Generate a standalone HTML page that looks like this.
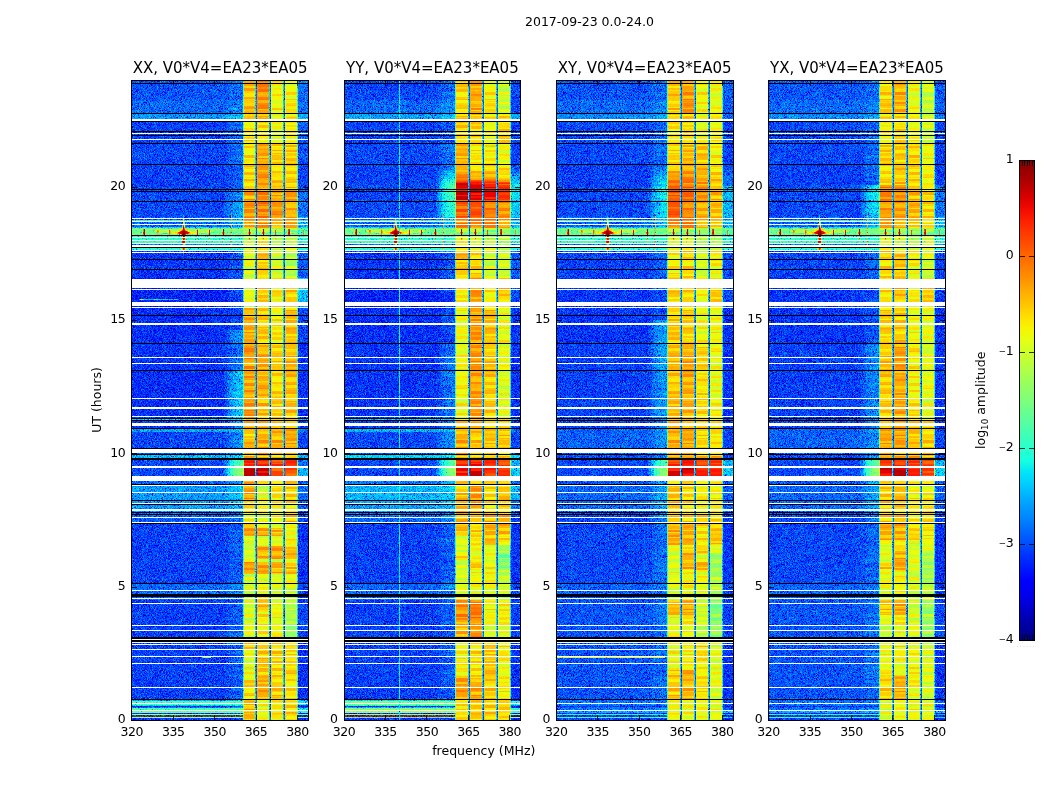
<!DOCTYPE html>
<html lang="en"><head><meta charset="utf-8"><title>2017-09-23 0.0-24.0</title>
<style>html,body{margin:0;padding:0;background:#fff}svg{display:block}text{font-family:'DejaVu Sans','Liberation Sans',sans-serif;fill:#000}</style></head><body>
<svg width="1050" height="800" viewBox="0 0 1050 800">
<rect width="1050" height="800" fill="#fff"/>
<defs>
<filter id="jet0" filterUnits="userSpaceOnUse" x="130" y="79" width="181" height="643" color-interpolation-filters="sRGB">
<feTurbulence type="fractalNoise" baseFrequency="1.37 1.53" numOctaves="2" seed="3" result="t"/>
<feColorMatrix in="t" type="matrix" values="1 0 0 0 0  1 0 0 0 0  1 0 0 0 0  0 0 0 0 1" result="n"/>
<feComponentTransfer in="n" result="n"><feFuncR type="table" tableValues="0 .05 .15 .33 .45 .5 .55 .6 .63 .65 .66"/><feFuncG type="table" tableValues="0 .05 .15 .33 .45 .5 .55 .6 .63 .65 .66"/><feFuncB type="table" tableValues="0 .05 .15 .33 .45 .5 .55 .6 .63 .65 .66"/></feComponentTransfer>
<feComposite in="SourceGraphic" in2="n" operator="arithmetic" k1="-.85" k2="1.417" k3=".85" k4="-.416" result="v"/>
<feComponentTransfer in="v" result="c"><feFuncR type="table" tableValues="0 0 0 0 0 0 0 0 0 0 0 0 0 0 0 0 0 0 0 0 0 0 0 .047 .098 .149 .199 .25 .3 .351 .402 .452 .515 .566 .617 .667 .718 .769 .819 .87 .92 .971 1 1 1 1 1 1 1 1 1 1 1 1 1 1 .999 .928 .857 .785 .714 .643 .571 .5"/><feFuncG type="table" tableValues="0 0 0 0 0 0 0 0 .002 .065 .127 .19 .253 .316 .378 .441 .52 .582 .645 .708 .771 .833 .896 .959 1 1 1 1 1 1 1 1 1 1 1 1 1 1 1 1 1 .959 .901 .843 .785 .727 .669 .611 .538 .48 .422 .364 .306 .248 .19 .131 .073 .015 0 0 0 0 0 0"/><feFuncB type="table" tableValues=".5 .571 .643 .714 .785 .857 .928 .999 1 1 1 1 1 1 1 1 1 1 1 1 1 1 .971 .92 .87 .819 .769 .718 .667 .617 .566 .515 .452 .402 .351 .3 .25 .199 .149 .098 .047 0 0 0 0 0 0 0 0 0 0 0 0 0 0 0 0 0 0 0 0 0 0 0"/><feFuncA type="linear" slope="0" intercept="1"/></feComponentTransfer>
<feComposite in="c" in2="SourceGraphic" operator="in"/>
</filter>
<filter id="jb0" filterUnits="userSpaceOnUse" x="130" y="79" width="181" height="643" color-interpolation-filters="sRGB">
<feTurbulence type="fractalNoise" baseFrequency="1.37 1.53" numOctaves="2" seed="5" result="t"/>
<feColorMatrix in="t" type="matrix" values="1 0 0 0 0  1 0 0 0 0  1 0 0 0 0  0 0 0 0 1" result="n"/>
<feComponentTransfer in="n" result="n"><feFuncR type="table" tableValues="0 .05 .15 .33 .45 .5 .55 .6 .63 .65 .66"/><feFuncG type="table" tableValues="0 .05 .15 .33 .45 .5 .55 .6 .63 .65 .66"/><feFuncB type="table" tableValues="0 .05 .15 .33 .45 .5 .55 .6 .63 .65 .66"/></feComponentTransfer>
<feComposite in="SourceGraphic" in2="n" operator="arithmetic" k1="-.3" k2="1.147" k3=".3" k4="-.147" result="v"/>
<feComponentTransfer in="v" result="c"><feFuncR type="table" tableValues="0 0 0 0 0 0 0 0 0 0 0 0 0 0 0 0 0 0 0 0 0 0 0 .047 .098 .149 .199 .25 .3 .351 .402 .452 .515 .566 .617 .667 .718 .769 .819 .87 .92 .971 1 1 1 1 1 1 1 1 1 1 1 1 1 1 .999 .928 .857 .785 .714 .643 .571 .5"/><feFuncG type="table" tableValues="0 0 0 0 0 0 0 0 .002 .065 .127 .19 .253 .316 .378 .441 .52 .582 .645 .708 .771 .833 .896 .959 1 1 1 1 1 1 1 1 1 1 1 1 1 1 1 1 1 .959 .901 .843 .785 .727 .669 .611 .538 .48 .422 .364 .306 .248 .19 .131 .073 .015 0 0 0 0 0 0"/><feFuncB type="table" tableValues=".5 .571 .643 .714 .785 .857 .928 .999 1 1 1 1 1 1 1 1 1 1 1 1 1 1 .971 .92 .87 .819 .769 .718 .667 .617 .566 .515 .452 .402 .351 .3 .25 .199 .149 .098 .047 0 0 0 0 0 0 0 0 0 0 0 0 0 0 0 0 0 0 0 0 0 0 0"/><feFuncA type="linear" slope="0" intercept="1"/></feComponentTransfer>
<feComposite in="c" in2="SourceGraphic" operator="in"/>
</filter>
<filter id="jet1" filterUnits="userSpaceOnUse" x="342" y="79" width="181" height="643" color-interpolation-filters="sRGB">
<feTurbulence type="fractalNoise" baseFrequency="1.37 1.53" numOctaves="2" seed="10" result="t"/>
<feColorMatrix in="t" type="matrix" values="1 0 0 0 0  1 0 0 0 0  1 0 0 0 0  0 0 0 0 1" result="n"/>
<feComponentTransfer in="n" result="n"><feFuncR type="table" tableValues="0 .05 .15 .33 .45 .5 .55 .6 .63 .65 .66"/><feFuncG type="table" tableValues="0 .05 .15 .33 .45 .5 .55 .6 .63 .65 .66"/><feFuncB type="table" tableValues="0 .05 .15 .33 .45 .5 .55 .6 .63 .65 .66"/></feComponentTransfer>
<feComposite in="SourceGraphic" in2="n" operator="arithmetic" k1="-.85" k2="1.417" k3=".85" k4="-.416" result="v"/>
<feComponentTransfer in="v" result="c"><feFuncR type="table" tableValues="0 0 0 0 0 0 0 0 0 0 0 0 0 0 0 0 0 0 0 0 0 0 0 .047 .098 .149 .199 .25 .3 .351 .402 .452 .515 .566 .617 .667 .718 .769 .819 .87 .92 .971 1 1 1 1 1 1 1 1 1 1 1 1 1 1 .999 .928 .857 .785 .714 .643 .571 .5"/><feFuncG type="table" tableValues="0 0 0 0 0 0 0 0 .002 .065 .127 .19 .253 .316 .378 .441 .52 .582 .645 .708 .771 .833 .896 .959 1 1 1 1 1 1 1 1 1 1 1 1 1 1 1 1 1 .959 .901 .843 .785 .727 .669 .611 .538 .48 .422 .364 .306 .248 .19 .131 .073 .015 0 0 0 0 0 0"/><feFuncB type="table" tableValues=".5 .571 .643 .714 .785 .857 .928 .999 1 1 1 1 1 1 1 1 1 1 1 1 1 1 .971 .92 .87 .819 .769 .718 .667 .617 .566 .515 .452 .402 .351 .3 .25 .199 .149 .098 .047 0 0 0 0 0 0 0 0 0 0 0 0 0 0 0 0 0 0 0 0 0 0 0"/><feFuncA type="linear" slope="0" intercept="1"/></feComponentTransfer>
<feComposite in="c" in2="SourceGraphic" operator="in"/>
</filter>
<filter id="jb1" filterUnits="userSpaceOnUse" x="342" y="79" width="181" height="643" color-interpolation-filters="sRGB">
<feTurbulence type="fractalNoise" baseFrequency="1.37 1.53" numOctaves="2" seed="12" result="t"/>
<feColorMatrix in="t" type="matrix" values="1 0 0 0 0  1 0 0 0 0  1 0 0 0 0  0 0 0 0 1" result="n"/>
<feComponentTransfer in="n" result="n"><feFuncR type="table" tableValues="0 .05 .15 .33 .45 .5 .55 .6 .63 .65 .66"/><feFuncG type="table" tableValues="0 .05 .15 .33 .45 .5 .55 .6 .63 .65 .66"/><feFuncB type="table" tableValues="0 .05 .15 .33 .45 .5 .55 .6 .63 .65 .66"/></feComponentTransfer>
<feComposite in="SourceGraphic" in2="n" operator="arithmetic" k1="-.3" k2="1.147" k3=".3" k4="-.147" result="v"/>
<feComponentTransfer in="v" result="c"><feFuncR type="table" tableValues="0 0 0 0 0 0 0 0 0 0 0 0 0 0 0 0 0 0 0 0 0 0 0 .047 .098 .149 .199 .25 .3 .351 .402 .452 .515 .566 .617 .667 .718 .769 .819 .87 .92 .971 1 1 1 1 1 1 1 1 1 1 1 1 1 1 .999 .928 .857 .785 .714 .643 .571 .5"/><feFuncG type="table" tableValues="0 0 0 0 0 0 0 0 .002 .065 .127 .19 .253 .316 .378 .441 .52 .582 .645 .708 .771 .833 .896 .959 1 1 1 1 1 1 1 1 1 1 1 1 1 1 1 1 1 .959 .901 .843 .785 .727 .669 .611 .538 .48 .422 .364 .306 .248 .19 .131 .073 .015 0 0 0 0 0 0"/><feFuncB type="table" tableValues=".5 .571 .643 .714 .785 .857 .928 .999 1 1 1 1 1 1 1 1 1 1 1 1 1 1 .971 .92 .87 .819 .769 .718 .667 .617 .566 .515 .452 .402 .351 .3 .25 .199 .149 .098 .047 0 0 0 0 0 0 0 0 0 0 0 0 0 0 0 0 0 0 0 0 0 0 0"/><feFuncA type="linear" slope="0" intercept="1"/></feComponentTransfer>
<feComposite in="c" in2="SourceGraphic" operator="in"/>
</filter>
<filter id="jet2" filterUnits="userSpaceOnUse" x="554" y="79" width="181" height="643" color-interpolation-filters="sRGB">
<feTurbulence type="fractalNoise" baseFrequency="1.37 1.53" numOctaves="2" seed="17" result="t"/>
<feColorMatrix in="t" type="matrix" values="1 0 0 0 0  1 0 0 0 0  1 0 0 0 0  0 0 0 0 1" result="n"/>
<feComponentTransfer in="n" result="n"><feFuncR type="table" tableValues="0 .05 .15 .33 .45 .5 .55 .6 .63 .65 .66"/><feFuncG type="table" tableValues="0 .05 .15 .33 .45 .5 .55 .6 .63 .65 .66"/><feFuncB type="table" tableValues="0 .05 .15 .33 .45 .5 .55 .6 .63 .65 .66"/></feComponentTransfer>
<feComposite in="SourceGraphic" in2="n" operator="arithmetic" k1="-.85" k2="1.417" k3=".85" k4="-.416" result="v"/>
<feComponentTransfer in="v" result="c"><feFuncR type="table" tableValues="0 0 0 0 0 0 0 0 0 0 0 0 0 0 0 0 0 0 0 0 0 0 0 .047 .098 .149 .199 .25 .3 .351 .402 .452 .515 .566 .617 .667 .718 .769 .819 .87 .92 .971 1 1 1 1 1 1 1 1 1 1 1 1 1 1 .999 .928 .857 .785 .714 .643 .571 .5"/><feFuncG type="table" tableValues="0 0 0 0 0 0 0 0 .002 .065 .127 .19 .253 .316 .378 .441 .52 .582 .645 .708 .771 .833 .896 .959 1 1 1 1 1 1 1 1 1 1 1 1 1 1 1 1 1 .959 .901 .843 .785 .727 .669 .611 .538 .48 .422 .364 .306 .248 .19 .131 .073 .015 0 0 0 0 0 0"/><feFuncB type="table" tableValues=".5 .571 .643 .714 .785 .857 .928 .999 1 1 1 1 1 1 1 1 1 1 1 1 1 1 .971 .92 .87 .819 .769 .718 .667 .617 .566 .515 .452 .402 .351 .3 .25 .199 .149 .098 .047 0 0 0 0 0 0 0 0 0 0 0 0 0 0 0 0 0 0 0 0 0 0 0"/><feFuncA type="linear" slope="0" intercept="1"/></feComponentTransfer>
<feComposite in="c" in2="SourceGraphic" operator="in"/>
</filter>
<filter id="jb2" filterUnits="userSpaceOnUse" x="554" y="79" width="181" height="643" color-interpolation-filters="sRGB">
<feTurbulence type="fractalNoise" baseFrequency="1.37 1.53" numOctaves="2" seed="19" result="t"/>
<feColorMatrix in="t" type="matrix" values="1 0 0 0 0  1 0 0 0 0  1 0 0 0 0  0 0 0 0 1" result="n"/>
<feComponentTransfer in="n" result="n"><feFuncR type="table" tableValues="0 .05 .15 .33 .45 .5 .55 .6 .63 .65 .66"/><feFuncG type="table" tableValues="0 .05 .15 .33 .45 .5 .55 .6 .63 .65 .66"/><feFuncB type="table" tableValues="0 .05 .15 .33 .45 .5 .55 .6 .63 .65 .66"/></feComponentTransfer>
<feComposite in="SourceGraphic" in2="n" operator="arithmetic" k1="-.3" k2="1.147" k3=".3" k4="-.147" result="v"/>
<feComponentTransfer in="v" result="c"><feFuncR type="table" tableValues="0 0 0 0 0 0 0 0 0 0 0 0 0 0 0 0 0 0 0 0 0 0 0 .047 .098 .149 .199 .25 .3 .351 .402 .452 .515 .566 .617 .667 .718 .769 .819 .87 .92 .971 1 1 1 1 1 1 1 1 1 1 1 1 1 1 .999 .928 .857 .785 .714 .643 .571 .5"/><feFuncG type="table" tableValues="0 0 0 0 0 0 0 0 .002 .065 .127 .19 .253 .316 .378 .441 .52 .582 .645 .708 .771 .833 .896 .959 1 1 1 1 1 1 1 1 1 1 1 1 1 1 1 1 1 .959 .901 .843 .785 .727 .669 .611 .538 .48 .422 .364 .306 .248 .19 .131 .073 .015 0 0 0 0 0 0"/><feFuncB type="table" tableValues=".5 .571 .643 .714 .785 .857 .928 .999 1 1 1 1 1 1 1 1 1 1 1 1 1 1 .971 .92 .87 .819 .769 .718 .667 .617 .566 .515 .452 .402 .351 .3 .25 .199 .149 .098 .047 0 0 0 0 0 0 0 0 0 0 0 0 0 0 0 0 0 0 0 0 0 0 0"/><feFuncA type="linear" slope="0" intercept="1"/></feComponentTransfer>
<feComposite in="c" in2="SourceGraphic" operator="in"/>
</filter>
<filter id="jet3" filterUnits="userSpaceOnUse" x="767" y="79" width="181" height="643" color-interpolation-filters="sRGB">
<feTurbulence type="fractalNoise" baseFrequency="1.37 1.53" numOctaves="2" seed="24" result="t"/>
<feColorMatrix in="t" type="matrix" values="1 0 0 0 0  1 0 0 0 0  1 0 0 0 0  0 0 0 0 1" result="n"/>
<feComponentTransfer in="n" result="n"><feFuncR type="table" tableValues="0 .05 .15 .33 .45 .5 .55 .6 .63 .65 .66"/><feFuncG type="table" tableValues="0 .05 .15 .33 .45 .5 .55 .6 .63 .65 .66"/><feFuncB type="table" tableValues="0 .05 .15 .33 .45 .5 .55 .6 .63 .65 .66"/></feComponentTransfer>
<feComposite in="SourceGraphic" in2="n" operator="arithmetic" k1="-.85" k2="1.417" k3=".85" k4="-.416" result="v"/>
<feComponentTransfer in="v" result="c"><feFuncR type="table" tableValues="0 0 0 0 0 0 0 0 0 0 0 0 0 0 0 0 0 0 0 0 0 0 0 .047 .098 .149 .199 .25 .3 .351 .402 .452 .515 .566 .617 .667 .718 .769 .819 .87 .92 .971 1 1 1 1 1 1 1 1 1 1 1 1 1 1 .999 .928 .857 .785 .714 .643 .571 .5"/><feFuncG type="table" tableValues="0 0 0 0 0 0 0 0 .002 .065 .127 .19 .253 .316 .378 .441 .52 .582 .645 .708 .771 .833 .896 .959 1 1 1 1 1 1 1 1 1 1 1 1 1 1 1 1 1 .959 .901 .843 .785 .727 .669 .611 .538 .48 .422 .364 .306 .248 .19 .131 .073 .015 0 0 0 0 0 0"/><feFuncB type="table" tableValues=".5 .571 .643 .714 .785 .857 .928 .999 1 1 1 1 1 1 1 1 1 1 1 1 1 1 .971 .92 .87 .819 .769 .718 .667 .617 .566 .515 .452 .402 .351 .3 .25 .199 .149 .098 .047 0 0 0 0 0 0 0 0 0 0 0 0 0 0 0 0 0 0 0 0 0 0 0"/><feFuncA type="linear" slope="0" intercept="1"/></feComponentTransfer>
<feComposite in="c" in2="SourceGraphic" operator="in"/>
</filter>
<filter id="jb3" filterUnits="userSpaceOnUse" x="767" y="79" width="181" height="643" color-interpolation-filters="sRGB">
<feTurbulence type="fractalNoise" baseFrequency="1.37 1.53" numOctaves="2" seed="26" result="t"/>
<feColorMatrix in="t" type="matrix" values="1 0 0 0 0  1 0 0 0 0  1 0 0 0 0  0 0 0 0 1" result="n"/>
<feComponentTransfer in="n" result="n"><feFuncR type="table" tableValues="0 .05 .15 .33 .45 .5 .55 .6 .63 .65 .66"/><feFuncG type="table" tableValues="0 .05 .15 .33 .45 .5 .55 .6 .63 .65 .66"/><feFuncB type="table" tableValues="0 .05 .15 .33 .45 .5 .55 .6 .63 .65 .66"/></feComponentTransfer>
<feComposite in="SourceGraphic" in2="n" operator="arithmetic" k1="-.3" k2="1.147" k3=".3" k4="-.147" result="v"/>
<feComponentTransfer in="v" result="c"><feFuncR type="table" tableValues="0 0 0 0 0 0 0 0 0 0 0 0 0 0 0 0 0 0 0 0 0 0 0 .047 .098 .149 .199 .25 .3 .351 .402 .452 .515 .566 .617 .667 .718 .769 .819 .87 .92 .971 1 1 1 1 1 1 1 1 1 1 1 1 1 1 .999 .928 .857 .785 .714 .643 .571 .5"/><feFuncG type="table" tableValues="0 0 0 0 0 0 0 0 .002 .065 .127 .19 .253 .316 .378 .441 .52 .582 .645 .708 .771 .833 .896 .959 1 1 1 1 1 1 1 1 1 1 1 1 1 1 1 1 1 .959 .901 .843 .785 .727 .669 .611 .538 .48 .422 .364 .306 .248 .19 .131 .073 .015 0 0 0 0 0 0"/><feFuncB type="table" tableValues=".5 .571 .643 .714 .785 .857 .928 .999 1 1 1 1 1 1 1 1 1 1 1 1 1 1 .971 .92 .87 .819 .769 .718 .667 .617 .566 .515 .452 .402 .351 .3 .25 .199 .149 .098 .047 0 0 0 0 0 0 0 0 0 0 0 0 0 0 0 0 0 0 0 0 0 0 0"/><feFuncA type="linear" slope="0" intercept="1"/></feComponentTransfer>
<feComposite in="c" in2="SourceGraphic" operator="in"/>
</filter>
<linearGradient id="cb" x1="0" y1="0" x2="0" y2="1">
<stop offset="0" stop-color="#800000"/>
<stop offset=".025" stop-color="#9b0000"/>
<stop offset=".05" stop-color="#b60000"/>
<stop offset=".075" stop-color="#d60000"/>
<stop offset=".1" stop-color="#f10800"/>
<stop offset=".125" stop-color="#ff1e00"/>
<stop offset=".15" stop-color="#ff3800"/>
<stop offset=".175" stop-color="#ff4e00"/>
<stop offset=".2" stop-color="#ff6800"/>
<stop offset=".225" stop-color="#ff7e00"/>
<stop offset=".25" stop-color="#ff9400"/>
<stop offset=".275" stop-color="#ffae00"/>
<stop offset=".3" stop-color="#ffc400"/>
<stop offset=".325" stop-color="#ffde00"/>
<stop offset=".35" stop-color="#f8f500"/>
<stop offset=".375" stop-color="#e4ff13"/>
<stop offset=".4" stop-color="#ceff29"/>
<stop offset=".425" stop-color="#baff3c"/>
<stop offset=".45" stop-color="#a4ff53"/>
<stop offset=".475" stop-color="#90ff66"/>
<stop offset=".5" stop-color="#7dff7a"/>
<stop offset=".525" stop-color="#66ff90"/>
<stop offset=".55" stop-color="#53ffa4"/>
<stop offset=".575" stop-color="#3cffba"/>
<stop offset=".6" stop-color="#29ffce"/>
<stop offset=".625" stop-color="#16ffe1"/>
<stop offset=".65" stop-color="#00e4f8"/>
<stop offset=".675" stop-color="#00ccff"/>
<stop offset=".7" stop-color="#00b0ff"/>
<stop offset=".725" stop-color="#0098ff"/>
<stop offset=".75" stop-color="#0080ff"/>
<stop offset=".775" stop-color="#0064ff"/>
<stop offset=".8" stop-color="#004cff"/>
<stop offset=".825" stop-color="#0030ff"/>
<stop offset=".85" stop-color="#0018ff"/>
<stop offset=".875" stop-color="#0000ff"/>
<stop offset=".9" stop-color="#0000f1"/>
<stop offset=".925" stop-color="#0000d6"/>
<stop offset=".95" stop-color="#0000b6"/>
<stop offset=".975" stop-color="#00009b"/>
<stop offset="1" stop-color="#000080"/>
</linearGradient>
<pattern id="st" patternUnits="userSpaceOnUse" width="40" height="211">
<rect y="2" width="40" height="2" fill="#fff" opacity=".151"/>
<rect y="4" width="40" height="1" fill="#000" opacity=".048"/>
<rect y="5" width="40" height="3" fill="#fff" opacity=".064"/>
<rect y="8" width="40" height="2" fill="#000" opacity=".025"/>
<rect y="10" width="40" height="3" fill="#fff" opacity=".117"/>
<rect y="15" width="40" height="3" fill="#fff" opacity=".125"/>
<rect y="18" width="40" height="2" fill="#000" opacity=".049"/>
<rect y="20" width="40" height="1" fill="#000" opacity=".068"/>
<rect y="21" width="40" height="2" fill="#000" opacity=".046"/>
<rect y="23" width="40" height="2" fill="#fff" opacity=".065"/>
<rect y="25" width="40" height="1" fill="#fff" opacity=".105"/>
<rect y="26" width="40" height="3" fill="#000" opacity=".056"/>
<rect y="31" width="40" height="1" fill="#fff" opacity=".081"/>
<rect y="32" width="40" height="1" fill="#fff" opacity=".044"/>
<rect y="33" width="40" height="2" fill="#fff" opacity=".092"/>
<rect y="35" width="40" height="1" fill="#000" opacity=".073"/>
<rect y="36" width="40" height="3" fill="#000" opacity=".032"/>
<rect y="39" width="40" height="1" fill="#fff" opacity=".167"/>
<rect y="40" width="40" height="2" fill="#000" opacity=".051"/>
<rect y="42" width="40" height="1" fill="#fff" opacity=".075"/>
<rect y="43" width="40" height="1" fill="#000" opacity=".021"/>
<rect y="44" width="40" height="2" fill="#fff" opacity=".055"/>
<rect y="46" width="40" height="1" fill="#fff" opacity=".041"/>
<rect y="47" width="40" height="2" fill="#fff" opacity=".063"/>
<rect y="49" width="40" height="2" fill="#000" opacity=".048"/>
<rect y="51" width="40" height="3" fill="#fff" opacity=".094"/>
<rect y="54" width="40" height="2" fill="#000" opacity=".043"/>
<rect y="56" width="40" height="1" fill="#000" opacity=".068"/>
<rect y="57" width="40" height="2" fill="#000" opacity=".069"/>
<rect y="59" width="40" height="1" fill="#000" opacity=".075"/>
<rect y="60" width="40" height="2" fill="#fff" opacity=".053"/>
<rect y="62" width="40" height="1" fill="#000" opacity=".034"/>
<rect y="63" width="40" height="2" fill="#000" opacity=".036"/>
<rect y="65" width="40" height="1" fill="#000" opacity=".031"/>
<rect y="66" width="40" height="3" fill="#000" opacity=".053"/>
<rect y="69" width="40" height="1" fill="#fff" opacity=".057"/>
<rect y="70" width="40" height="2" fill="#fff" opacity=".115"/>
<rect y="72" width="40" height="2" fill="#000" opacity=".028"/>
<rect y="75" width="40" height="1" fill="#fff" opacity=".061"/>
<rect y="79" width="40" height="1" fill="#fff" opacity=".09"/>
<rect y="80" width="40" height="2" fill="#fff" opacity=".095"/>
<rect y="82" width="40" height="1" fill="#000" opacity=".048"/>
<rect y="83" width="40" height="1" fill="#000" opacity=".059"/>
<rect y="84" width="40" height="1" fill="#fff" opacity=".158"/>
<rect y="85" width="40" height="2" fill="#000" opacity=".03"/>
<rect y="90" width="40" height="1" fill="#000" opacity=".051"/>
<rect y="91" width="40" height="2" fill="#fff" opacity=".076"/>
<rect y="93" width="40" height="1" fill="#fff" opacity=".049"/>
<rect y="94" width="40" height="2" fill="#fff" opacity=".048"/>
<rect y="96" width="40" height="1" fill="#000" opacity=".049"/>
<rect y="97" width="40" height="1" fill="#000" opacity=".028"/>
<rect y="100" width="40" height="3" fill="#fff" opacity=".108"/>
<rect y="103" width="40" height="1" fill="#fff" opacity=".16"/>
<rect y="106" width="40" height="3" fill="#000" opacity=".022"/>
<rect y="109" width="40" height="2" fill="#fff" opacity=".103"/>
<rect y="111" width="40" height="3" fill="#000" opacity=".028"/>
<rect y="114" width="40" height="1" fill="#000" opacity=".05"/>
<rect y="115" width="40" height="3" fill="#000" opacity=".071"/>
<rect y="118" width="40" height="3" fill="#fff" opacity=".143"/>
<rect y="121" width="40" height="1" fill="#000" opacity=".058"/>
<rect y="126" width="40" height="2" fill="#000" opacity=".056"/>
<rect y="128" width="40" height="2" fill="#fff" opacity=".119"/>
<rect y="130" width="40" height="1" fill="#000" opacity=".026"/>
<rect y="132" width="40" height="3" fill="#000" opacity=".071"/>
<rect y="135" width="40" height="3" fill="#fff" opacity=".097"/>
<rect y="138" width="40" height="2" fill="#000" opacity=".061"/>
<rect y="140" width="40" height="1" fill="#000" opacity=".025"/>
<rect y="141" width="40" height="1" fill="#000" opacity=".058"/>
<rect y="142" width="40" height="2" fill="#fff" opacity=".126"/>
<rect y="144" width="40" height="2" fill="#000" opacity=".021"/>
<rect y="146" width="40" height="1" fill="#000" opacity=".054"/>
<rect y="147" width="40" height="2" fill="#000" opacity=".07"/>
<rect y="154" width="40" height="1" fill="#000" opacity=".034"/>
<rect y="155" width="40" height="3" fill="#fff" opacity=".145"/>
<rect y="159" width="40" height="2" fill="#000" opacity=".071"/>
<rect y="161" width="40" height="1" fill="#000" opacity=".047"/>
<rect y="162" width="40" height="1" fill="#fff" opacity=".164"/>
<rect y="164" width="40" height="1" fill="#fff" opacity=".076"/>
<rect y="166" width="40" height="2" fill="#fff" opacity=".104"/>
<rect y="168" width="40" height="1" fill="#fff" opacity=".149"/>
<rect y="169" width="40" height="2" fill="#fff" opacity=".05"/>
<rect y="171" width="40" height="1" fill="#000" opacity=".053"/>
<rect y="172" width="40" height="3" fill="#fff" opacity=".114"/>
<rect y="175" width="40" height="1" fill="#fff" opacity=".113"/>
<rect y="176" width="40" height="3" fill="#000" opacity=".045"/>
<rect y="179" width="40" height="1" fill="#fff" opacity=".075"/>
<rect y="180" width="40" height="1" fill="#fff" opacity=".168"/>
<rect y="181" width="40" height="1" fill="#fff" opacity=".122"/>
<rect y="182" width="40" height="3" fill="#fff" opacity=".088"/>
<rect y="185" width="40" height="1" fill="#fff" opacity=".066"/>
<rect y="186" width="40" height="2" fill="#000" opacity=".059"/>
<rect y="188" width="40" height="2" fill="#fff" opacity=".045"/>
<rect y="190" width="40" height="1" fill="#000" opacity=".039"/>
<rect y="194" width="40" height="2" fill="#fff" opacity=".138"/>
<rect y="201" width="40" height="1" fill="#000" opacity=".069"/>
<rect y="202" width="40" height="2" fill="#000" opacity=".045"/>
<rect y="207" width="40" height="1" fill="#000" opacity=".051"/>
<rect y="208" width="40" height="2" fill="#fff" opacity=".163"/>
<rect y="210" width="40" height="2" fill="#000" opacity=".074"/>
</pattern>
<pattern id="st1" href="#st" patternTransform="translate(0 37)"/>
<pattern id="st2" href="#st" patternTransform="translate(0 74)"/>
<pattern id="st3" href="#st" patternTransform="translate(0 111)"/>
<pattern id="st4" href="#st" patternTransform="translate(0 148)"/>
<pattern id="st5" href="#st" patternTransform="translate(0 185)"/>
<linearGradient id="p0c0" gradientUnits="userSpaceOnUse" x1="0" y1="80" x2="0" y2="720">
<stop offset="0" stop-color="#343434"/>
<stop offset=".0312" stop-color="#343434"/>
<stop offset=".0312" stop-color="#393939"/>
<stop offset=".0525" stop-color="#393939"/>
<stop offset=".0525" stop-color="#454545"/>
<stop offset=".0645" stop-color="#454545"/>
<stop offset=".0645" stop-color="#2f2f2f"/>
<stop offset=".0992" stop-color="#2f2f2f"/>
<stop offset=".0992" stop-color="#313131"/>
<stop offset=".1322" stop-color="#313131"/>
<stop offset=".1322" stop-color="#2f2f2f"/>
<stop offset=".1718" stop-color="#2f2f2f"/>
<stop offset=".1719" stop-color="#313131"/>
<stop offset=".214" stop-color="#313131"/>
<stop offset=".2141" stop-color="#393939"/>
<stop offset=".2172" stop-color="#393939"/>
<stop offset=".2172" stop-color="#313131"/>
<stop offset=".2187" stop-color="#313131"/>
<stop offset=".2188" stop-color="#6b6b6b"/>
<stop offset=".2203" stop-color="#6b6b6b"/>
<stop offset=".2203" stop-color="#373737"/>
<stop offset=".2297" stop-color="#373737"/>
<stop offset=".2297" stop-color="#525252"/>
<stop offset=".2312" stop-color="#525252"/>
<stop offset=".2313" stop-color="#757575"/>
<stop offset=".2328" stop-color="#757575"/>
<stop offset=".2328" stop-color="#8a8a8a"/>
<stop offset=".2343" stop-color="#8a8a8a"/>
<stop offset=".2344" stop-color="#7a7a7a"/>
<stop offset=".2437" stop-color="#7a7a7a"/>
<stop offset=".2437" stop-color="#666666"/>
<stop offset=".2515" stop-color="#666666"/>
<stop offset=".2516" stop-color="#6b6b6b"/>
<stop offset=".2562" stop-color="#6b6b6b"/>
<stop offset=".2562" stop-color="#3c3c3c"/>
<stop offset=".2625" stop-color="#3c3c3c"/>
<stop offset=".2625" stop-color="#666666"/>
<stop offset=".2672" stop-color="#666666"/>
<stop offset=".2672" stop-color="#313131"/>
<stop offset=".2703" stop-color="#313131"/>
<stop offset=".2703" stop-color="#2c2c2c"/>
<stop offset=".3093" stop-color="#2c2c2c"/>
<stop offset=".3094" stop-color="#272727"/>
<stop offset=".3547" stop-color="#272727"/>
<stop offset=".3547" stop-color="#2a2a2a"/>
<stop offset=".412" stop-color="#2a2a2a"/>
<stop offset=".412" stop-color="#2c2c2c"/>
<stop offset=".4537" stop-color="#2c2c2c"/>
<stop offset=".4537" stop-color="#2a2a2a"/>
<stop offset=".5281" stop-color="#2a2a2a"/>
<stop offset=".5281" stop-color="#2c2c2c"/>
<stop offset=".5297" stop-color="#2c2c2c"/>
<stop offset=".5297" stop-color="#525252"/>
<stop offset=".5312" stop-color="#525252"/>
<stop offset=".5312" stop-color="#2c2c2c"/>
<stop offset=".5453" stop-color="#2c2c2c"/>
<stop offset=".5453" stop-color="#474747"/>
<stop offset=".55" stop-color="#474747"/>
<stop offset=".55" stop-color="#313131"/>
<stop offset=".5859" stop-color="#313131"/>
<stop offset=".5859" stop-color="#4c4c4c"/>
<stop offset=".5906" stop-color="#4c4c4c"/>
<stop offset=".5906" stop-color="#313131"/>
<stop offset=".6187" stop-color="#313131"/>
<stop offset=".6188" stop-color="#373737"/>
<stop offset=".6312" stop-color="#373737"/>
<stop offset=".6312" stop-color="#454545"/>
<stop offset=".675" stop-color="#454545"/>
<stop offset=".675" stop-color="#373737"/>
<stop offset=".6929" stop-color="#373737"/>
<stop offset=".693" stop-color="#2f2f2f"/>
<stop offset=".7867" stop-color="#2f2f2f"/>
<stop offset=".7867" stop-color="#393939"/>
<stop offset=".8125" stop-color="#393939"/>
<stop offset=".8125" stop-color="#2f2f2f"/>
<stop offset=".9687" stop-color="#2f2f2f"/>
<stop offset=".9688" stop-color="#474747"/>
<stop offset=".9703" stop-color="#474747"/>
<stop offset=".9703" stop-color="#707070"/>
<stop offset=".9765" stop-color="#707070"/>
<stop offset=".9766" stop-color="#525252"/>
<stop offset=".9781" stop-color="#525252"/>
<stop offset=".9781" stop-color="#292929"/>
<stop offset=".9797" stop-color="#292929"/>
<stop offset=".9797" stop-color="#3d3d3d"/>
<stop offset=".9812" stop-color="#3d3d3d"/>
<stop offset=".9812" stop-color="#707070"/>
<stop offset=".9859" stop-color="#707070"/>
<stop offset=".9859" stop-color="#7a7a7a"/>
<stop offset=".989" stop-color="#7a7a7a"/>
<stop offset=".9891" stop-color="#292929"/>
<stop offset=".9906" stop-color="#292929"/>
<stop offset=".9906" stop-color="#999999"/>
<stop offset=".9922" stop-color="#999999"/>
<stop offset=".9922" stop-color="#2e2e2e"/>
<stop offset=".9953" stop-color="#2e2e2e"/>
<stop offset=".9953" stop-color="#a3a3a3"/>
<stop offset=".9968" stop-color="#a3a3a3"/>
<stop offset=".9969" stop-color="#2e2e2e"/>
</linearGradient>
<linearGradient id="p0c1" gradientUnits="userSpaceOnUse" x1="0" y1="80" x2="0" y2="720">
<stop offset="0" stop-color="#3a3a3a"/>
<stop offset=".0312" stop-color="#3a3a3a"/>
<stop offset=".0312" stop-color="#3f3f3f"/>
<stop offset=".0525" stop-color="#3f3f3f"/>
<stop offset=".0525" stop-color="#4b4b4b"/>
<stop offset=".0645" stop-color="#4b4b4b"/>
<stop offset=".0645" stop-color="#353535"/>
<stop offset=".0992" stop-color="#353535"/>
<stop offset=".0992" stop-color="#383838"/>
<stop offset=".1322" stop-color="#383838"/>
<stop offset=".1322" stop-color="#353535"/>
<stop offset=".1718" stop-color="#353535"/>
<stop offset=".1719" stop-color="#404040"/>
<stop offset=".1895" stop-color="#404040"/>
<stop offset=".1895" stop-color="#454545"/>
<stop offset=".214" stop-color="#454545"/>
<stop offset=".2141" stop-color="#4c4c4c"/>
<stop offset=".2172" stop-color="#4c4c4c"/>
<stop offset=".2172" stop-color="#474747"/>
<stop offset=".2187" stop-color="#474747"/>
<stop offset=".2188" stop-color="#6b6b6b"/>
<stop offset=".2203" stop-color="#6b6b6b"/>
<stop offset=".2203" stop-color="#4c4c4c"/>
<stop offset=".2297" stop-color="#4c4c4c"/>
<stop offset=".2297" stop-color="#575757"/>
<stop offset=".2312" stop-color="#575757"/>
<stop offset=".2313" stop-color="#757575"/>
<stop offset=".2328" stop-color="#757575"/>
<stop offset=".2328" stop-color="#878787"/>
<stop offset=".2343" stop-color="#878787"/>
<stop offset=".2344" stop-color="#7a7a7a"/>
<stop offset=".2437" stop-color="#7a7a7a"/>
<stop offset=".2437" stop-color="#666666"/>
<stop offset=".2515" stop-color="#666666"/>
<stop offset=".2516" stop-color="#6b6b6b"/>
<stop offset=".2562" stop-color="#6b6b6b"/>
<stop offset=".2562" stop-color="#424242"/>
<stop offset=".2625" stop-color="#424242"/>
<stop offset=".2625" stop-color="#666666"/>
<stop offset=".2672" stop-color="#666666"/>
<stop offset=".2672" stop-color="#3d3d3d"/>
<stop offset=".2703" stop-color="#3d3d3d"/>
<stop offset=".2703" stop-color="#343434"/>
<stop offset=".3093" stop-color="#343434"/>
<stop offset=".3094" stop-color="#2d2d2d"/>
<stop offset=".3547" stop-color="#2d2d2d"/>
<stop offset=".3547" stop-color="#303030"/>
<stop offset=".3906" stop-color="#303030"/>
<stop offset=".3906" stop-color="#404040"/>
<stop offset=".412" stop-color="#404040"/>
<stop offset=".412" stop-color="#3b3b3b"/>
<stop offset=".4537" stop-color="#3b3b3b"/>
<stop offset=".4537" stop-color="#525252"/>
<stop offset=".5281" stop-color="#525252"/>
<stop offset=".5281" stop-color="#3d3d3d"/>
<stop offset=".5297" stop-color="#3d3d3d"/>
<stop offset=".5297" stop-color="#525252"/>
<stop offset=".5312" stop-color="#525252"/>
<stop offset=".5312" stop-color="#3d3d3d"/>
<stop offset=".5453" stop-color="#3d3d3d"/>
<stop offset=".5453" stop-color="#4c4c4c"/>
<stop offset=".55" stop-color="#4c4c4c"/>
<stop offset=".55" stop-color="#424242"/>
<stop offset=".5859" stop-color="#424242"/>
<stop offset=".5859" stop-color="#525252"/>
<stop offset=".5906" stop-color="#525252"/>
<stop offset=".5906" stop-color="#737373"/>
<stop offset=".6047" stop-color="#737373"/>
<stop offset=".6047" stop-color="#878787"/>
<stop offset=".6187" stop-color="#878787"/>
<stop offset=".6188" stop-color="#474747"/>
<stop offset=".6312" stop-color="#474747"/>
<stop offset=".6312" stop-color="#4c4c4c"/>
<stop offset=".6568" stop-color="#4c4c4c"/>
<stop offset=".6569" stop-color="#4a4a4a"/>
<stop offset=".675" stop-color="#4a4a4a"/>
<stop offset=".675" stop-color="#3d3d3d"/>
<stop offset=".6929" stop-color="#3d3d3d"/>
<stop offset=".693" stop-color="#353535"/>
<stop offset=".7867" stop-color="#353535"/>
<stop offset=".7867" stop-color="#3f3f3f"/>
<stop offset=".8125" stop-color="#3f3f3f"/>
<stop offset=".8125" stop-color="#353535"/>
<stop offset=".9687" stop-color="#353535"/>
<stop offset=".9688" stop-color="#474747"/>
<stop offset=".9703" stop-color="#474747"/>
<stop offset=".9703" stop-color="#707070"/>
<stop offset=".9765" stop-color="#707070"/>
<stop offset=".9766" stop-color="#525252"/>
<stop offset=".9781" stop-color="#525252"/>
<stop offset=".9781" stop-color="#292929"/>
<stop offset=".9797" stop-color="#292929"/>
<stop offset=".9797" stop-color="#3d3d3d"/>
<stop offset=".9812" stop-color="#3d3d3d"/>
<stop offset=".9812" stop-color="#707070"/>
<stop offset=".9859" stop-color="#707070"/>
<stop offset=".9859" stop-color="#7a7a7a"/>
<stop offset=".989" stop-color="#7a7a7a"/>
<stop offset=".9891" stop-color="#292929"/>
<stop offset=".9906" stop-color="#292929"/>
<stop offset=".9906" stop-color="#999999"/>
<stop offset=".9922" stop-color="#999999"/>
<stop offset=".9922" stop-color="#2e2e2e"/>
<stop offset=".9953" stop-color="#2e2e2e"/>
<stop offset=".9953" stop-color="#a3a3a3"/>
<stop offset=".9968" stop-color="#a3a3a3"/>
<stop offset=".9969" stop-color="#2e2e2e"/>
</linearGradient>
<linearGradient id="p0c2" gradientUnits="userSpaceOnUse" x1="0" y1="80" x2="0" y2="720">
<stop offset="0" stop-color="#b7b7b7"/>
<stop offset=".0525" stop-color="#b7b7b7"/>
<stop offset=".0525" stop-color="#adadad"/>
<stop offset=".0645" stop-color="#adadad"/>
<stop offset=".0645" stop-color="#a6a6a6"/>
<stop offset=".0992" stop-color="#a6a6a6"/>
<stop offset=".0992" stop-color="#ababab"/>
<stop offset=".1322" stop-color="#ababab"/>
<stop offset=".1322" stop-color="#b0b0b0"/>
<stop offset=".1718" stop-color="#b0b0b0"/>
<stop offset=".1719" stop-color="#bababa"/>
<stop offset=".1895" stop-color="#bababa"/>
<stop offset=".1895" stop-color="#bdbdbd"/>
<stop offset=".2187" stop-color="#bdbdbd"/>
<stop offset=".2188" stop-color="#b5b5b5"/>
<stop offset=".2203" stop-color="#b5b5b5"/>
<stop offset=".2203" stop-color="#bdbdbd"/>
<stop offset=".2297" stop-color="#bdbdbd"/>
<stop offset=".2297" stop-color="#b8b8b8"/>
<stop offset=".2312" stop-color="#b8b8b8"/>
<stop offset=".2313" stop-color="#8f8f8f"/>
<stop offset=".2328" stop-color="#8f8f8f"/>
<stop offset=".2328" stop-color="#949494"/>
<stop offset=".2343" stop-color="#949494"/>
<stop offset=".2344" stop-color="#858585"/>
<stop offset=".2437" stop-color="#858585"/>
<stop offset=".2437" stop-color="#949494"/>
<stop offset=".2515" stop-color="#949494"/>
<stop offset=".2516" stop-color="#999999"/>
<stop offset=".2562" stop-color="#999999"/>
<stop offset=".2562" stop-color="#9c9c9c"/>
<stop offset=".2625" stop-color="#9c9c9c"/>
<stop offset=".2625" stop-color="#999999"/>
<stop offset=".2672" stop-color="#999999"/>
<stop offset=".2672" stop-color="#9c9c9c"/>
<stop offset=".3093" stop-color="#9c9c9c"/>
<stop offset=".3094" stop-color="#9e9e9e"/>
<stop offset=".3547" stop-color="#9e9e9e"/>
<stop offset=".3547" stop-color="#bababa"/>
<stop offset=".412" stop-color="#bababa"/>
<stop offset=".412" stop-color="#bfbfbf"/>
<stop offset=".4537" stop-color="#bfbfbf"/>
<stop offset=".4537" stop-color="#bebebe"/>
<stop offset=".5281" stop-color="#bebebe"/>
<stop offset=".5281" stop-color="#b8b8b8"/>
<stop offset=".5453" stop-color="#b8b8b8"/>
<stop offset=".5453" stop-color="#adadad"/>
<stop offset=".55" stop-color="#adadad"/>
<stop offset=".575" stop-color="#bababa"/>
<stop offset=".5859" stop-color="#bababa"/>
<stop offset=".5859" stop-color="#b2b2b2"/>
<stop offset=".5906" stop-color="#b2b2b2"/>
<stop offset=".5906" stop-color="#dedede"/>
<stop offset=".6047" stop-color="#dedede"/>
<stop offset=".6047" stop-color="#f0f0f0"/>
<stop offset=".6187" stop-color="#f0f0f0"/>
<stop offset=".6188" stop-color="#bdbdbd"/>
<stop offset=".6568" stop-color="#bdbdbd"/>
<stop offset=".6569" stop-color="#adadad"/>
<stop offset=".675" stop-color="#adadad"/>
<stop offset=".675" stop-color="#a8a8a8"/>
<stop offset=".6929" stop-color="#a8a8a8"/>
<stop offset=".693" stop-color="#bababa"/>
<stop offset=".7" stop-color="#bababa"/>
<stop offset=".7" stop-color="#bdbdbd"/>
<stop offset=".7125" stop-color="#bdbdbd"/>
<stop offset=".7125" stop-color="#999999"/>
<stop offset=".7484" stop-color="#999999"/>
<stop offset=".7484" stop-color="#9c9c9c"/>
<stop offset=".7531" stop-color="#9c9c9c"/>
<stop offset=".7531" stop-color="#bdbdbd"/>
<stop offset=".7718" stop-color="#bdbdbd"/>
<stop offset=".7719" stop-color="#999999"/>
<stop offset=".7867" stop-color="#999999"/>
<stop offset=".7867" stop-color="#9c9c9c"/>
<stop offset=".8125" stop-color="#9c9c9c"/>
<stop offset=".8125" stop-color="#9e9e9e"/>
<stop offset=".8312" stop-color="#9e9e9e"/>
<stop offset=".8313" stop-color="#999999"/>
<stop offset=".8703" stop-color="#999999"/>
<stop offset=".8703" stop-color="#b5b5b5"/>
<stop offset=".8906" stop-color="#b5b5b5"/>
<stop offset=".8906" stop-color="#9e9e9e"/>
<stop offset=".9375" stop-color="#9e9e9e"/>
<stop offset=".9375" stop-color="#adadad"/>
<stop offset=".9679" stop-color="#adadad"/>
<stop offset=".968" stop-color="#b5b5b5"/>
<stop offset=".9969" stop-color="#b5b5b5"/>
</linearGradient>
<linearGradient id="p0c3" gradientUnits="userSpaceOnUse" x1="0" y1="80" x2="0" y2="720">
<stop offset="0" stop-color="#c2c2c2"/>
<stop offset=".0525" stop-color="#c2c2c2"/>
<stop offset=".0525" stop-color="#b8b8b8"/>
<stop offset=".0645" stop-color="#b8b8b8"/>
<stop offset=".0645" stop-color="#adadad"/>
<stop offset=".0992" stop-color="#adadad"/>
<stop offset=".0992" stop-color="#bababa"/>
<stop offset=".1322" stop-color="#bababa"/>
<stop offset=".1322" stop-color="#bdbdbd"/>
<stop offset=".1718" stop-color="#bdbdbd"/>
<stop offset=".1719" stop-color="#c4c4c4"/>
<stop offset=".1895" stop-color="#c4c4c4"/>
<stop offset=".1895" stop-color="#c7c7c7"/>
<stop offset=".2187" stop-color="#c7c7c7"/>
<stop offset=".2188" stop-color="#bfbfbf"/>
<stop offset=".2203" stop-color="#bfbfbf"/>
<stop offset=".2203" stop-color="#c7c7c7"/>
<stop offset=".2297" stop-color="#c7c7c7"/>
<stop offset=".2297" stop-color="#c2c2c2"/>
<stop offset=".2312" stop-color="#c2c2c2"/>
<stop offset=".2313" stop-color="#8f8f8f"/>
<stop offset=".2328" stop-color="#8f8f8f"/>
<stop offset=".2328" stop-color="#949494"/>
<stop offset=".2343" stop-color="#949494"/>
<stop offset=".2344" stop-color="#858585"/>
<stop offset=".2437" stop-color="#858585"/>
<stop offset=".2437" stop-color="#9e9e9e"/>
<stop offset=".2515" stop-color="#9e9e9e"/>
<stop offset=".2516" stop-color="#a3a3a3"/>
<stop offset=".2562" stop-color="#a3a3a3"/>
<stop offset=".2562" stop-color="#a6a6a6"/>
<stop offset=".2625" stop-color="#a6a6a6"/>
<stop offset=".2625" stop-color="#a3a3a3"/>
<stop offset=".2672" stop-color="#a3a3a3"/>
<stop offset=".2672" stop-color="#b0b0b0"/>
<stop offset=".3093" stop-color="#b0b0b0"/>
<stop offset=".3094" stop-color="#adadad"/>
<stop offset=".3547" stop-color="#adadad"/>
<stop offset=".3547" stop-color="#b2b2b2"/>
<stop offset=".412" stop-color="#b2b2b2"/>
<stop offset=".412" stop-color="#bababa"/>
<stop offset=".4537" stop-color="#bababa"/>
<stop offset=".4537" stop-color="#b7b7b7"/>
<stop offset=".5281" stop-color="#b7b7b7"/>
<stop offset=".5281" stop-color="#b8b8b8"/>
<stop offset=".5453" stop-color="#b8b8b8"/>
<stop offset=".5453" stop-color="#bababa"/>
<stop offset=".5859" stop-color="#bababa"/>
<stop offset=".5859" stop-color="#b2b2b2"/>
<stop offset=".5906" stop-color="#b2b2b2"/>
<stop offset=".5906" stop-color="#dedede"/>
<stop offset=".6047" stop-color="#dedede"/>
<stop offset=".6047" stop-color="#f0f0f0"/>
<stop offset=".6187" stop-color="#f0f0f0"/>
<stop offset=".6188" stop-color="#adadad"/>
<stop offset=".6312" stop-color="#adadad"/>
<stop offset=".6312" stop-color="#999999"/>
<stop offset=".6568" stop-color="#999999"/>
<stop offset=".6569" stop-color="#9e9e9e"/>
<stop offset=".6929" stop-color="#9e9e9e"/>
<stop offset=".693" stop-color="#a1a1a1"/>
<stop offset=".7" stop-color="#a1a1a1"/>
<stop offset=".7" stop-color="#bdbdbd"/>
<stop offset=".7125" stop-color="#bdbdbd"/>
<stop offset=".7125" stop-color="#9c9c9c"/>
<stop offset=".7281" stop-color="#9c9c9c"/>
<stop offset=".7281" stop-color="#bdbdbd"/>
<stop offset=".7484" stop-color="#bdbdbd"/>
<stop offset=".7484" stop-color="#9c9c9c"/>
<stop offset=".7531" stop-color="#9c9c9c"/>
<stop offset=".7531" stop-color="#bdbdbd"/>
<stop offset=".7718" stop-color="#bdbdbd"/>
<stop offset=".7719" stop-color="#9c9c9c"/>
<stop offset=".7867" stop-color="#9c9c9c"/>
<stop offset=".7867" stop-color="#a3a3a3"/>
<stop offset=".8125" stop-color="#a3a3a3"/>
<stop offset=".8125" stop-color="#b5b5b5"/>
<stop offset=".8312" stop-color="#b5b5b5"/>
<stop offset=".8313" stop-color="#a8a8a8"/>
<stop offset=".8703" stop-color="#a8a8a8"/>
<stop offset=".8703" stop-color="#b2b2b2"/>
<stop offset=".8906" stop-color="#b2b2b2"/>
<stop offset=".8906" stop-color="#b0b0b0"/>
<stop offset=".9375" stop-color="#b0b0b0"/>
<stop offset=".9375" stop-color="#bababa"/>
<stop offset=".9679" stop-color="#bababa"/>
<stop offset=".968" stop-color="#9e9e9e"/>
<stop offset=".9969" stop-color="#9e9e9e"/>
</linearGradient>
<linearGradient id="p0c4" gradientUnits="userSpaceOnUse" x1="0" y1="80" x2="0" y2="720">
<stop offset="0" stop-color="#a4a4a4"/>
<stop offset=".0525" stop-color="#a4a4a4"/>
<stop offset=".0525" stop-color="#999999"/>
<stop offset=".0645" stop-color="#999999"/>
<stop offset=".0645" stop-color="#9e9e9e"/>
<stop offset=".0992" stop-color="#9e9e9e"/>
<stop offset=".0992" stop-color="#b0b0b0"/>
<stop offset=".1322" stop-color="#b0b0b0"/>
<stop offset=".1322" stop-color="#b2b2b2"/>
<stop offset=".1718" stop-color="#b2b2b2"/>
<stop offset=".1719" stop-color="#bababa"/>
<stop offset=".1895" stop-color="#bababa"/>
<stop offset=".1895" stop-color="#bdbdbd"/>
<stop offset=".2187" stop-color="#bdbdbd"/>
<stop offset=".2188" stop-color="#b5b5b5"/>
<stop offset=".2203" stop-color="#b5b5b5"/>
<stop offset=".2203" stop-color="#bdbdbd"/>
<stop offset=".2297" stop-color="#bdbdbd"/>
<stop offset=".2297" stop-color="#b8b8b8"/>
<stop offset=".2312" stop-color="#b8b8b8"/>
<stop offset=".2313" stop-color="#8a8a8a"/>
<stop offset=".2328" stop-color="#8a8a8a"/>
<stop offset=".2328" stop-color="#8f8f8f"/>
<stop offset=".2343" stop-color="#8f8f8f"/>
<stop offset=".2344" stop-color="#808080"/>
<stop offset=".2437" stop-color="#808080"/>
<stop offset=".2437" stop-color="#8f8f8f"/>
<stop offset=".2515" stop-color="#8f8f8f"/>
<stop offset=".2516" stop-color="#949494"/>
<stop offset=".2562" stop-color="#949494"/>
<stop offset=".2562" stop-color="#969696"/>
<stop offset=".2625" stop-color="#969696"/>
<stop offset=".2625" stop-color="#949494"/>
<stop offset=".2672" stop-color="#949494"/>
<stop offset=".2672" stop-color="#999999"/>
<stop offset=".3093" stop-color="#999999"/>
<stop offset=".3094" stop-color="#a6a6a6"/>
<stop offset=".412" stop-color="#a6a6a6"/>
<stop offset=".412" stop-color="#b0b0b0"/>
<stop offset=".5281" stop-color="#b0b0b0"/>
<stop offset=".5281" stop-color="#b2b2b2"/>
<stop offset=".5453" stop-color="#b2b2b2"/>
<stop offset=".5453" stop-color="#bababa"/>
<stop offset=".5859" stop-color="#bababa"/>
<stop offset=".5859" stop-color="#b2b2b2"/>
<stop offset=".5906" stop-color="#b2b2b2"/>
<stop offset=".5906" stop-color="#dbdbdb"/>
<stop offset=".6047" stop-color="#dbdbdb"/>
<stop offset=".6047" stop-color="#d6d6d6"/>
<stop offset=".6187" stop-color="#d6d6d6"/>
<stop offset=".6188" stop-color="#b2b2b2"/>
<stop offset=".6312" stop-color="#b2b2b2"/>
<stop offset=".6312" stop-color="#a6a6a6"/>
<stop offset=".6568" stop-color="#a6a6a6"/>
<stop offset=".6569" stop-color="#a3a3a3"/>
<stop offset=".6929" stop-color="#a3a3a3"/>
<stop offset=".693" stop-color="#9e9e9e"/>
<stop offset=".7" stop-color="#9e9e9e"/>
<stop offset=".7" stop-color="#b5b5b5"/>
<stop offset=".7125" stop-color="#b5b5b5"/>
<stop offset=".7125" stop-color="#999999"/>
<stop offset=".7281" stop-color="#999999"/>
<stop offset=".7281" stop-color="#bdbdbd"/>
<stop offset=".7484" stop-color="#bdbdbd"/>
<stop offset=".7484" stop-color="#9c9c9c"/>
<stop offset=".7531" stop-color="#9c9c9c"/>
<stop offset=".7531" stop-color="#b8b8b8"/>
<stop offset=".7718" stop-color="#b8b8b8"/>
<stop offset=".7719" stop-color="#999999"/>
<stop offset=".7867" stop-color="#999999"/>
<stop offset=".7867" stop-color="#9e9e9e"/>
<stop offset=".8125" stop-color="#9e9e9e"/>
<stop offset=".8125" stop-color="#a1a1a1"/>
<stop offset=".8703" stop-color="#a1a1a1"/>
<stop offset=".8703" stop-color="#b0b0b0"/>
<stop offset=".9679" stop-color="#b0b0b0"/>
<stop offset=".968" stop-color="#a3a3a3"/>
<stop offset=".9969" stop-color="#a3a3a3"/>
</linearGradient>
<linearGradient id="p0c5" gradientUnits="userSpaceOnUse" x1="0" y1="80" x2="0" y2="720">
<stop offset="0" stop-color="#a4a4a4"/>
<stop offset=".0525" stop-color="#a4a4a4"/>
<stop offset=".0525" stop-color="#a3a3a3"/>
<stop offset=".0645" stop-color="#a3a3a3"/>
<stop offset=".0645" stop-color="#a8a8a8"/>
<stop offset=".0992" stop-color="#a8a8a8"/>
<stop offset=".0992" stop-color="#adadad"/>
<stop offset=".1322" stop-color="#adadad"/>
<stop offset=".1322" stop-color="#b0b0b0"/>
<stop offset=".1718" stop-color="#b0b0b0"/>
<stop offset=".1719" stop-color="#bdbdbd"/>
<stop offset=".2187" stop-color="#bdbdbd"/>
<stop offset=".2188" stop-color="#b5b5b5"/>
<stop offset=".2203" stop-color="#b5b5b5"/>
<stop offset=".2203" stop-color="#bdbdbd"/>
<stop offset=".2297" stop-color="#bdbdbd"/>
<stop offset=".2297" stop-color="#b8b8b8"/>
<stop offset=".2312" stop-color="#b8b8b8"/>
<stop offset=".2313" stop-color="#8a8a8a"/>
<stop offset=".2328" stop-color="#8a8a8a"/>
<stop offset=".2328" stop-color="#8f8f8f"/>
<stop offset=".2343" stop-color="#8f8f8f"/>
<stop offset=".2344" stop-color="#808080"/>
<stop offset=".2437" stop-color="#808080"/>
<stop offset=".2437" stop-color="#8f8f8f"/>
<stop offset=".2515" stop-color="#8f8f8f"/>
<stop offset=".2516" stop-color="#949494"/>
<stop offset=".2562" stop-color="#949494"/>
<stop offset=".2562" stop-color="#969696"/>
<stop offset=".2625" stop-color="#969696"/>
<stop offset=".2625" stop-color="#949494"/>
<stop offset=".2672" stop-color="#949494"/>
<stop offset=".2672" stop-color="#919191"/>
<stop offset=".3093" stop-color="#919191"/>
<stop offset=".3094" stop-color="#b2b2b2"/>
<stop offset=".412" stop-color="#b2b2b2"/>
<stop offset=".412" stop-color="#b5b5b5"/>
<stop offset=".5453" stop-color="#b5b5b5"/>
<stop offset=".5453" stop-color="#bababa"/>
<stop offset=".5859" stop-color="#bababa"/>
<stop offset=".5859" stop-color="#b2b2b2"/>
<stop offset=".5906" stop-color="#b2b2b2"/>
<stop offset=".5906" stop-color="#dbdbdb"/>
<stop offset=".6047" stop-color="#dbdbdb"/>
<stop offset=".6047" stop-color="#d6d6d6"/>
<stop offset=".6187" stop-color="#d6d6d6"/>
<stop offset=".6188" stop-color="#b8b8b8"/>
<stop offset=".6312" stop-color="#b8b8b8"/>
<stop offset=".6312" stop-color="#b0b0b0"/>
<stop offset=".6568" stop-color="#b0b0b0"/>
<stop offset=".6569" stop-color="#adadad"/>
<stop offset=".675" stop-color="#adadad"/>
<stop offset=".675" stop-color="#b2b2b2"/>
<stop offset=".6929" stop-color="#b2b2b2"/>
<stop offset=".693" stop-color="#9e9e9e"/>
<stop offset=".7125" stop-color="#9e9e9e"/>
<stop offset=".7125" stop-color="#a1a1a1"/>
<stop offset=".7281" stop-color="#a1a1a1"/>
<stop offset=".7281" stop-color="#b5b5b5"/>
<stop offset=".7484" stop-color="#b5b5b5"/>
<stop offset=".7484" stop-color="#a1a1a1"/>
<stop offset=".7531" stop-color="#a1a1a1"/>
<stop offset=".7531" stop-color="#b2b2b2"/>
<stop offset=".7718" stop-color="#b2b2b2"/>
<stop offset=".7719" stop-color="#9e9e9e"/>
<stop offset=".7867" stop-color="#9e9e9e"/>
<stop offset=".7867" stop-color="#999999"/>
<stop offset=".8125" stop-color="#999999"/>
<stop offset=".8125" stop-color="#919191"/>
<stop offset=".8312" stop-color="#919191"/>
<stop offset=".8313" stop-color="#8c8c8c"/>
<stop offset=".8703" stop-color="#8c8c8c"/>
<stop offset=".8703" stop-color="#ababab"/>
<stop offset=".9679" stop-color="#ababab"/>
<stop offset=".968" stop-color="#b0b0b0"/>
<stop offset=".9969" stop-color="#b0b0b0"/>
</linearGradient>
<linearGradient id="p0c6" gradientUnits="userSpaceOnUse" x1="0" y1="80" x2="0" y2="720">
<stop offset="0" stop-color="#3b3b3b"/>
<stop offset=".0525" stop-color="#3b3b3b"/>
<stop offset=".0525" stop-color="#4c4c4c"/>
<stop offset=".0645" stop-color="#4c4c4c"/>
<stop offset=".0645" stop-color="#363636"/>
<stop offset=".0992" stop-color="#363636"/>
<stop offset=".0992" stop-color="#333333"/>
<stop offset=".1322" stop-color="#333333"/>
<stop offset=".1322" stop-color="#303030"/>
<stop offset=".1718" stop-color="#303030"/>
<stop offset=".1719" stop-color="#3b3b3b"/>
<stop offset=".214" stop-color="#3b3b3b"/>
<stop offset=".2141" stop-color="#4c4c4c"/>
<stop offset=".2172" stop-color="#4c4c4c"/>
<stop offset=".2172" stop-color="#3b3b3b"/>
<stop offset=".2187" stop-color="#3b3b3b"/>
<stop offset=".2188" stop-color="#5c5c5c"/>
<stop offset=".2203" stop-color="#5c5c5c"/>
<stop offset=".2203" stop-color="#4c4c4c"/>
<stop offset=".2297" stop-color="#4c4c4c"/>
<stop offset=".2297" stop-color="#575757"/>
<stop offset=".2312" stop-color="#575757"/>
<stop offset=".2313" stop-color="#707070"/>
<stop offset=".2328" stop-color="#707070"/>
<stop offset=".2328" stop-color="#7d7d7d"/>
<stop offset=".2343" stop-color="#7d7d7d"/>
<stop offset=".2344" stop-color="#707070"/>
<stop offset=".2437" stop-color="#707070"/>
<stop offset=".2437" stop-color="#616161"/>
<stop offset=".2515" stop-color="#616161"/>
<stop offset=".2516" stop-color="#666666"/>
<stop offset=".2562" stop-color="#666666"/>
<stop offset=".2562" stop-color="#3b3b3b"/>
<stop offset=".2625" stop-color="#3b3b3b"/>
<stop offset=".2625" stop-color="#616161"/>
<stop offset=".2672" stop-color="#616161"/>
<stop offset=".2672" stop-color="#363636"/>
<stop offset=".3093" stop-color="#363636"/>
<stop offset=".3094" stop-color="#4f4f4f"/>
<stop offset=".3547" stop-color="#4f4f4f"/>
<stop offset=".3547" stop-color="#303030"/>
<stop offset=".412" stop-color="#303030"/>
<stop offset=".412" stop-color="#2b2b2b"/>
<stop offset=".5281" stop-color="#2b2b2b"/>
<stop offset=".5281" stop-color="#2e2e2e"/>
<stop offset=".5297" stop-color="#2e2e2e"/>
<stop offset=".5297" stop-color="#4c4c4c"/>
<stop offset=".5312" stop-color="#4c4c4c"/>
<stop offset=".5312" stop-color="#2e2e2e"/>
<stop offset=".5453" stop-color="#2e2e2e"/>
<stop offset=".5453" stop-color="#3b3b3b"/>
<stop offset=".55" stop-color="#3b3b3b"/>
<stop offset=".55" stop-color="#303030"/>
<stop offset=".5859" stop-color="#303030"/>
<stop offset=".5859" stop-color="#4c4c4c"/>
<stop offset=".5906" stop-color="#4c4c4c"/>
<stop offset=".5906" stop-color="#3b3b3b"/>
<stop offset=".6047" stop-color="#3b3b3b"/>
<stop offset=".6047" stop-color="#4c4c4c"/>
<stop offset=".6187" stop-color="#4c4c4c"/>
<stop offset=".6188" stop-color="#363636"/>
<stop offset=".6312" stop-color="#363636"/>
<stop offset=".6312" stop-color="#3b3b3b"/>
<stop offset=".6568" stop-color="#3b3b3b"/>
<stop offset=".6569" stop-color="#363636"/>
<stop offset=".675" stop-color="#363636"/>
<stop offset=".675" stop-color="#303030"/>
<stop offset=".6929" stop-color="#303030"/>
<stop offset=".693" stop-color="#2b2b2b"/>
<stop offset=".7867" stop-color="#2b2b2b"/>
<stop offset=".7867" stop-color="#303030"/>
<stop offset=".8703" stop-color="#303030"/>
<stop offset=".8703" stop-color="#2b2b2b"/>
<stop offset=".9687" stop-color="#2b2b2b"/>
<stop offset=".9688" stop-color="#4c4c4c"/>
<stop offset=".9703" stop-color="#4c4c4c"/>
<stop offset=".9703" stop-color="#575757"/>
<stop offset=".9765" stop-color="#575757"/>
<stop offset=".9766" stop-color="#2b2b2b"/>
<stop offset=".9781" stop-color="#2b2b2b"/>
<stop offset=".9781" stop-color="#212121"/>
<stop offset=".9797" stop-color="#212121"/>
<stop offset=".9797" stop-color="#363636"/>
<stop offset=".9812" stop-color="#363636"/>
<stop offset=".9812" stop-color="#575757"/>
<stop offset=".9859" stop-color="#575757"/>
<stop offset=".9859" stop-color="#616161"/>
<stop offset=".989" stop-color="#616161"/>
<stop offset=".9891" stop-color="#212121"/>
<stop offset=".9906" stop-color="#212121"/>
<stop offset=".9906" stop-color="#808080"/>
<stop offset=".9922" stop-color="#808080"/>
<stop offset=".9922" stop-color="#262626"/>
<stop offset=".9953" stop-color="#262626"/>
<stop offset=".9953" stop-color="#8a8a8a"/>
<stop offset=".9968" stop-color="#8a8a8a"/>
<stop offset=".9969" stop-color="#262626"/>
</linearGradient>
<linearGradient id="p0c7" gradientUnits="userSpaceOnUse" x1="0" y1="80" x2="0" y2="720">
<stop offset="0" stop-color="#555555"/>
<stop offset=".0525" stop-color="#555555"/>
<stop offset=".0525" stop-color="#535353"/>
<stop offset=".0645" stop-color="#535353"/>
<stop offset=".0645" stop-color="#525252"/>
<stop offset=".0992" stop-color="#525252"/>
<stop offset=".0992" stop-color="#555555"/>
<stop offset=".1322" stop-color="#555555"/>
<stop offset=".1322" stop-color="#565656"/>
<stop offset=".1718" stop-color="#565656"/>
<stop offset=".1719" stop-color="#585858"/>
<stop offset=".1895" stop-color="#585858"/>
<stop offset=".1895" stop-color="#595959"/>
<stop offset=".2187" stop-color="#595959"/>
<stop offset=".2188" stop-color="#616161"/>
<stop offset=".2203" stop-color="#616161"/>
<stop offset=".2203" stop-color="#595959"/>
<stop offset=".2297" stop-color="#595959"/>
<stop offset=".2297" stop-color="#575757"/>
<stop offset=".2312" stop-color="#575757"/>
<stop offset=".2313" stop-color="#7a7a7a"/>
<stop offset=".2328" stop-color="#7a7a7a"/>
<stop offset=".2328" stop-color="#858585"/>
<stop offset=".2343" stop-color="#858585"/>
<stop offset=".2344" stop-color="#757575"/>
<stop offset=".2437" stop-color="#757575"/>
<stop offset=".2437" stop-color="#666666"/>
<stop offset=".2562" stop-color="#666666"/>
<stop offset=".2562" stop-color="#505050"/>
<stop offset=".2625" stop-color="#505050"/>
<stop offset=".2625" stop-color="#666666"/>
<stop offset=".2672" stop-color="#666666"/>
<stop offset=".2672" stop-color="#505050"/>
<stop offset=".3093" stop-color="#505050"/>
<stop offset=".3094" stop-color="#535353"/>
<stop offset=".3547" stop-color="#535353"/>
<stop offset=".3547" stop-color="#555555"/>
<stop offset=".412" stop-color="#555555"/>
<stop offset=".412" stop-color="#575757"/>
<stop offset=".4537" stop-color="#575757"/>
<stop offset=".4537" stop-color="#565656"/>
<stop offset=".5281" stop-color="#565656"/>
<stop offset=".5281" stop-color="#565656"/>
<stop offset=".5453" stop-color="#565656"/>
<stop offset=".5453" stop-color="#575757"/>
<stop offset=".55" stop-color="#575757"/>
<stop offset=".575" stop-color="#575757"/>
<stop offset=".5859" stop-color="#575757"/>
<stop offset=".5859" stop-color="#575757"/>
<stop offset=".6047" stop-color="#575757"/>
<stop offset=".6047" stop-color="#5c5c5c"/>
<stop offset=".6187" stop-color="#5c5c5c"/>
<stop offset=".6188" stop-color="#565656"/>
<stop offset=".6312" stop-color="#565656"/>
<stop offset=".6312" stop-color="#545454"/>
<stop offset=".6568" stop-color="#545454"/>
<stop offset=".6569" stop-color="#535353"/>
<stop offset=".6929" stop-color="#535353"/>
<stop offset=".693" stop-color="#525252"/>
<stop offset=".7" stop-color="#525252"/>
<stop offset=".7" stop-color="#565656"/>
<stop offset=".7125" stop-color="#565656"/>
<stop offset=".7125" stop-color="#505050"/>
<stop offset=".7281" stop-color="#505050"/>
<stop offset=".7281" stop-color="#555555"/>
<stop offset=".7484" stop-color="#555555"/>
<stop offset=".7484" stop-color="#505050"/>
<stop offset=".7531" stop-color="#505050"/>
<stop offset=".7531" stop-color="#575757"/>
<stop offset=".7718" stop-color="#575757"/>
<stop offset=".7719" stop-color="#505050"/>
<stop offset=".7867" stop-color="#505050"/>
<stop offset=".7867" stop-color="#505050"/>
<stop offset=".8125" stop-color="#505050"/>
<stop offset=".8125" stop-color="#515151"/>
<stop offset=".8312" stop-color="#515151"/>
<stop offset=".8313" stop-color="#505050"/>
<stop offset=".8703" stop-color="#505050"/>
<stop offset=".8703" stop-color="#555555"/>
<stop offset=".8906" stop-color="#555555"/>
<stop offset=".8906" stop-color="#535353"/>
<stop offset=".9375" stop-color="#535353"/>
<stop offset=".9375" stop-color="#555555"/>
<stop offset=".9679" stop-color="#555555"/>
<stop offset=".968" stop-color="#535353"/>
<stop offset=".9969" stop-color="#535353"/>
</linearGradient>
<linearGradient id="p0c8" gradientUnits="userSpaceOnUse" x1="0" y1="80" x2="0" y2="720">
<stop offset="0" stop-color="#383838"/>
<stop offset=".0525" stop-color="#383838"/>
<stop offset=".0525" stop-color="#373737"/>
<stop offset=".0645" stop-color="#373737"/>
<stop offset=".0645" stop-color="#363636"/>
<stop offset=".0992" stop-color="#363636"/>
<stop offset=".0992" stop-color="#383838"/>
<stop offset=".2562" stop-color="#383838"/>
<stop offset=".2562" stop-color="#343434"/>
<stop offset=".2625" stop-color="#343434"/>
<stop offset=".2625" stop-color="#383838"/>
<stop offset=".2672" stop-color="#383838"/>
<stop offset=".2672" stop-color="#343434"/>
<stop offset=".3093" stop-color="#343434"/>
<stop offset=".3094" stop-color="#373737"/>
<stop offset=".3547" stop-color="#373737"/>
<stop offset=".3547" stop-color="#383838"/>
<stop offset=".6312" stop-color="#383838"/>
<stop offset=".6312" stop-color="#373737"/>
<stop offset=".6568" stop-color="#373737"/>
<stop offset=".6569" stop-color="#373737"/>
<stop offset=".6929" stop-color="#373737"/>
<stop offset=".693" stop-color="#363636"/>
<stop offset=".7" stop-color="#363636"/>
<stop offset=".7" stop-color="#383838"/>
<stop offset=".7125" stop-color="#383838"/>
<stop offset=".7125" stop-color="#343434"/>
<stop offset=".7281" stop-color="#343434"/>
<stop offset=".7281" stop-color="#383838"/>
<stop offset=".7484" stop-color="#383838"/>
<stop offset=".7484" stop-color="#343434"/>
<stop offset=".7531" stop-color="#343434"/>
<stop offset=".7531" stop-color="#383838"/>
<stop offset=".7718" stop-color="#383838"/>
<stop offset=".7719" stop-color="#333333"/>
<stop offset=".7867" stop-color="#333333"/>
<stop offset=".7867" stop-color="#343434"/>
<stop offset=".8125" stop-color="#343434"/>
<stop offset=".8125" stop-color="#353535"/>
<stop offset=".8312" stop-color="#353535"/>
<stop offset=".8313" stop-color="#343434"/>
<stop offset=".8703" stop-color="#343434"/>
<stop offset=".8703" stop-color="#383838"/>
<stop offset=".8906" stop-color="#383838"/>
<stop offset=".8906" stop-color="#373737"/>
<stop offset=".9375" stop-color="#373737"/>
<stop offset=".9375" stop-color="#383838"/>
<stop offset=".9679" stop-color="#383838"/>
<stop offset=".968" stop-color="#373737"/>
<stop offset=".9969" stop-color="#373737"/>
</linearGradient>
<linearGradient id="p1c0" gradientUnits="userSpaceOnUse" x1="0" y1="80" x2="0" y2="720">
<stop offset="0" stop-color="#313131"/>
<stop offset=".0312" stop-color="#313131"/>
<stop offset=".0312" stop-color="#393939"/>
<stop offset=".0525" stop-color="#393939"/>
<stop offset=".0525" stop-color="#474747"/>
<stop offset=".0645" stop-color="#474747"/>
<stop offset=".0645" stop-color="#2f2f2f"/>
<stop offset=".0992" stop-color="#2f2f2f"/>
<stop offset=".0992" stop-color="#313131"/>
<stop offset=".1322" stop-color="#313131"/>
<stop offset=".1322" stop-color="#2f2f2f"/>
<stop offset=".1547" stop-color="#2f2f2f"/>
<stop offset=".1625" stop-color="#313131"/>
<stop offset=".214" stop-color="#313131"/>
<stop offset=".2141" stop-color="#393939"/>
<stop offset=".2172" stop-color="#393939"/>
<stop offset=".2172" stop-color="#313131"/>
<stop offset=".2187" stop-color="#313131"/>
<stop offset=".2188" stop-color="#6b6b6b"/>
<stop offset=".2203" stop-color="#6b6b6b"/>
<stop offset=".2203" stop-color="#373737"/>
<stop offset=".2297" stop-color="#373737"/>
<stop offset=".2297" stop-color="#525252"/>
<stop offset=".2312" stop-color="#525252"/>
<stop offset=".2313" stop-color="#757575"/>
<stop offset=".2328" stop-color="#757575"/>
<stop offset=".2328" stop-color="#8a8a8a"/>
<stop offset=".2343" stop-color="#8a8a8a"/>
<stop offset=".2344" stop-color="#7a7a7a"/>
<stop offset=".2437" stop-color="#7a7a7a"/>
<stop offset=".2437" stop-color="#666666"/>
<stop offset=".2515" stop-color="#666666"/>
<stop offset=".2516" stop-color="#6b6b6b"/>
<stop offset=".2562" stop-color="#6b6b6b"/>
<stop offset=".2562" stop-color="#3c3c3c"/>
<stop offset=".2625" stop-color="#3c3c3c"/>
<stop offset=".2625" stop-color="#666666"/>
<stop offset=".2672" stop-color="#666666"/>
<stop offset=".2672" stop-color="#313131"/>
<stop offset=".2703" stop-color="#313131"/>
<stop offset=".2703" stop-color="#2c2c2c"/>
<stop offset=".3093" stop-color="#2c2c2c"/>
<stop offset=".3094" stop-color="#272727"/>
<stop offset=".3547" stop-color="#272727"/>
<stop offset=".3547" stop-color="#2a2a2a"/>
<stop offset=".412" stop-color="#2a2a2a"/>
<stop offset=".412" stop-color="#2c2c2c"/>
<stop offset=".5297" stop-color="#2c2c2c"/>
<stop offset=".5297" stop-color="#525252"/>
<stop offset=".5312" stop-color="#525252"/>
<stop offset=".5312" stop-color="#2c2c2c"/>
<stop offset=".5453" stop-color="#2c2c2c"/>
<stop offset=".5453" stop-color="#4a4a4a"/>
<stop offset=".55" stop-color="#4a4a4a"/>
<stop offset=".55" stop-color="#313131"/>
<stop offset=".5859" stop-color="#313131"/>
<stop offset=".5859" stop-color="#525252"/>
<stop offset=".5906" stop-color="#525252"/>
<stop offset=".5906" stop-color="#313131"/>
<stop offset=".6187" stop-color="#313131"/>
<stop offset=".6188" stop-color="#3c3c3c"/>
<stop offset=".6312" stop-color="#3c3c3c"/>
<stop offset=".6312" stop-color="#4c4c4c"/>
<stop offset=".6568" stop-color="#4c4c4c"/>
<stop offset=".6569" stop-color="#474747"/>
<stop offset=".675" stop-color="#474747"/>
<stop offset=".675" stop-color="#393939"/>
<stop offset=".6929" stop-color="#393939"/>
<stop offset=".693" stop-color="#2f2f2f"/>
<stop offset=".7867" stop-color="#2f2f2f"/>
<stop offset=".7867" stop-color="#393939"/>
<stop offset=".8125" stop-color="#393939"/>
<stop offset=".8125" stop-color="#2f2f2f"/>
<stop offset=".9687" stop-color="#2f2f2f"/>
<stop offset=".9688" stop-color="#575757"/>
<stop offset=".9703" stop-color="#575757"/>
<stop offset=".9703" stop-color="#808080"/>
<stop offset=".9765" stop-color="#808080"/>
<stop offset=".9766" stop-color="#616161"/>
<stop offset=".9781" stop-color="#616161"/>
<stop offset=".9781" stop-color="#292929"/>
<stop offset=".9797" stop-color="#292929"/>
<stop offset=".9797" stop-color="#4c4c4c"/>
<stop offset=".9812" stop-color="#4c4c4c"/>
<stop offset=".9812" stop-color="#808080"/>
<stop offset=".9859" stop-color="#808080"/>
<stop offset=".9859" stop-color="#8a8a8a"/>
<stop offset=".989" stop-color="#8a8a8a"/>
<stop offset=".9891" stop-color="#292929"/>
<stop offset=".9906" stop-color="#292929"/>
<stop offset=".9906" stop-color="#a8a8a8"/>
<stop offset=".9922" stop-color="#a8a8a8"/>
<stop offset=".9922" stop-color="#2e2e2e"/>
<stop offset=".9953" stop-color="#2e2e2e"/>
<stop offset=".9953" stop-color="#b2b2b2"/>
<stop offset=".9968" stop-color="#b2b2b2"/>
<stop offset=".9969" stop-color="#2e2e2e"/>
</linearGradient>
<linearGradient id="p1c1" gradientUnits="userSpaceOnUse" x1="0" y1="80" x2="0" y2="720">
<stop offset="0" stop-color="#383838"/>
<stop offset=".0312" stop-color="#383838"/>
<stop offset=".0312" stop-color="#3f3f3f"/>
<stop offset=".0525" stop-color="#3f3f3f"/>
<stop offset=".0525" stop-color="#4e4e4e"/>
<stop offset=".0645" stop-color="#4e4e4e"/>
<stop offset=".0645" stop-color="#353535"/>
<stop offset=".0992" stop-color="#353535"/>
<stop offset=".0992" stop-color="#383838"/>
<stop offset=".1322" stop-color="#383838"/>
<stop offset=".1322" stop-color="#383838"/>
<stop offset=".1547" stop-color="#5c5c5c"/>
<stop offset=".1625" stop-color="#707070"/>
<stop offset=".1875" stop-color="#707070"/>
<stop offset=".1875" stop-color="#696969"/>
<stop offset=".214" stop-color="#696969"/>
<stop offset=".2141" stop-color="#4c4c4c"/>
<stop offset=".2172" stop-color="#4c4c4c"/>
<stop offset=".2172" stop-color="#474747"/>
<stop offset=".2187" stop-color="#474747"/>
<stop offset=".2188" stop-color="#6b6b6b"/>
<stop offset=".2203" stop-color="#6b6b6b"/>
<stop offset=".2203" stop-color="#4c4c4c"/>
<stop offset=".2297" stop-color="#4c4c4c"/>
<stop offset=".2297" stop-color="#575757"/>
<stop offset=".2312" stop-color="#575757"/>
<stop offset=".2313" stop-color="#757575"/>
<stop offset=".2328" stop-color="#757575"/>
<stop offset=".2328" stop-color="#878787"/>
<stop offset=".2343" stop-color="#878787"/>
<stop offset=".2344" stop-color="#7a7a7a"/>
<stop offset=".2437" stop-color="#7a7a7a"/>
<stop offset=".2437" stop-color="#666666"/>
<stop offset=".2515" stop-color="#666666"/>
<stop offset=".2516" stop-color="#6b6b6b"/>
<stop offset=".2562" stop-color="#6b6b6b"/>
<stop offset=".2562" stop-color="#424242"/>
<stop offset=".2625" stop-color="#424242"/>
<stop offset=".2625" stop-color="#666666"/>
<stop offset=".2672" stop-color="#666666"/>
<stop offset=".2672" stop-color="#3d3d3d"/>
<stop offset=".2703" stop-color="#3d3d3d"/>
<stop offset=".2703" stop-color="#343434"/>
<stop offset=".3093" stop-color="#343434"/>
<stop offset=".3094" stop-color="#2d2d2d"/>
<stop offset=".3547" stop-color="#2d2d2d"/>
<stop offset=".3547" stop-color="#303030"/>
<stop offset=".412" stop-color="#303030"/>
<stop offset=".412" stop-color="#3b3b3b"/>
<stop offset=".5281" stop-color="#3b3b3b"/>
<stop offset=".5281" stop-color="#3d3d3d"/>
<stop offset=".5297" stop-color="#3d3d3d"/>
<stop offset=".5297" stop-color="#525252"/>
<stop offset=".5312" stop-color="#525252"/>
<stop offset=".5312" stop-color="#3d3d3d"/>
<stop offset=".5453" stop-color="#3d3d3d"/>
<stop offset=".5453" stop-color="#4c4c4c"/>
<stop offset=".55" stop-color="#4c4c4c"/>
<stop offset=".55" stop-color="#424242"/>
<stop offset=".5859" stop-color="#424242"/>
<stop offset=".5859" stop-color="#575757"/>
<stop offset=".5906" stop-color="#575757"/>
<stop offset=".5906" stop-color="#737373"/>
<stop offset=".6047" stop-color="#737373"/>
<stop offset=".6047" stop-color="#878787"/>
<stop offset=".6187" stop-color="#878787"/>
<stop offset=".6188" stop-color="#4c4c4c"/>
<stop offset=".6312" stop-color="#4c4c4c"/>
<stop offset=".6312" stop-color="#525252"/>
<stop offset=".6568" stop-color="#525252"/>
<stop offset=".6569" stop-color="#4c4c4c"/>
<stop offset=".675" stop-color="#4c4c4c"/>
<stop offset=".675" stop-color="#424242"/>
<stop offset=".6929" stop-color="#424242"/>
<stop offset=".693" stop-color="#353535"/>
<stop offset=".7867" stop-color="#353535"/>
<stop offset=".7867" stop-color="#3f3f3f"/>
<stop offset=".8125" stop-color="#3f3f3f"/>
<stop offset=".8125" stop-color="#353535"/>
<stop offset=".9687" stop-color="#353535"/>
<stop offset=".9688" stop-color="#575757"/>
<stop offset=".9703" stop-color="#575757"/>
<stop offset=".9703" stop-color="#808080"/>
<stop offset=".9765" stop-color="#808080"/>
<stop offset=".9766" stop-color="#616161"/>
<stop offset=".9781" stop-color="#616161"/>
<stop offset=".9781" stop-color="#292929"/>
<stop offset=".9797" stop-color="#292929"/>
<stop offset=".9797" stop-color="#4c4c4c"/>
<stop offset=".9812" stop-color="#4c4c4c"/>
<stop offset=".9812" stop-color="#808080"/>
<stop offset=".9859" stop-color="#808080"/>
<stop offset=".9859" stop-color="#8a8a8a"/>
<stop offset=".989" stop-color="#8a8a8a"/>
<stop offset=".9891" stop-color="#292929"/>
<stop offset=".9906" stop-color="#292929"/>
<stop offset=".9906" stop-color="#a8a8a8"/>
<stop offset=".9922" stop-color="#a8a8a8"/>
<stop offset=".9922" stop-color="#2e2e2e"/>
<stop offset=".9953" stop-color="#2e2e2e"/>
<stop offset=".9953" stop-color="#b2b2b2"/>
<stop offset=".9968" stop-color="#b2b2b2"/>
<stop offset=".9969" stop-color="#2e2e2e"/>
</linearGradient>
<linearGradient id="p1c2" gradientUnits="userSpaceOnUse" x1="0" y1="80" x2="0" y2="720">
<stop offset="0" stop-color="#adadad"/>
<stop offset=".0525" stop-color="#adadad"/>
<stop offset=".0525" stop-color="#b2b2b2"/>
<stop offset=".0992" stop-color="#b2b2b2"/>
<stop offset=".0992" stop-color="#b8b8b8"/>
<stop offset=".1322" stop-color="#b8b8b8"/>
<stop offset=".1322" stop-color="#b2b2b2"/>
<stop offset=".1547" stop-color="#c2c2c2"/>
<stop offset=".1625" stop-color="#f0f0f0"/>
<stop offset=".1875" stop-color="#f0f0f0"/>
<stop offset=".1875" stop-color="#d1d1d1"/>
<stop offset=".214" stop-color="#d1d1d1"/>
<stop offset=".2141" stop-color="#cccccc"/>
<stop offset=".2187" stop-color="#cccccc"/>
<stop offset=".2188" stop-color="#c4c4c4"/>
<stop offset=".2203" stop-color="#c4c4c4"/>
<stop offset=".2203" stop-color="#cccccc"/>
<stop offset=".2297" stop-color="#cccccc"/>
<stop offset=".2297" stop-color="#c7c7c7"/>
<stop offset=".2312" stop-color="#c7c7c7"/>
<stop offset=".2313" stop-color="#8f8f8f"/>
<stop offset=".2328" stop-color="#8f8f8f"/>
<stop offset=".2328" stop-color="#949494"/>
<stop offset=".2343" stop-color="#949494"/>
<stop offset=".2344" stop-color="#858585"/>
<stop offset=".2437" stop-color="#858585"/>
<stop offset=".2437" stop-color="#999999"/>
<stop offset=".2515" stop-color="#999999"/>
<stop offset=".2516" stop-color="#9e9e9e"/>
<stop offset=".2562" stop-color="#9e9e9e"/>
<stop offset=".2562" stop-color="#a1a1a1"/>
<stop offset=".2625" stop-color="#a1a1a1"/>
<stop offset=".2625" stop-color="#9e9e9e"/>
<stop offset=".2672" stop-color="#9e9e9e"/>
<stop offset=".2672" stop-color="#b2b2b2"/>
<stop offset=".3093" stop-color="#b2b2b2"/>
<stop offset=".3094" stop-color="#a3a3a3"/>
<stop offset=".5281" stop-color="#a3a3a3"/>
<stop offset=".5281" stop-color="#b2b2b2"/>
<stop offset=".5453" stop-color="#b2b2b2"/>
<stop offset=".5453" stop-color="#bababa"/>
<stop offset=".5859" stop-color="#bababa"/>
<stop offset=".5859" stop-color="#b2b2b2"/>
<stop offset=".5906" stop-color="#b2b2b2"/>
<stop offset=".5906" stop-color="#dedede"/>
<stop offset=".6047" stop-color="#dedede"/>
<stop offset=".6047" stop-color="#e6e6e6"/>
<stop offset=".6187" stop-color="#e6e6e6"/>
<stop offset=".6188" stop-color="#b8b8b8"/>
<stop offset=".6312" stop-color="#b8b8b8"/>
<stop offset=".6312" stop-color="#b2b2b2"/>
<stop offset=".675" stop-color="#b2b2b2"/>
<stop offset=".675" stop-color="#b8b8b8"/>
<stop offset=".6929" stop-color="#b8b8b8"/>
<stop offset=".693" stop-color="#b5b5b5"/>
<stop offset=".7109" stop-color="#b5b5b5"/>
<stop offset=".7109" stop-color="#9c9c9c"/>
<stop offset=".7265" stop-color="#9c9c9c"/>
<stop offset=".7266" stop-color="#999999"/>
<stop offset=".7375" stop-color="#999999"/>
<stop offset=".7375" stop-color="#b0b0b0"/>
<stop offset=".75" stop-color="#b0b0b0"/>
<stop offset=".75" stop-color="#999999"/>
<stop offset=".7867" stop-color="#999999"/>
<stop offset=".7867" stop-color="#9e9e9e"/>
<stop offset=".8125" stop-color="#9e9e9e"/>
<stop offset=".8125" stop-color="#c4c4c4"/>
<stop offset=".8437" stop-color="#c4c4c4"/>
<stop offset=".8438" stop-color="#bababa"/>
<stop offset=".8703" stop-color="#bababa"/>
<stop offset=".8703" stop-color="#a3a3a3"/>
<stop offset=".9343" stop-color="#a3a3a3"/>
<stop offset=".9344" stop-color="#bdbdbd"/>
<stop offset=".9679" stop-color="#bdbdbd"/>
<stop offset=".968" stop-color="#a8a8a8"/>
<stop offset=".9969" stop-color="#a8a8a8"/>
</linearGradient>
<linearGradient id="p1c3" gradientUnits="userSpaceOnUse" x1="0" y1="80" x2="0" y2="720">
<stop offset="0" stop-color="#bababa"/>
<stop offset=".0525" stop-color="#bababa"/>
<stop offset=".0525" stop-color="#adadad"/>
<stop offset=".0992" stop-color="#adadad"/>
<stop offset=".0992" stop-color="#a8a8a8"/>
<stop offset=".1322" stop-color="#a8a8a8"/>
<stop offset=".1322" stop-color="#adadad"/>
<stop offset=".1547" stop-color="#c2c2c2"/>
<stop offset=".1625" stop-color="#ebebeb"/>
<stop offset=".1875" stop-color="#ebebeb"/>
<stop offset=".1875" stop-color="#d1d1d1"/>
<stop offset=".214" stop-color="#d1d1d1"/>
<stop offset=".2141" stop-color="#cccccc"/>
<stop offset=".2187" stop-color="#cccccc"/>
<stop offset=".2188" stop-color="#c4c4c4"/>
<stop offset=".2203" stop-color="#c4c4c4"/>
<stop offset=".2203" stop-color="#cccccc"/>
<stop offset=".2297" stop-color="#cccccc"/>
<stop offset=".2297" stop-color="#c7c7c7"/>
<stop offset=".2312" stop-color="#c7c7c7"/>
<stop offset=".2313" stop-color="#8f8f8f"/>
<stop offset=".2328" stop-color="#8f8f8f"/>
<stop offset=".2328" stop-color="#949494"/>
<stop offset=".2343" stop-color="#949494"/>
<stop offset=".2344" stop-color="#858585"/>
<stop offset=".2437" stop-color="#858585"/>
<stop offset=".2437" stop-color="#999999"/>
<stop offset=".2515" stop-color="#999999"/>
<stop offset=".2516" stop-color="#9e9e9e"/>
<stop offset=".2562" stop-color="#9e9e9e"/>
<stop offset=".2562" stop-color="#a1a1a1"/>
<stop offset=".2625" stop-color="#a1a1a1"/>
<stop offset=".2625" stop-color="#9e9e9e"/>
<stop offset=".2672" stop-color="#9e9e9e"/>
<stop offset=".2672" stop-color="#adadad"/>
<stop offset=".3093" stop-color="#adadad"/>
<stop offset=".3094" stop-color="#bdbdbd"/>
<stop offset=".412" stop-color="#bdbdbd"/>
<stop offset=".412" stop-color="#bfbfbf"/>
<stop offset=".5281" stop-color="#bfbfbf"/>
<stop offset=".5281" stop-color="#b8b8b8"/>
<stop offset=".5453" stop-color="#b8b8b8"/>
<stop offset=".5453" stop-color="#b5b5b5"/>
<stop offset=".5859" stop-color="#b5b5b5"/>
<stop offset=".5859" stop-color="#b2b2b2"/>
<stop offset=".5906" stop-color="#b2b2b2"/>
<stop offset=".5906" stop-color="#e6e6e6"/>
<stop offset=".6047" stop-color="#e6e6e6"/>
<stop offset=".6047" stop-color="#f0f0f0"/>
<stop offset=".6187" stop-color="#f0f0f0"/>
<stop offset=".6188" stop-color="#b8b8b8"/>
<stop offset=".6312" stop-color="#b8b8b8"/>
<stop offset=".6312" stop-color="#bdbdbd"/>
<stop offset=".6568" stop-color="#bdbdbd"/>
<stop offset=".6569" stop-color="#b8b8b8"/>
<stop offset=".675" stop-color="#b8b8b8"/>
<stop offset=".675" stop-color="#b2b2b2"/>
<stop offset=".6929" stop-color="#b2b2b2"/>
<stop offset=".693" stop-color="#adadad"/>
<stop offset=".7109" stop-color="#adadad"/>
<stop offset=".7109" stop-color="#a6a6a6"/>
<stop offset=".7265" stop-color="#a6a6a6"/>
<stop offset=".7266" stop-color="#9e9e9e"/>
<stop offset=".7375" stop-color="#9e9e9e"/>
<stop offset=".7375" stop-color="#a3a3a3"/>
<stop offset=".75" stop-color="#a3a3a3"/>
<stop offset=".75" stop-color="#b0b0b0"/>
<stop offset=".7656" stop-color="#b0b0b0"/>
<stop offset=".7656" stop-color="#a1a1a1"/>
<stop offset=".7867" stop-color="#a1a1a1"/>
<stop offset=".7867" stop-color="#a3a3a3"/>
<stop offset=".8125" stop-color="#a3a3a3"/>
<stop offset=".8125" stop-color="#c7c7c7"/>
<stop offset=".8437" stop-color="#c7c7c7"/>
<stop offset=".8438" stop-color="#bdbdbd"/>
<stop offset=".8703" stop-color="#bdbdbd"/>
<stop offset=".8703" stop-color="#adadad"/>
<stop offset=".9343" stop-color="#adadad"/>
<stop offset=".9344" stop-color="#bababa"/>
<stop offset=".9679" stop-color="#bababa"/>
<stop offset=".968" stop-color="#adadad"/>
<stop offset=".9969" stop-color="#adadad"/>
</linearGradient>
<linearGradient id="p1c4" gradientUnits="userSpaceOnUse" x1="0" y1="80" x2="0" y2="720">
<stop offset="0" stop-color="#a6a6a6"/>
<stop offset=".0525" stop-color="#a6a6a6"/>
<stop offset=".0525" stop-color="#a3a3a3"/>
<stop offset=".1322" stop-color="#a3a3a3"/>
<stop offset=".1322" stop-color="#adadad"/>
<stop offset=".1547" stop-color="#bdbdbd"/>
<stop offset=".1625" stop-color="#e6e6e6"/>
<stop offset=".1875" stop-color="#e6e6e6"/>
<stop offset=".1875" stop-color="#cccccc"/>
<stop offset=".214" stop-color="#cccccc"/>
<stop offset=".2141" stop-color="#c7c7c7"/>
<stop offset=".2187" stop-color="#c7c7c7"/>
<stop offset=".2188" stop-color="#bfbfbf"/>
<stop offset=".2203" stop-color="#bfbfbf"/>
<stop offset=".2203" stop-color="#c7c7c7"/>
<stop offset=".2297" stop-color="#c7c7c7"/>
<stop offset=".2297" stop-color="#c2c2c2"/>
<stop offset=".2312" stop-color="#c2c2c2"/>
<stop offset=".2313" stop-color="#8a8a8a"/>
<stop offset=".2328" stop-color="#8a8a8a"/>
<stop offset=".2328" stop-color="#8f8f8f"/>
<stop offset=".2343" stop-color="#8f8f8f"/>
<stop offset=".2344" stop-color="#808080"/>
<stop offset=".2437" stop-color="#808080"/>
<stop offset=".2437" stop-color="#8f8f8f"/>
<stop offset=".2515" stop-color="#8f8f8f"/>
<stop offset=".2516" stop-color="#949494"/>
<stop offset=".2562" stop-color="#949494"/>
<stop offset=".2562" stop-color="#969696"/>
<stop offset=".2625" stop-color="#969696"/>
<stop offset=".2625" stop-color="#949494"/>
<stop offset=".2672" stop-color="#949494"/>
<stop offset=".2672" stop-color="#999999"/>
<stop offset=".3093" stop-color="#999999"/>
<stop offset=".3094" stop-color="#a8a8a8"/>
<stop offset=".3547" stop-color="#a8a8a8"/>
<stop offset=".3547" stop-color="#b2b2b2"/>
<stop offset=".5906" stop-color="#b2b2b2"/>
<stop offset=".5906" stop-color="#dbdbdb"/>
<stop offset=".6047" stop-color="#dbdbdb"/>
<stop offset=".6047" stop-color="#e0e0e0"/>
<stop offset=".6187" stop-color="#e0e0e0"/>
<stop offset=".6188" stop-color="#b2b2b2"/>
<stop offset=".6312" stop-color="#b2b2b2"/>
<stop offset=".6312" stop-color="#adadad"/>
<stop offset=".675" stop-color="#adadad"/>
<stop offset=".675" stop-color="#b8b8b8"/>
<stop offset=".6929" stop-color="#b8b8b8"/>
<stop offset=".693" stop-color="#b5b5b5"/>
<stop offset=".7109" stop-color="#b5b5b5"/>
<stop offset=".7109" stop-color="#b0b0b0"/>
<stop offset=".7265" stop-color="#b0b0b0"/>
<stop offset=".7266" stop-color="#9e9e9e"/>
<stop offset=".75" stop-color="#9e9e9e"/>
<stop offset=".75" stop-color="#a3a3a3"/>
<stop offset=".7656" stop-color="#a3a3a3"/>
<stop offset=".7656" stop-color="#a1a1a1"/>
<stop offset=".7867" stop-color="#a1a1a1"/>
<stop offset=".7867" stop-color="#9e9e9e"/>
<stop offset=".8125" stop-color="#9e9e9e"/>
<stop offset=".8125" stop-color="#a3a3a3"/>
<stop offset=".8437" stop-color="#a3a3a3"/>
<stop offset=".8438" stop-color="#a1a1a1"/>
<stop offset=".8703" stop-color="#a1a1a1"/>
<stop offset=".8703" stop-color="#b2b2b2"/>
<stop offset=".9969" stop-color="#b2b2b2"/>
</linearGradient>
<linearGradient id="p1c5" gradientUnits="userSpaceOnUse" x1="0" y1="80" x2="0" y2="720">
<stop offset="0" stop-color="#999999"/>
<stop offset=".0525" stop-color="#999999"/>
<stop offset=".0525" stop-color="#adadad"/>
<stop offset=".0992" stop-color="#adadad"/>
<stop offset=".0992" stop-color="#9e9e9e"/>
<stop offset=".1322" stop-color="#9e9e9e"/>
<stop offset=".1322" stop-color="#a6a6a6"/>
<stop offset=".1547" stop-color="#b2b2b2"/>
<stop offset=".1625" stop-color="#d9d9d9"/>
<stop offset=".1875" stop-color="#d9d9d9"/>
<stop offset=".1875" stop-color="#c2c2c2"/>
<stop offset=".214" stop-color="#c2c2c2"/>
<stop offset=".2141" stop-color="#bfbfbf"/>
<stop offset=".2187" stop-color="#bfbfbf"/>
<stop offset=".2188" stop-color="#b8b8b8"/>
<stop offset=".2203" stop-color="#b8b8b8"/>
<stop offset=".2203" stop-color="#bfbfbf"/>
<stop offset=".2297" stop-color="#bfbfbf"/>
<stop offset=".2297" stop-color="#bababa"/>
<stop offset=".2312" stop-color="#bababa"/>
<stop offset=".2313" stop-color="#8a8a8a"/>
<stop offset=".2328" stop-color="#8a8a8a"/>
<stop offset=".2328" stop-color="#8f8f8f"/>
<stop offset=".2343" stop-color="#8f8f8f"/>
<stop offset=".2344" stop-color="#808080"/>
<stop offset=".2437" stop-color="#808080"/>
<stop offset=".2437" stop-color="#8f8f8f"/>
<stop offset=".2515" stop-color="#8f8f8f"/>
<stop offset=".2516" stop-color="#949494"/>
<stop offset=".2562" stop-color="#949494"/>
<stop offset=".2562" stop-color="#969696"/>
<stop offset=".2625" stop-color="#969696"/>
<stop offset=".2625" stop-color="#949494"/>
<stop offset=".2672" stop-color="#949494"/>
<stop offset=".2672" stop-color="#999999"/>
<stop offset=".3093" stop-color="#999999"/>
<stop offset=".3094" stop-color="#b2b2b2"/>
<stop offset=".3547" stop-color="#b2b2b2"/>
<stop offset=".3547" stop-color="#a1a1a1"/>
<stop offset=".412" stop-color="#a1a1a1"/>
<stop offset=".412" stop-color="#9c9c9c"/>
<stop offset=".5281" stop-color="#9c9c9c"/>
<stop offset=".5281" stop-color="#adadad"/>
<stop offset=".5453" stop-color="#adadad"/>
<stop offset=".5453" stop-color="#b2b2b2"/>
<stop offset=".5906" stop-color="#b2b2b2"/>
<stop offset=".5906" stop-color="#d9d9d9"/>
<stop offset=".6047" stop-color="#d9d9d9"/>
<stop offset=".6047" stop-color="#dbdbdb"/>
<stop offset=".6187" stop-color="#dbdbdb"/>
<stop offset=".6188" stop-color="#b2b2b2"/>
<stop offset=".6312" stop-color="#b2b2b2"/>
<stop offset=".6312" stop-color="#b0b0b0"/>
<stop offset=".675" stop-color="#b0b0b0"/>
<stop offset=".675" stop-color="#b8b8b8"/>
<stop offset=".7109" stop-color="#b8b8b8"/>
<stop offset=".7109" stop-color="#adadad"/>
<stop offset=".7265" stop-color="#adadad"/>
<stop offset=".7266" stop-color="#8a8a8a"/>
<stop offset=".7375" stop-color="#8a8a8a"/>
<stop offset=".7375" stop-color="#7a7a7a"/>
<stop offset=".7656" stop-color="#7a7a7a"/>
<stop offset=".7656" stop-color="#8f8f8f"/>
<stop offset=".7867" stop-color="#8f8f8f"/>
<stop offset=".7867" stop-color="#999999"/>
<stop offset=".8125" stop-color="#999999"/>
<stop offset=".8125" stop-color="#a3a3a3"/>
<stop offset=".8437" stop-color="#a3a3a3"/>
<stop offset=".8438" stop-color="#a1a1a1"/>
<stop offset=".8703" stop-color="#a1a1a1"/>
<stop offset=".8703" stop-color="#a6a6a6"/>
<stop offset=".9679" stop-color="#a6a6a6"/>
<stop offset=".968" stop-color="#adadad"/>
<stop offset=".9969" stop-color="#adadad"/>
</linearGradient>
<linearGradient id="p1c6" gradientUnits="userSpaceOnUse" x1="0" y1="80" x2="0" y2="720">
<stop offset="0" stop-color="#303030"/>
<stop offset=".0525" stop-color="#303030"/>
<stop offset=".0525" stop-color="#4c4c4c"/>
<stop offset=".0645" stop-color="#4c4c4c"/>
<stop offset=".0645" stop-color="#303030"/>
<stop offset=".0992" stop-color="#303030"/>
<stop offset=".0992" stop-color="#2e2e2e"/>
<stop offset=".1322" stop-color="#2e2e2e"/>
<stop offset=".1547" stop-color="#4c4c4c"/>
<stop offset=".1625" stop-color="#575757"/>
<stop offset=".1875" stop-color="#575757"/>
<stop offset=".1875" stop-color="#525252"/>
<stop offset=".214" stop-color="#525252"/>
<stop offset=".2141" stop-color="#4c4c4c"/>
<stop offset=".2172" stop-color="#4c4c4c"/>
<stop offset=".2172" stop-color="#3b3b3b"/>
<stop offset=".2187" stop-color="#3b3b3b"/>
<stop offset=".2188" stop-color="#5c5c5c"/>
<stop offset=".2203" stop-color="#5c5c5c"/>
<stop offset=".2203" stop-color="#4c4c4c"/>
<stop offset=".2297" stop-color="#4c4c4c"/>
<stop offset=".2297" stop-color="#575757"/>
<stop offset=".2312" stop-color="#575757"/>
<stop offset=".2313" stop-color="#707070"/>
<stop offset=".2328" stop-color="#707070"/>
<stop offset=".2328" stop-color="#7d7d7d"/>
<stop offset=".2343" stop-color="#7d7d7d"/>
<stop offset=".2344" stop-color="#707070"/>
<stop offset=".2437" stop-color="#707070"/>
<stop offset=".2437" stop-color="#616161"/>
<stop offset=".2515" stop-color="#616161"/>
<stop offset=".2516" stop-color="#666666"/>
<stop offset=".2562" stop-color="#666666"/>
<stop offset=".2562" stop-color="#3b3b3b"/>
<stop offset=".2625" stop-color="#3b3b3b"/>
<stop offset=".2625" stop-color="#616161"/>
<stop offset=".2672" stop-color="#616161"/>
<stop offset=".2672" stop-color="#363636"/>
<stop offset=".3093" stop-color="#363636"/>
<stop offset=".3094" stop-color="#303030"/>
<stop offset=".3547" stop-color="#303030"/>
<stop offset=".3547" stop-color="#2b2b2b"/>
<stop offset=".5281" stop-color="#2b2b2b"/>
<stop offset=".5281" stop-color="#2e2e2e"/>
<stop offset=".5297" stop-color="#2e2e2e"/>
<stop offset=".5297" stop-color="#4c4c4c"/>
<stop offset=".5312" stop-color="#4c4c4c"/>
<stop offset=".5312" stop-color="#2e2e2e"/>
<stop offset=".5453" stop-color="#2e2e2e"/>
<stop offset=".5453" stop-color="#3b3b3b"/>
<stop offset=".55" stop-color="#3b3b3b"/>
<stop offset=".55" stop-color="#303030"/>
<stop offset=".5859" stop-color="#303030"/>
<stop offset=".5859" stop-color="#525252"/>
<stop offset=".5906" stop-color="#525252"/>
<stop offset=".5906" stop-color="#4c4c4c"/>
<stop offset=".6047" stop-color="#4c4c4c"/>
<stop offset=".6047" stop-color="#525252"/>
<stop offset=".6187" stop-color="#525252"/>
<stop offset=".6188" stop-color="#3b3b3b"/>
<stop offset=".6312" stop-color="#3b3b3b"/>
<stop offset=".6312" stop-color="#4c4c4c"/>
<stop offset=".6568" stop-color="#4c4c4c"/>
<stop offset=".6569" stop-color="#3b3b3b"/>
<stop offset=".675" stop-color="#3b3b3b"/>
<stop offset=".675" stop-color="#303030"/>
<stop offset=".6929" stop-color="#303030"/>
<stop offset=".693" stop-color="#2b2b2b"/>
<stop offset=".7867" stop-color="#2b2b2b"/>
<stop offset=".7867" stop-color="#303030"/>
<stop offset=".8703" stop-color="#303030"/>
<stop offset=".8703" stop-color="#2b2b2b"/>
<stop offset=".9687" stop-color="#2b2b2b"/>
<stop offset=".9688" stop-color="#303030"/>
<stop offset=".9703" stop-color="#303030"/>
<stop offset=".9703" stop-color="#666666"/>
<stop offset=".9765" stop-color="#666666"/>
<stop offset=".9766" stop-color="#3b3b3b"/>
<stop offset=".9781" stop-color="#3b3b3b"/>
<stop offset=".9781" stop-color="#212121"/>
<stop offset=".9797" stop-color="#212121"/>
<stop offset=".9797" stop-color="#262626"/>
<stop offset=".9812" stop-color="#262626"/>
<stop offset=".9812" stop-color="#666666"/>
<stop offset=".9859" stop-color="#666666"/>
<stop offset=".9859" stop-color="#707070"/>
<stop offset=".989" stop-color="#707070"/>
<stop offset=".9891" stop-color="#212121"/>
<stop offset=".9906" stop-color="#212121"/>
<stop offset=".9906" stop-color="#8f8f8f"/>
<stop offset=".9922" stop-color="#8f8f8f"/>
<stop offset=".9922" stop-color="#262626"/>
<stop offset=".9953" stop-color="#262626"/>
<stop offset=".9953" stop-color="#999999"/>
<stop offset=".9968" stop-color="#999999"/>
<stop offset=".9969" stop-color="#262626"/>
</linearGradient>
<linearGradient id="p1c7" gradientUnits="userSpaceOnUse" x1="0" y1="80" x2="0" y2="720">
<stop offset="0" stop-color="#535353"/>
<stop offset=".0525" stop-color="#535353"/>
<stop offset=".0525" stop-color="#545454"/>
<stop offset=".0992" stop-color="#545454"/>
<stop offset=".0992" stop-color="#535353"/>
<stop offset=".1322" stop-color="#535353"/>
<stop offset=".1322" stop-color="#545454"/>
<stop offset=".1547" stop-color="#585858"/>
<stop offset=".1625" stop-color="#575757"/>
<stop offset=".1875" stop-color="#575757"/>
<stop offset=".1875" stop-color="#525252"/>
<stop offset=".214" stop-color="#525252"/>
<stop offset=".2141" stop-color="#5b5b5b"/>
<stop offset=".2187" stop-color="#5b5b5b"/>
<stop offset=".2188" stop-color="#616161"/>
<stop offset=".2203" stop-color="#616161"/>
<stop offset=".2203" stop-color="#5b5b5b"/>
<stop offset=".2297" stop-color="#5b5b5b"/>
<stop offset=".2297" stop-color="#575757"/>
<stop offset=".2312" stop-color="#575757"/>
<stop offset=".2313" stop-color="#7a7a7a"/>
<stop offset=".2328" stop-color="#7a7a7a"/>
<stop offset=".2328" stop-color="#858585"/>
<stop offset=".2343" stop-color="#858585"/>
<stop offset=".2344" stop-color="#757575"/>
<stop offset=".2437" stop-color="#757575"/>
<stop offset=".2437" stop-color="#666666"/>
<stop offset=".2562" stop-color="#666666"/>
<stop offset=".2562" stop-color="#505050"/>
<stop offset=".2625" stop-color="#505050"/>
<stop offset=".2625" stop-color="#666666"/>
<stop offset=".2672" stop-color="#666666"/>
<stop offset=".2672" stop-color="#525252"/>
<stop offset=".3093" stop-color="#525252"/>
<stop offset=".3094" stop-color="#545454"/>
<stop offset=".3547" stop-color="#545454"/>
<stop offset=".3547" stop-color="#545454"/>
<stop offset=".412" stop-color="#545454"/>
<stop offset=".412" stop-color="#545454"/>
<stop offset=".5281" stop-color="#545454"/>
<stop offset=".5281" stop-color="#555555"/>
<stop offset=".5453" stop-color="#555555"/>
<stop offset=".5453" stop-color="#565656"/>
<stop offset=".5859" stop-color="#565656"/>
<stop offset=".5859" stop-color="#5c5c5c"/>
<stop offset=".5906" stop-color="#5c5c5c"/>
<stop offset=".5906" stop-color="#575757"/>
<stop offset=".6047" stop-color="#575757"/>
<stop offset=".6047" stop-color="#5c5c5c"/>
<stop offset=".6187" stop-color="#5c5c5c"/>
<stop offset=".6188" stop-color="#565656"/>
<stop offset=".6312" stop-color="#565656"/>
<stop offset=".6312" stop-color="#565656"/>
<stop offset=".6568" stop-color="#565656"/>
<stop offset=".6569" stop-color="#555555"/>
<stop offset=".675" stop-color="#555555"/>
<stop offset=".675" stop-color="#565656"/>
<stop offset=".6929" stop-color="#565656"/>
<stop offset=".693" stop-color="#565656"/>
<stop offset=".7109" stop-color="#565656"/>
<stop offset=".7109" stop-color="#535353"/>
<stop offset=".7265" stop-color="#535353"/>
<stop offset=".7266" stop-color="#4f4f4f"/>
<stop offset=".7375" stop-color="#4f4f4f"/>
<stop offset=".7375" stop-color="#505050"/>
<stop offset=".75" stop-color="#505050"/>
<stop offset=".75" stop-color="#4f4f4f"/>
<stop offset=".7656" stop-color="#4f4f4f"/>
<stop offset=".7656" stop-color="#4f4f4f"/>
<stop offset=".7867" stop-color="#4f4f4f"/>
<stop offset=".7867" stop-color="#505050"/>
<stop offset=".8125" stop-color="#505050"/>
<stop offset=".8125" stop-color="#565656"/>
<stop offset=".8437" stop-color="#565656"/>
<stop offset=".8438" stop-color="#545454"/>
<stop offset=".8703" stop-color="#545454"/>
<stop offset=".8703" stop-color="#535353"/>
<stop offset=".9343" stop-color="#535353"/>
<stop offset=".9344" stop-color="#565656"/>
<stop offset=".9679" stop-color="#565656"/>
<stop offset=".968" stop-color="#545454"/>
<stop offset=".9969" stop-color="#545454"/>
</linearGradient>
<linearGradient id="p1c8" gradientUnits="userSpaceOnUse" x1="0" y1="80" x2="0" y2="720">
<stop offset="0" stop-color="#373737"/>
<stop offset=".0525" stop-color="#373737"/>
<stop offset=".0525" stop-color="#383838"/>
<stop offset=".0992" stop-color="#383838"/>
<stop offset=".0992" stop-color="#373737"/>
<stop offset=".1322" stop-color="#373737"/>
<stop offset=".1322" stop-color="#383838"/>
<stop offset=".1547" stop-color="#383838"/>
<stop offset=".1875" stop-color="#383838"/>
<stop offset=".1875" stop-color="#363636"/>
<stop offset=".214" stop-color="#363636"/>
<stop offset=".2141" stop-color="#383838"/>
<stop offset=".2562" stop-color="#383838"/>
<stop offset=".2562" stop-color="#343434"/>
<stop offset=".2625" stop-color="#343434"/>
<stop offset=".2625" stop-color="#383838"/>
<stop offset=".2672" stop-color="#383838"/>
<stop offset=".2672" stop-color="#363636"/>
<stop offset=".3093" stop-color="#363636"/>
<stop offset=".3094" stop-color="#383838"/>
<stop offset=".3547" stop-color="#383838"/>
<stop offset=".3547" stop-color="#383838"/>
<stop offset=".412" stop-color="#383838"/>
<stop offset=".412" stop-color="#383838"/>
<stop offset=".5281" stop-color="#383838"/>
<stop offset=".5281" stop-color="#383838"/>
<stop offset=".7109" stop-color="#383838"/>
<stop offset=".7109" stop-color="#373737"/>
<stop offset=".7265" stop-color="#373737"/>
<stop offset=".7266" stop-color="#333333"/>
<stop offset=".7375" stop-color="#333333"/>
<stop offset=".7375" stop-color="#333333"/>
<stop offset=".75" stop-color="#333333"/>
<stop offset=".75" stop-color="#333333"/>
<stop offset=".7656" stop-color="#333333"/>
<stop offset=".7656" stop-color="#333333"/>
<stop offset=".7867" stop-color="#333333"/>
<stop offset=".7867" stop-color="#343434"/>
<stop offset=".8125" stop-color="#343434"/>
<stop offset=".8125" stop-color="#383838"/>
<stop offset=".8703" stop-color="#383838"/>
<stop offset=".8703" stop-color="#373737"/>
<stop offset=".9343" stop-color="#373737"/>
<stop offset=".9344" stop-color="#383838"/>
<stop offset=".9969" stop-color="#383838"/>
</linearGradient>
<linearGradient id="p2c0" gradientUnits="userSpaceOnUse" x1="0" y1="80" x2="0" y2="720">
<stop offset="0" stop-color="#343434"/>
<stop offset=".0312" stop-color="#343434"/>
<stop offset=".0312" stop-color="#393939"/>
<stop offset=".0525" stop-color="#393939"/>
<stop offset=".0525" stop-color="#414141"/>
<stop offset=".0645" stop-color="#414141"/>
<stop offset=".0645" stop-color="#313131"/>
<stop offset=".1322" stop-color="#313131"/>
<stop offset=".1322" stop-color="#2f2f2f"/>
<stop offset=".1656" stop-color="#2f2f2f"/>
<stop offset=".1656" stop-color="#313131"/>
<stop offset=".214" stop-color="#313131"/>
<stop offset=".2141" stop-color="#393939"/>
<stop offset=".2172" stop-color="#393939"/>
<stop offset=".2172" stop-color="#313131"/>
<stop offset=".2187" stop-color="#313131"/>
<stop offset=".2188" stop-color="#6b6b6b"/>
<stop offset=".2203" stop-color="#6b6b6b"/>
<stop offset=".2203" stop-color="#373737"/>
<stop offset=".2297" stop-color="#373737"/>
<stop offset=".2297" stop-color="#525252"/>
<stop offset=".2312" stop-color="#525252"/>
<stop offset=".2313" stop-color="#757575"/>
<stop offset=".2328" stop-color="#757575"/>
<stop offset=".2328" stop-color="#8a8a8a"/>
<stop offset=".2343" stop-color="#8a8a8a"/>
<stop offset=".2344" stop-color="#7a7a7a"/>
<stop offset=".2437" stop-color="#7a7a7a"/>
<stop offset=".2437" stop-color="#666666"/>
<stop offset=".2515" stop-color="#666666"/>
<stop offset=".2516" stop-color="#6b6b6b"/>
<stop offset=".2562" stop-color="#6b6b6b"/>
<stop offset=".2562" stop-color="#3c3c3c"/>
<stop offset=".2625" stop-color="#3c3c3c"/>
<stop offset=".2625" stop-color="#666666"/>
<stop offset=".2672" stop-color="#666666"/>
<stop offset=".2672" stop-color="#313131"/>
<stop offset=".2703" stop-color="#313131"/>
<stop offset=".2703" stop-color="#2f2f2f"/>
<stop offset=".3093" stop-color="#2f2f2f"/>
<stop offset=".3094" stop-color="#2c2c2c"/>
<stop offset=".412" stop-color="#2c2c2c"/>
<stop offset=".412" stop-color="#2f2f2f"/>
<stop offset=".5453" stop-color="#2f2f2f"/>
<stop offset=".5453" stop-color="#373737"/>
<stop offset=".5859" stop-color="#373737"/>
<stop offset=".5859" stop-color="#313131"/>
<stop offset=".6187" stop-color="#313131"/>
<stop offset=".6188" stop-color="#343434"/>
<stop offset=".6312" stop-color="#343434"/>
<stop offset=".6312" stop-color="#393939"/>
<stop offset=".675" stop-color="#393939"/>
<stop offset=".675" stop-color="#313131"/>
<stop offset=".7867" stop-color="#313131"/>
<stop offset=".7867" stop-color="#373737"/>
<stop offset=".8125" stop-color="#373737"/>
<stop offset=".8125" stop-color="#343434"/>
<stop offset=".9687" stop-color="#343434"/>
<stop offset=".9688" stop-color="#383838"/>
<stop offset=".9703" stop-color="#383838"/>
<stop offset=".9703" stop-color="#3d3d3d"/>
<stop offset=".9765" stop-color="#3d3d3d"/>
<stop offset=".9766" stop-color="#383838"/>
<stop offset=".9781" stop-color="#383838"/>
<stop offset=".9781" stop-color="#292929"/>
<stop offset=".9797" stop-color="#292929"/>
<stop offset=".9797" stop-color="#383838"/>
<stop offset=".9812" stop-color="#383838"/>
<stop offset=".9812" stop-color="#3d3d3d"/>
<stop offset=".9859" stop-color="#3d3d3d"/>
<stop offset=".9859" stop-color="#474747"/>
<stop offset=".989" stop-color="#474747"/>
<stop offset=".9891" stop-color="#292929"/>
<stop offset=".9906" stop-color="#292929"/>
<stop offset=".9906" stop-color="#666666"/>
<stop offset=".9922" stop-color="#666666"/>
<stop offset=".9922" stop-color="#2e2e2e"/>
<stop offset=".9953" stop-color="#2e2e2e"/>
<stop offset=".9953" stop-color="#707070"/>
<stop offset=".9968" stop-color="#707070"/>
<stop offset=".9969" stop-color="#2e2e2e"/>
</linearGradient>
<linearGradient id="p2c1" gradientUnits="userSpaceOnUse" x1="0" y1="80" x2="0" y2="720">
<stop offset="0" stop-color="#3a3a3a"/>
<stop offset=".0312" stop-color="#3a3a3a"/>
<stop offset=".0312" stop-color="#3f3f3f"/>
<stop offset=".0525" stop-color="#3f3f3f"/>
<stop offset=".0525" stop-color="#474747"/>
<stop offset=".0645" stop-color="#474747"/>
<stop offset=".0645" stop-color="#383838"/>
<stop offset=".1322" stop-color="#383838"/>
<stop offset=".1322" stop-color="#383838"/>
<stop offset=".1531" stop-color="#525252"/>
<stop offset=".1656" stop-color="#525252"/>
<stop offset=".1656" stop-color="#5c5c5c"/>
<stop offset=".1875" stop-color="#5c5c5c"/>
<stop offset=".1875" stop-color="#575757"/>
<stop offset=".214" stop-color="#575757"/>
<stop offset=".2141" stop-color="#4c4c4c"/>
<stop offset=".2172" stop-color="#4c4c4c"/>
<stop offset=".2172" stop-color="#474747"/>
<stop offset=".2187" stop-color="#474747"/>
<stop offset=".2188" stop-color="#6b6b6b"/>
<stop offset=".2203" stop-color="#6b6b6b"/>
<stop offset=".2203" stop-color="#4c4c4c"/>
<stop offset=".2297" stop-color="#4c4c4c"/>
<stop offset=".2297" stop-color="#575757"/>
<stop offset=".2312" stop-color="#575757"/>
<stop offset=".2313" stop-color="#757575"/>
<stop offset=".2328" stop-color="#757575"/>
<stop offset=".2328" stop-color="#878787"/>
<stop offset=".2343" stop-color="#878787"/>
<stop offset=".2344" stop-color="#7a7a7a"/>
<stop offset=".2437" stop-color="#7a7a7a"/>
<stop offset=".2437" stop-color="#666666"/>
<stop offset=".2515" stop-color="#666666"/>
<stop offset=".2516" stop-color="#6b6b6b"/>
<stop offset=".2562" stop-color="#6b6b6b"/>
<stop offset=".2562" stop-color="#424242"/>
<stop offset=".2625" stop-color="#424242"/>
<stop offset=".2625" stop-color="#666666"/>
<stop offset=".2672" stop-color="#666666"/>
<stop offset=".2672" stop-color="#3d3d3d"/>
<stop offset=".2703" stop-color="#3d3d3d"/>
<stop offset=".2703" stop-color="#373737"/>
<stop offset=".3093" stop-color="#373737"/>
<stop offset=".3094" stop-color="#323232"/>
<stop offset=".375" stop-color="#323232"/>
<stop offset=".375" stop-color="#454545"/>
<stop offset=".5281" stop-color="#454545"/>
<stop offset=".5281" stop-color="#3d3d3d"/>
<stop offset=".5453" stop-color="#3d3d3d"/>
<stop offset=".5453" stop-color="#424242"/>
<stop offset=".5859" stop-color="#424242"/>
<stop offset=".5859" stop-color="#3d3d3d"/>
<stop offset=".5906" stop-color="#3d3d3d"/>
<stop offset=".5906" stop-color="#737373"/>
<stop offset=".6047" stop-color="#737373"/>
<stop offset=".6047" stop-color="#878787"/>
<stop offset=".6187" stop-color="#878787"/>
<stop offset=".6188" stop-color="#474747"/>
<stop offset=".675" stop-color="#474747"/>
<stop offset=".675" stop-color="#3d3d3d"/>
<stop offset=".6929" stop-color="#3d3d3d"/>
<stop offset=".693" stop-color="#383838"/>
<stop offset=".7867" stop-color="#383838"/>
<stop offset=".7867" stop-color="#3d3d3d"/>
<stop offset=".8125" stop-color="#3d3d3d"/>
<stop offset=".8125" stop-color="#3a3a3a"/>
<stop offset=".9687" stop-color="#3a3a3a"/>
<stop offset=".9688" stop-color="#383838"/>
<stop offset=".9703" stop-color="#383838"/>
<stop offset=".9703" stop-color="#3d3d3d"/>
<stop offset=".9765" stop-color="#3d3d3d"/>
<stop offset=".9766" stop-color="#383838"/>
<stop offset=".9781" stop-color="#383838"/>
<stop offset=".9781" stop-color="#292929"/>
<stop offset=".9797" stop-color="#292929"/>
<stop offset=".9797" stop-color="#383838"/>
<stop offset=".9812" stop-color="#383838"/>
<stop offset=".9812" stop-color="#3d3d3d"/>
<stop offset=".9859" stop-color="#3d3d3d"/>
<stop offset=".9859" stop-color="#474747"/>
<stop offset=".989" stop-color="#474747"/>
<stop offset=".9891" stop-color="#292929"/>
<stop offset=".9906" stop-color="#292929"/>
<stop offset=".9906" stop-color="#666666"/>
<stop offset=".9922" stop-color="#666666"/>
<stop offset=".9922" stop-color="#2e2e2e"/>
<stop offset=".9953" stop-color="#2e2e2e"/>
<stop offset=".9953" stop-color="#707070"/>
<stop offset=".9968" stop-color="#707070"/>
<stop offset=".9969" stop-color="#2e2e2e"/>
</linearGradient>
<linearGradient id="p2c2" gradientUnits="userSpaceOnUse" x1="0" y1="80" x2="0" y2="720">
<stop offset="0" stop-color="#b2b2b2"/>
<stop offset=".0525" stop-color="#b2b2b2"/>
<stop offset=".0525" stop-color="#a8a8a8"/>
<stop offset=".0992" stop-color="#a8a8a8"/>
<stop offset=".0992" stop-color="#adadad"/>
<stop offset=".1322" stop-color="#adadad"/>
<stop offset=".1322" stop-color="#b2b2b2"/>
<stop offset=".1531" stop-color="#c7c7c7"/>
<stop offset=".1656" stop-color="#c7c7c7"/>
<stop offset=".1656" stop-color="#cfcfcf"/>
<stop offset=".214" stop-color="#cfcfcf"/>
<stop offset=".2141" stop-color="#cccccc"/>
<stop offset=".2187" stop-color="#cccccc"/>
<stop offset=".2188" stop-color="#c4c4c4"/>
<stop offset=".2203" stop-color="#c4c4c4"/>
<stop offset=".2203" stop-color="#cccccc"/>
<stop offset=".2297" stop-color="#cccccc"/>
<stop offset=".2297" stop-color="#c7c7c7"/>
<stop offset=".2312" stop-color="#c7c7c7"/>
<stop offset=".2313" stop-color="#8f8f8f"/>
<stop offset=".2328" stop-color="#8f8f8f"/>
<stop offset=".2328" stop-color="#949494"/>
<stop offset=".2343" stop-color="#949494"/>
<stop offset=".2344" stop-color="#858585"/>
<stop offset=".2437" stop-color="#858585"/>
<stop offset=".2437" stop-color="#999999"/>
<stop offset=".2515" stop-color="#999999"/>
<stop offset=".2516" stop-color="#9e9e9e"/>
<stop offset=".2562" stop-color="#9e9e9e"/>
<stop offset=".2562" stop-color="#a1a1a1"/>
<stop offset=".2625" stop-color="#a1a1a1"/>
<stop offset=".2625" stop-color="#9e9e9e"/>
<stop offset=".2672" stop-color="#9e9e9e"/>
<stop offset=".2672" stop-color="#a6a6a6"/>
<stop offset=".3093" stop-color="#a6a6a6"/>
<stop offset=".3094" stop-color="#adadad"/>
<stop offset=".3547" stop-color="#adadad"/>
<stop offset=".3547" stop-color="#b0b0b0"/>
<stop offset=".412" stop-color="#b0b0b0"/>
<stop offset=".412" stop-color="#b5b5b5"/>
<stop offset=".5281" stop-color="#b5b5b5"/>
<stop offset=".5281" stop-color="#b8b8b8"/>
<stop offset=".5453" stop-color="#b8b8b8"/>
<stop offset=".5453" stop-color="#bababa"/>
<stop offset=".5859" stop-color="#bababa"/>
<stop offset=".5859" stop-color="#bdbdbd"/>
<stop offset=".5906" stop-color="#bdbdbd"/>
<stop offset=".5906" stop-color="#dedede"/>
<stop offset=".6047" stop-color="#dedede"/>
<stop offset=".6047" stop-color="#ededed"/>
<stop offset=".6187" stop-color="#ededed"/>
<stop offset=".6188" stop-color="#b2b2b2"/>
<stop offset=".6312" stop-color="#b2b2b2"/>
<stop offset=".6312" stop-color="#b0b0b0"/>
<stop offset=".6929" stop-color="#b0b0b0"/>
<stop offset=".693" stop-color="#b8b8b8"/>
<stop offset=".7265" stop-color="#b8b8b8"/>
<stop offset=".7266" stop-color="#9c9c9c"/>
<stop offset=".7867" stop-color="#9c9c9c"/>
<stop offset=".7867" stop-color="#9e9e9e"/>
<stop offset=".8125" stop-color="#9e9e9e"/>
<stop offset=".8125" stop-color="#b5b5b5"/>
<stop offset=".8359" stop-color="#b5b5b5"/>
<stop offset=".8359" stop-color="#9e9e9e"/>
<stop offset=".8703" stop-color="#9e9e9e"/>
<stop offset=".8703" stop-color="#a3a3a3"/>
<stop offset=".9218" stop-color="#a3a3a3"/>
<stop offset=".9219" stop-color="#b2b2b2"/>
<stop offset=".9679" stop-color="#b2b2b2"/>
<stop offset=".968" stop-color="#9e9e9e"/>
<stop offset=".9969" stop-color="#9e9e9e"/>
</linearGradient>
<linearGradient id="p2c3" gradientUnits="userSpaceOnUse" x1="0" y1="80" x2="0" y2="720">
<stop offset="0" stop-color="#bdbdbd"/>
<stop offset=".0525" stop-color="#bdbdbd"/>
<stop offset=".0525" stop-color="#adadad"/>
<stop offset=".0992" stop-color="#adadad"/>
<stop offset=".0992" stop-color="#b2b2b2"/>
<stop offset=".1322" stop-color="#b2b2b2"/>
<stop offset=".1322" stop-color="#b8b8b8"/>
<stop offset=".1531" stop-color="#c7c7c7"/>
<stop offset=".1656" stop-color="#c7c7c7"/>
<stop offset=".1656" stop-color="#cccccc"/>
<stop offset=".1875" stop-color="#cccccc"/>
<stop offset=".1875" stop-color="#c9c9c9"/>
<stop offset=".2187" stop-color="#c9c9c9"/>
<stop offset=".2188" stop-color="#c2c2c2"/>
<stop offset=".2203" stop-color="#c2c2c2"/>
<stop offset=".2203" stop-color="#c9c9c9"/>
<stop offset=".2297" stop-color="#c9c9c9"/>
<stop offset=".2297" stop-color="#c4c4c4"/>
<stop offset=".2312" stop-color="#c4c4c4"/>
<stop offset=".2313" stop-color="#8f8f8f"/>
<stop offset=".2328" stop-color="#8f8f8f"/>
<stop offset=".2328" stop-color="#949494"/>
<stop offset=".2343" stop-color="#949494"/>
<stop offset=".2344" stop-color="#858585"/>
<stop offset=".2437" stop-color="#858585"/>
<stop offset=".2437" stop-color="#999999"/>
<stop offset=".2515" stop-color="#999999"/>
<stop offset=".2516" stop-color="#9e9e9e"/>
<stop offset=".2562" stop-color="#9e9e9e"/>
<stop offset=".2562" stop-color="#a1a1a1"/>
<stop offset=".2625" stop-color="#a1a1a1"/>
<stop offset=".2625" stop-color="#9e9e9e"/>
<stop offset=".2672" stop-color="#9e9e9e"/>
<stop offset=".2672" stop-color="#adadad"/>
<stop offset=".3093" stop-color="#adadad"/>
<stop offset=".3094" stop-color="#b0b0b0"/>
<stop offset=".3547" stop-color="#b0b0b0"/>
<stop offset=".3547" stop-color="#adadad"/>
<stop offset=".412" stop-color="#adadad"/>
<stop offset=".412" stop-color="#bababa"/>
<stop offset=".5281" stop-color="#bababa"/>
<stop offset=".5281" stop-color="#b8b8b8"/>
<stop offset=".5453" stop-color="#b8b8b8"/>
<stop offset=".5453" stop-color="#bababa"/>
<stop offset=".5859" stop-color="#bababa"/>
<stop offset=".5859" stop-color="#bdbdbd"/>
<stop offset=".5906" stop-color="#bdbdbd"/>
<stop offset=".5906" stop-color="#e0e0e0"/>
<stop offset=".6047" stop-color="#e0e0e0"/>
<stop offset=".6047" stop-color="#f0f0f0"/>
<stop offset=".6187" stop-color="#f0f0f0"/>
<stop offset=".6188" stop-color="#b2b2b2"/>
<stop offset=".6312" stop-color="#b2b2b2"/>
<stop offset=".6312" stop-color="#adadad"/>
<stop offset=".6929" stop-color="#adadad"/>
<stop offset=".693" stop-color="#b5b5b5"/>
<stop offset=".7265" stop-color="#b5b5b5"/>
<stop offset=".7266" stop-color="#adadad"/>
<stop offset=".739" stop-color="#adadad"/>
<stop offset=".7391" stop-color="#b8b8b8"/>
<stop offset=".7656" stop-color="#b8b8b8"/>
<stop offset=".7656" stop-color="#a1a1a1"/>
<stop offset=".7867" stop-color="#a1a1a1"/>
<stop offset=".7867" stop-color="#a3a3a3"/>
<stop offset=".8125" stop-color="#a3a3a3"/>
<stop offset=".8125" stop-color="#bababa"/>
<stop offset=".8359" stop-color="#bababa"/>
<stop offset=".8359" stop-color="#a8a8a8"/>
<stop offset=".8703" stop-color="#a8a8a8"/>
<stop offset=".8703" stop-color="#a6a6a6"/>
<stop offset=".9218" stop-color="#a6a6a6"/>
<stop offset=".9219" stop-color="#b8b8b8"/>
<stop offset=".9679" stop-color="#b8b8b8"/>
<stop offset=".968" stop-color="#a3a3a3"/>
<stop offset=".9969" stop-color="#a3a3a3"/>
</linearGradient>
<linearGradient id="p2c4" gradientUnits="userSpaceOnUse" x1="0" y1="80" x2="0" y2="720">
<stop offset="0" stop-color="#a6a6a6"/>
<stop offset=".0525" stop-color="#a6a6a6"/>
<stop offset=".0525" stop-color="#9e9e9e"/>
<stop offset=".0992" stop-color="#9e9e9e"/>
<stop offset=".0992" stop-color="#b0b0b0"/>
<stop offset=".1322" stop-color="#b0b0b0"/>
<stop offset=".1322" stop-color="#b2b2b2"/>
<stop offset=".1531" stop-color="#bdbdbd"/>
<stop offset=".1875" stop-color="#bdbdbd"/>
<stop offset=".1875" stop-color="#bababa"/>
<stop offset=".2187" stop-color="#bababa"/>
<stop offset=".2188" stop-color="#b2b2b2"/>
<stop offset=".2203" stop-color="#b2b2b2"/>
<stop offset=".2203" stop-color="#bababa"/>
<stop offset=".2297" stop-color="#bababa"/>
<stop offset=".2297" stop-color="#b5b5b5"/>
<stop offset=".2312" stop-color="#b5b5b5"/>
<stop offset=".2313" stop-color="#8a8a8a"/>
<stop offset=".2328" stop-color="#8a8a8a"/>
<stop offset=".2328" stop-color="#8f8f8f"/>
<stop offset=".2343" stop-color="#8f8f8f"/>
<stop offset=".2344" stop-color="#808080"/>
<stop offset=".2437" stop-color="#808080"/>
<stop offset=".2437" stop-color="#8f8f8f"/>
<stop offset=".2515" stop-color="#8f8f8f"/>
<stop offset=".2516" stop-color="#949494"/>
<stop offset=".2562" stop-color="#949494"/>
<stop offset=".2562" stop-color="#969696"/>
<stop offset=".2625" stop-color="#969696"/>
<stop offset=".2625" stop-color="#949494"/>
<stop offset=".2672" stop-color="#949494"/>
<stop offset=".2672" stop-color="#999999"/>
<stop offset=".3093" stop-color="#999999"/>
<stop offset=".3094" stop-color="#a6a6a6"/>
<stop offset=".3547" stop-color="#a6a6a6"/>
<stop offset=".3547" stop-color="#a3a3a3"/>
<stop offset=".412" stop-color="#a3a3a3"/>
<stop offset=".412" stop-color="#ababab"/>
<stop offset=".5281" stop-color="#ababab"/>
<stop offset=".5281" stop-color="#adadad"/>
<stop offset=".5859" stop-color="#adadad"/>
<stop offset=".5859" stop-color="#b8b8b8"/>
<stop offset=".5906" stop-color="#b8b8b8"/>
<stop offset=".5906" stop-color="#dbdbdb"/>
<stop offset=".6047" stop-color="#dbdbdb"/>
<stop offset=".6047" stop-color="#e0e0e0"/>
<stop offset=".6187" stop-color="#e0e0e0"/>
<stop offset=".6188" stop-color="#a8a8a8"/>
<stop offset=".6312" stop-color="#a8a8a8"/>
<stop offset=".6312" stop-color="#a3a3a3"/>
<stop offset=".675" stop-color="#a3a3a3"/>
<stop offset=".675" stop-color="#adadad"/>
<stop offset=".739" stop-color="#adadad"/>
<stop offset=".7391" stop-color="#9e9e9e"/>
<stop offset=".7531" stop-color="#9e9e9e"/>
<stop offset=".7531" stop-color="#b5b5b5"/>
<stop offset=".7656" stop-color="#b5b5b5"/>
<stop offset=".7656" stop-color="#9e9e9e"/>
<stop offset=".8125" stop-color="#9e9e9e"/>
<stop offset=".8125" stop-color="#949494"/>
<stop offset=".8703" stop-color="#949494"/>
<stop offset=".8703" stop-color="#ababab"/>
<stop offset=".9679" stop-color="#ababab"/>
<stop offset=".968" stop-color="#a1a1a1"/>
<stop offset=".9969" stop-color="#a1a1a1"/>
</linearGradient>
<linearGradient id="p2c5" gradientUnits="userSpaceOnUse" x1="0" y1="80" x2="0" y2="720">
<stop offset="0" stop-color="#a3a3a3"/>
<stop offset=".0992" stop-color="#a3a3a3"/>
<stop offset=".0992" stop-color="#a6a6a6"/>
<stop offset=".1322" stop-color="#a6a6a6"/>
<stop offset=".1322" stop-color="#a8a8a8"/>
<stop offset=".1531" stop-color="#b5b5b5"/>
<stop offset=".1875" stop-color="#b5b5b5"/>
<stop offset=".1875" stop-color="#b2b2b2"/>
<stop offset=".2187" stop-color="#b2b2b2"/>
<stop offset=".2188" stop-color="#ababab"/>
<stop offset=".2203" stop-color="#ababab"/>
<stop offset=".2203" stop-color="#b2b2b2"/>
<stop offset=".2297" stop-color="#b2b2b2"/>
<stop offset=".2297" stop-color="#adadad"/>
<stop offset=".2312" stop-color="#adadad"/>
<stop offset=".2313" stop-color="#8a8a8a"/>
<stop offset=".2328" stop-color="#8a8a8a"/>
<stop offset=".2328" stop-color="#8f8f8f"/>
<stop offset=".2343" stop-color="#8f8f8f"/>
<stop offset=".2344" stop-color="#808080"/>
<stop offset=".2437" stop-color="#808080"/>
<stop offset=".2437" stop-color="#8f8f8f"/>
<stop offset=".2515" stop-color="#8f8f8f"/>
<stop offset=".2516" stop-color="#949494"/>
<stop offset=".2562" stop-color="#949494"/>
<stop offset=".2562" stop-color="#969696"/>
<stop offset=".2625" stop-color="#969696"/>
<stop offset=".2625" stop-color="#949494"/>
<stop offset=".2672" stop-color="#949494"/>
<stop offset=".2672" stop-color="#a3a3a3"/>
<stop offset=".3093" stop-color="#a3a3a3"/>
<stop offset=".3094" stop-color="#b0b0b0"/>
<stop offset=".3547" stop-color="#b0b0b0"/>
<stop offset=".3547" stop-color="#a3a3a3"/>
<stop offset=".412" stop-color="#a3a3a3"/>
<stop offset=".412" stop-color="#a1a1a1"/>
<stop offset=".5281" stop-color="#a1a1a1"/>
<stop offset=".5281" stop-color="#a8a8a8"/>
<stop offset=".5859" stop-color="#a8a8a8"/>
<stop offset=".5859" stop-color="#b2b2b2"/>
<stop offset=".5906" stop-color="#b2b2b2"/>
<stop offset=".5906" stop-color="#d9d9d9"/>
<stop offset=".6047" stop-color="#d9d9d9"/>
<stop offset=".6047" stop-color="#dedede"/>
<stop offset=".6187" stop-color="#dedede"/>
<stop offset=".6188" stop-color="#a8a8a8"/>
<stop offset=".6312" stop-color="#a8a8a8"/>
<stop offset=".6312" stop-color="#a6a6a6"/>
<stop offset=".675" stop-color="#a6a6a6"/>
<stop offset=".675" stop-color="#b2b2b2"/>
<stop offset=".7265" stop-color="#b2b2b2"/>
<stop offset=".7266" stop-color="#9e9e9e"/>
<stop offset=".739" stop-color="#9e9e9e"/>
<stop offset=".7391" stop-color="#858585"/>
<stop offset=".7656" stop-color="#858585"/>
<stop offset=".7656" stop-color="#8f8f8f"/>
<stop offset=".7867" stop-color="#8f8f8f"/>
<stop offset=".7867" stop-color="#949494"/>
<stop offset=".8125" stop-color="#949494"/>
<stop offset=".8125" stop-color="#808080"/>
<stop offset=".8703" stop-color="#808080"/>
<stop offset=".8703" stop-color="#9c9c9c"/>
<stop offset=".9679" stop-color="#9c9c9c"/>
<stop offset=".968" stop-color="#9e9e9e"/>
<stop offset=".9969" stop-color="#9e9e9e"/>
</linearGradient>
<linearGradient id="p2c6" gradientUnits="userSpaceOnUse" x1="0" y1="80" x2="0" y2="720">
<stop offset="0" stop-color="#363636"/>
<stop offset=".0525" stop-color="#363636"/>
<stop offset=".0525" stop-color="#3b3b3b"/>
<stop offset=".0645" stop-color="#3b3b3b"/>
<stop offset=".0645" stop-color="#303030"/>
<stop offset=".0992" stop-color="#303030"/>
<stop offset=".0992" stop-color="#2e2e2e"/>
<stop offset=".1322" stop-color="#2e2e2e"/>
<stop offset=".1531" stop-color="#3b3b3b"/>
<stop offset=".1656" stop-color="#3b3b3b"/>
<stop offset=".1656" stop-color="#4c4c4c"/>
<stop offset=".2172" stop-color="#4c4c4c"/>
<stop offset=".2172" stop-color="#3b3b3b"/>
<stop offset=".2187" stop-color="#3b3b3b"/>
<stop offset=".2188" stop-color="#5c5c5c"/>
<stop offset=".2203" stop-color="#5c5c5c"/>
<stop offset=".2203" stop-color="#4c4c4c"/>
<stop offset=".2297" stop-color="#4c4c4c"/>
<stop offset=".2297" stop-color="#575757"/>
<stop offset=".2312" stop-color="#575757"/>
<stop offset=".2313" stop-color="#707070"/>
<stop offset=".2328" stop-color="#707070"/>
<stop offset=".2328" stop-color="#7d7d7d"/>
<stop offset=".2343" stop-color="#7d7d7d"/>
<stop offset=".2344" stop-color="#707070"/>
<stop offset=".2437" stop-color="#707070"/>
<stop offset=".2437" stop-color="#616161"/>
<stop offset=".2515" stop-color="#616161"/>
<stop offset=".2516" stop-color="#666666"/>
<stop offset=".2562" stop-color="#666666"/>
<stop offset=".2562" stop-color="#3b3b3b"/>
<stop offset=".2625" stop-color="#3b3b3b"/>
<stop offset=".2625" stop-color="#616161"/>
<stop offset=".2672" stop-color="#616161"/>
<stop offset=".2672" stop-color="#303030"/>
<stop offset=".3547" stop-color="#303030"/>
<stop offset=".3547" stop-color="#2b2b2b"/>
<stop offset=".5281" stop-color="#2b2b2b"/>
<stop offset=".5281" stop-color="#2e2e2e"/>
<stop offset=".5453" stop-color="#2e2e2e"/>
<stop offset=".5453" stop-color="#303030"/>
<stop offset=".5906" stop-color="#303030"/>
<stop offset=".5906" stop-color="#4c4c4c"/>
<stop offset=".6047" stop-color="#4c4c4c"/>
<stop offset=".6047" stop-color="#525252"/>
<stop offset=".6187" stop-color="#525252"/>
<stop offset=".6188" stop-color="#363636"/>
<stop offset=".675" stop-color="#363636"/>
<stop offset=".675" stop-color="#303030"/>
<stop offset=".6929" stop-color="#303030"/>
<stop offset=".693" stop-color="#2b2b2b"/>
<stop offset=".7867" stop-color="#2b2b2b"/>
<stop offset=".7867" stop-color="#303030"/>
<stop offset=".8703" stop-color="#303030"/>
<stop offset=".8703" stop-color="#2b2b2b"/>
<stop offset=".9687" stop-color="#2b2b2b"/>
<stop offset=".9688" stop-color="#303030"/>
<stop offset=".9703" stop-color="#303030"/>
<stop offset=".9703" stop-color="#363636"/>
<stop offset=".9765" stop-color="#363636"/>
<stop offset=".9766" stop-color="#303030"/>
<stop offset=".9781" stop-color="#303030"/>
<stop offset=".9781" stop-color="#212121"/>
<stop offset=".9797" stop-color="#212121"/>
<stop offset=".9797" stop-color="#303030"/>
<stop offset=".9812" stop-color="#303030"/>
<stop offset=".9812" stop-color="#363636"/>
<stop offset=".9859" stop-color="#363636"/>
<stop offset=".9859" stop-color="#4c4c4c"/>
<stop offset=".989" stop-color="#4c4c4c"/>
<stop offset=".9891" stop-color="#212121"/>
<stop offset=".9906" stop-color="#212121"/>
<stop offset=".9906" stop-color="#4c4c4c"/>
<stop offset=".9922" stop-color="#4c4c4c"/>
<stop offset=".9922" stop-color="#262626"/>
<stop offset=".9953" stop-color="#262626"/>
<stop offset=".9953" stop-color="#575757"/>
<stop offset=".9968" stop-color="#575757"/>
<stop offset=".9969" stop-color="#262626"/>
</linearGradient>
<linearGradient id="p2c7" gradientUnits="userSpaceOnUse" x1="0" y1="80" x2="0" y2="720">
<stop offset="0" stop-color="#545454"/>
<stop offset=".0525" stop-color="#545454"/>
<stop offset=".0525" stop-color="#525252"/>
<stop offset=".0992" stop-color="#525252"/>
<stop offset=".0992" stop-color="#545454"/>
<stop offset=".1322" stop-color="#545454"/>
<stop offset=".1322" stop-color="#555555"/>
<stop offset=".1531" stop-color="#595959"/>
<stop offset=".1656" stop-color="#595959"/>
<stop offset=".1656" stop-color="#5a5a5a"/>
<stop offset=".1875" stop-color="#5a5a5a"/>
<stop offset=".1875" stop-color="#595959"/>
<stop offset=".214" stop-color="#595959"/>
<stop offset=".2141" stop-color="#595959"/>
<stop offset=".2187" stop-color="#595959"/>
<stop offset=".2188" stop-color="#616161"/>
<stop offset=".2203" stop-color="#616161"/>
<stop offset=".2203" stop-color="#595959"/>
<stop offset=".2297" stop-color="#595959"/>
<stop offset=".2297" stop-color="#575757"/>
<stop offset=".2312" stop-color="#575757"/>
<stop offset=".2313" stop-color="#7a7a7a"/>
<stop offset=".2328" stop-color="#7a7a7a"/>
<stop offset=".2328" stop-color="#858585"/>
<stop offset=".2343" stop-color="#858585"/>
<stop offset=".2344" stop-color="#757575"/>
<stop offset=".2437" stop-color="#757575"/>
<stop offset=".2437" stop-color="#666666"/>
<stop offset=".2562" stop-color="#666666"/>
<stop offset=".2562" stop-color="#505050"/>
<stop offset=".2625" stop-color="#505050"/>
<stop offset=".2625" stop-color="#666666"/>
<stop offset=".2672" stop-color="#666666"/>
<stop offset=".2672" stop-color="#525252"/>
<stop offset=".3093" stop-color="#525252"/>
<stop offset=".3094" stop-color="#545454"/>
<stop offset=".3547" stop-color="#545454"/>
<stop offset=".3547" stop-color="#535353"/>
<stop offset=".412" stop-color="#535353"/>
<stop offset=".412" stop-color="#545454"/>
<stop offset=".5281" stop-color="#545454"/>
<stop offset=".5281" stop-color="#555555"/>
<stop offset=".5453" stop-color="#555555"/>
<stop offset=".5453" stop-color="#555555"/>
<stop offset=".5859" stop-color="#555555"/>
<stop offset=".5859" stop-color="#575757"/>
<stop offset=".5906" stop-color="#575757"/>
<stop offset=".5906" stop-color="#575757"/>
<stop offset=".6047" stop-color="#575757"/>
<stop offset=".6047" stop-color="#5c5c5c"/>
<stop offset=".6187" stop-color="#5c5c5c"/>
<stop offset=".6188" stop-color="#545454"/>
<stop offset=".6312" stop-color="#545454"/>
<stop offset=".6312" stop-color="#535353"/>
<stop offset=".675" stop-color="#535353"/>
<stop offset=".675" stop-color="#555555"/>
<stop offset=".6929" stop-color="#555555"/>
<stop offset=".693" stop-color="#565656"/>
<stop offset=".7265" stop-color="#565656"/>
<stop offset=".7266" stop-color="#525252"/>
<stop offset=".739" stop-color="#525252"/>
<stop offset=".7391" stop-color="#505050"/>
<stop offset=".7531" stop-color="#505050"/>
<stop offset=".7531" stop-color="#525252"/>
<stop offset=".7656" stop-color="#525252"/>
<stop offset=".7656" stop-color="#4f4f4f"/>
<stop offset=".7867" stop-color="#4f4f4f"/>
<stop offset=".7867" stop-color="#505050"/>
<stop offset=".8125" stop-color="#505050"/>
<stop offset=".8125" stop-color="#515151"/>
<stop offset=".8359" stop-color="#515151"/>
<stop offset=".8359" stop-color="#4e4e4e"/>
<stop offset=".8703" stop-color="#4e4e4e"/>
<stop offset=".8703" stop-color="#525252"/>
<stop offset=".9218" stop-color="#525252"/>
<stop offset=".9219" stop-color="#545454"/>
<stop offset=".9679" stop-color="#545454"/>
<stop offset=".968" stop-color="#515151"/>
<stop offset=".9969" stop-color="#515151"/>
</linearGradient>
<linearGradient id="p2c8" gradientUnits="userSpaceOnUse" x1="0" y1="80" x2="0" y2="720">
<stop offset="0" stop-color="#383838"/>
<stop offset=".0525" stop-color="#383838"/>
<stop offset=".0525" stop-color="#363636"/>
<stop offset=".0992" stop-color="#363636"/>
<stop offset=".0992" stop-color="#383838"/>
<stop offset=".2562" stop-color="#383838"/>
<stop offset=".2562" stop-color="#343434"/>
<stop offset=".2625" stop-color="#343434"/>
<stop offset=".2625" stop-color="#383838"/>
<stop offset=".2672" stop-color="#383838"/>
<stop offset=".2672" stop-color="#363636"/>
<stop offset=".3093" stop-color="#363636"/>
<stop offset=".3094" stop-color="#383838"/>
<stop offset=".3547" stop-color="#383838"/>
<stop offset=".3547" stop-color="#373737"/>
<stop offset=".412" stop-color="#373737"/>
<stop offset=".412" stop-color="#383838"/>
<stop offset=".6312" stop-color="#383838"/>
<stop offset=".6312" stop-color="#373737"/>
<stop offset=".675" stop-color="#373737"/>
<stop offset=".675" stop-color="#383838"/>
<stop offset=".7265" stop-color="#383838"/>
<stop offset=".7266" stop-color="#363636"/>
<stop offset=".739" stop-color="#363636"/>
<stop offset=".7391" stop-color="#343434"/>
<stop offset=".7531" stop-color="#343434"/>
<stop offset=".7531" stop-color="#363636"/>
<stop offset=".7656" stop-color="#363636"/>
<stop offset=".7656" stop-color="#333333"/>
<stop offset=".7867" stop-color="#333333"/>
<stop offset=".7867" stop-color="#343434"/>
<stop offset=".8125" stop-color="#343434"/>
<stop offset=".8125" stop-color="#353535"/>
<stop offset=".8359" stop-color="#353535"/>
<stop offset=".8359" stop-color="#323232"/>
<stop offset=".8703" stop-color="#323232"/>
<stop offset=".8703" stop-color="#363636"/>
<stop offset=".9218" stop-color="#363636"/>
<stop offset=".9219" stop-color="#383838"/>
<stop offset=".9679" stop-color="#383838"/>
<stop offset=".968" stop-color="#353535"/>
<stop offset=".9969" stop-color="#353535"/>
</linearGradient>
<linearGradient id="p3c0" gradientUnits="userSpaceOnUse" x1="0" y1="80" x2="0" y2="720">
<stop offset="0" stop-color="#343434"/>
<stop offset=".0312" stop-color="#343434"/>
<stop offset=".0312" stop-color="#393939"/>
<stop offset=".0525" stop-color="#393939"/>
<stop offset=".0525" stop-color="#414141"/>
<stop offset=".0645" stop-color="#414141"/>
<stop offset=".0645" stop-color="#313131"/>
<stop offset=".1322" stop-color="#313131"/>
<stop offset=".1322" stop-color="#2f2f2f"/>
<stop offset=".164" stop-color="#2f2f2f"/>
<stop offset=".1641" stop-color="#313131"/>
<stop offset=".214" stop-color="#313131"/>
<stop offset=".2141" stop-color="#393939"/>
<stop offset=".2172" stop-color="#393939"/>
<stop offset=".2172" stop-color="#313131"/>
<stop offset=".2187" stop-color="#313131"/>
<stop offset=".2188" stop-color="#6b6b6b"/>
<stop offset=".2203" stop-color="#6b6b6b"/>
<stop offset=".2203" stop-color="#373737"/>
<stop offset=".2297" stop-color="#373737"/>
<stop offset=".2297" stop-color="#525252"/>
<stop offset=".2312" stop-color="#525252"/>
<stop offset=".2313" stop-color="#757575"/>
<stop offset=".2328" stop-color="#757575"/>
<stop offset=".2328" stop-color="#8a8a8a"/>
<stop offset=".2343" stop-color="#8a8a8a"/>
<stop offset=".2344" stop-color="#7a7a7a"/>
<stop offset=".2437" stop-color="#7a7a7a"/>
<stop offset=".2437" stop-color="#666666"/>
<stop offset=".2515" stop-color="#666666"/>
<stop offset=".2516" stop-color="#6b6b6b"/>
<stop offset=".2562" stop-color="#6b6b6b"/>
<stop offset=".2562" stop-color="#3c3c3c"/>
<stop offset=".2625" stop-color="#3c3c3c"/>
<stop offset=".2625" stop-color="#666666"/>
<stop offset=".2672" stop-color="#666666"/>
<stop offset=".2672" stop-color="#313131"/>
<stop offset=".2703" stop-color="#313131"/>
<stop offset=".2703" stop-color="#2f2f2f"/>
<stop offset=".3093" stop-color="#2f2f2f"/>
<stop offset=".3094" stop-color="#2c2c2c"/>
<stop offset=".412" stop-color="#2c2c2c"/>
<stop offset=".412" stop-color="#2f2f2f"/>
<stop offset=".5453" stop-color="#2f2f2f"/>
<stop offset=".5453" stop-color="#373737"/>
<stop offset=".5859" stop-color="#373737"/>
<stop offset=".5859" stop-color="#313131"/>
<stop offset=".6187" stop-color="#313131"/>
<stop offset=".6188" stop-color="#343434"/>
<stop offset=".6312" stop-color="#343434"/>
<stop offset=".6312" stop-color="#393939"/>
<stop offset=".675" stop-color="#393939"/>
<stop offset=".675" stop-color="#313131"/>
<stop offset=".7867" stop-color="#313131"/>
<stop offset=".7867" stop-color="#373737"/>
<stop offset=".8125" stop-color="#373737"/>
<stop offset=".8125" stop-color="#343434"/>
<stop offset=".9687" stop-color="#343434"/>
<stop offset=".9688" stop-color="#383838"/>
<stop offset=".9703" stop-color="#383838"/>
<stop offset=".9703" stop-color="#3d3d3d"/>
<stop offset=".9765" stop-color="#3d3d3d"/>
<stop offset=".9766" stop-color="#383838"/>
<stop offset=".9781" stop-color="#383838"/>
<stop offset=".9781" stop-color="#292929"/>
<stop offset=".9797" stop-color="#292929"/>
<stop offset=".9797" stop-color="#383838"/>
<stop offset=".9812" stop-color="#383838"/>
<stop offset=".9812" stop-color="#3d3d3d"/>
<stop offset=".9859" stop-color="#3d3d3d"/>
<stop offset=".9859" stop-color="#474747"/>
<stop offset=".989" stop-color="#474747"/>
<stop offset=".9891" stop-color="#292929"/>
<stop offset=".9906" stop-color="#292929"/>
<stop offset=".9906" stop-color="#666666"/>
<stop offset=".9922" stop-color="#666666"/>
<stop offset=".9922" stop-color="#2e2e2e"/>
<stop offset=".9953" stop-color="#2e2e2e"/>
<stop offset=".9953" stop-color="#707070"/>
<stop offset=".9968" stop-color="#707070"/>
<stop offset=".9969" stop-color="#2e2e2e"/>
</linearGradient>
<linearGradient id="p3c1" gradientUnits="userSpaceOnUse" x1="0" y1="80" x2="0" y2="720">
<stop offset="0" stop-color="#3a3a3a"/>
<stop offset=".0312" stop-color="#3a3a3a"/>
<stop offset=".0312" stop-color="#3f3f3f"/>
<stop offset=".0525" stop-color="#3f3f3f"/>
<stop offset=".0525" stop-color="#474747"/>
<stop offset=".0645" stop-color="#474747"/>
<stop offset=".0645" stop-color="#383838"/>
<stop offset=".1322" stop-color="#383838"/>
<stop offset=".1322" stop-color="#383838"/>
<stop offset=".164" stop-color="#383838"/>
<stop offset=".1641" stop-color="#5c5c5c"/>
<stop offset=".1875" stop-color="#5c5c5c"/>
<stop offset=".1875" stop-color="#545454"/>
<stop offset=".214" stop-color="#545454"/>
<stop offset=".2141" stop-color="#4c4c4c"/>
<stop offset=".2172" stop-color="#4c4c4c"/>
<stop offset=".2172" stop-color="#474747"/>
<stop offset=".2187" stop-color="#474747"/>
<stop offset=".2188" stop-color="#6b6b6b"/>
<stop offset=".2203" stop-color="#6b6b6b"/>
<stop offset=".2203" stop-color="#4c4c4c"/>
<stop offset=".2297" stop-color="#4c4c4c"/>
<stop offset=".2297" stop-color="#575757"/>
<stop offset=".2312" stop-color="#575757"/>
<stop offset=".2313" stop-color="#757575"/>
<stop offset=".2328" stop-color="#757575"/>
<stop offset=".2328" stop-color="#878787"/>
<stop offset=".2343" stop-color="#878787"/>
<stop offset=".2344" stop-color="#7a7a7a"/>
<stop offset=".2437" stop-color="#7a7a7a"/>
<stop offset=".2437" stop-color="#666666"/>
<stop offset=".2515" stop-color="#666666"/>
<stop offset=".2516" stop-color="#6b6b6b"/>
<stop offset=".2562" stop-color="#6b6b6b"/>
<stop offset=".2562" stop-color="#424242"/>
<stop offset=".2625" stop-color="#424242"/>
<stop offset=".2625" stop-color="#666666"/>
<stop offset=".2672" stop-color="#666666"/>
<stop offset=".2672" stop-color="#3d3d3d"/>
<stop offset=".2703" stop-color="#3d3d3d"/>
<stop offset=".2703" stop-color="#373737"/>
<stop offset=".3093" stop-color="#373737"/>
<stop offset=".3094" stop-color="#323232"/>
<stop offset=".412" stop-color="#323232"/>
<stop offset=".412" stop-color="#404040"/>
<stop offset=".5281" stop-color="#404040"/>
<stop offset=".5281" stop-color="#3d3d3d"/>
<stop offset=".5453" stop-color="#3d3d3d"/>
<stop offset=".5453" stop-color="#424242"/>
<stop offset=".5859" stop-color="#424242"/>
<stop offset=".5859" stop-color="#3d3d3d"/>
<stop offset=".5906" stop-color="#3d3d3d"/>
<stop offset=".5906" stop-color="#737373"/>
<stop offset=".6047" stop-color="#737373"/>
<stop offset=".6047" stop-color="#878787"/>
<stop offset=".6187" stop-color="#878787"/>
<stop offset=".6188" stop-color="#474747"/>
<stop offset=".675" stop-color="#474747"/>
<stop offset=".675" stop-color="#3d3d3d"/>
<stop offset=".6929" stop-color="#3d3d3d"/>
<stop offset=".693" stop-color="#383838"/>
<stop offset=".7867" stop-color="#383838"/>
<stop offset=".7867" stop-color="#3d3d3d"/>
<stop offset=".8125" stop-color="#3d3d3d"/>
<stop offset=".8125" stop-color="#3a3a3a"/>
<stop offset=".9687" stop-color="#3a3a3a"/>
<stop offset=".9688" stop-color="#383838"/>
<stop offset=".9703" stop-color="#383838"/>
<stop offset=".9703" stop-color="#3d3d3d"/>
<stop offset=".9765" stop-color="#3d3d3d"/>
<stop offset=".9766" stop-color="#383838"/>
<stop offset=".9781" stop-color="#383838"/>
<stop offset=".9781" stop-color="#292929"/>
<stop offset=".9797" stop-color="#292929"/>
<stop offset=".9797" stop-color="#383838"/>
<stop offset=".9812" stop-color="#383838"/>
<stop offset=".9812" stop-color="#3d3d3d"/>
<stop offset=".9859" stop-color="#3d3d3d"/>
<stop offset=".9859" stop-color="#474747"/>
<stop offset=".989" stop-color="#474747"/>
<stop offset=".9891" stop-color="#292929"/>
<stop offset=".9906" stop-color="#292929"/>
<stop offset=".9906" stop-color="#666666"/>
<stop offset=".9922" stop-color="#666666"/>
<stop offset=".9922" stop-color="#2e2e2e"/>
<stop offset=".9953" stop-color="#2e2e2e"/>
<stop offset=".9953" stop-color="#707070"/>
<stop offset=".9968" stop-color="#707070"/>
<stop offset=".9969" stop-color="#2e2e2e"/>
</linearGradient>
<linearGradient id="p3c2" gradientUnits="userSpaceOnUse" x1="0" y1="80" x2="0" y2="720">
<stop offset="0" stop-color="#adadad"/>
<stop offset=".0525" stop-color="#adadad"/>
<stop offset=".0525" stop-color="#a6a6a6"/>
<stop offset=".0992" stop-color="#a6a6a6"/>
<stop offset=".0992" stop-color="#adadad"/>
<stop offset=".164" stop-color="#adadad"/>
<stop offset=".1641" stop-color="#c4c4c4"/>
<stop offset=".214" stop-color="#c4c4c4"/>
<stop offset=".2141" stop-color="#bfbfbf"/>
<stop offset=".2187" stop-color="#bfbfbf"/>
<stop offset=".2188" stop-color="#b8b8b8"/>
<stop offset=".2203" stop-color="#b8b8b8"/>
<stop offset=".2203" stop-color="#bfbfbf"/>
<stop offset=".2297" stop-color="#bfbfbf"/>
<stop offset=".2297" stop-color="#bababa"/>
<stop offset=".2312" stop-color="#bababa"/>
<stop offset=".2313" stop-color="#8f8f8f"/>
<stop offset=".2328" stop-color="#8f8f8f"/>
<stop offset=".2328" stop-color="#949494"/>
<stop offset=".2343" stop-color="#949494"/>
<stop offset=".2344" stop-color="#858585"/>
<stop offset=".2437" stop-color="#858585"/>
<stop offset=".2437" stop-color="#999999"/>
<stop offset=".2515" stop-color="#999999"/>
<stop offset=".2516" stop-color="#9e9e9e"/>
<stop offset=".2562" stop-color="#9e9e9e"/>
<stop offset=".2562" stop-color="#a1a1a1"/>
<stop offset=".2625" stop-color="#a1a1a1"/>
<stop offset=".2625" stop-color="#9e9e9e"/>
<stop offset=".2672" stop-color="#9e9e9e"/>
<stop offset=".2672" stop-color="#adadad"/>
<stop offset=".412" stop-color="#adadad"/>
<stop offset=".412" stop-color="#b2b2b2"/>
<stop offset=".5281" stop-color="#b2b2b2"/>
<stop offset=".5281" stop-color="#b8b8b8"/>
<stop offset=".5453" stop-color="#b8b8b8"/>
<stop offset=".5453" stop-color="#bababa"/>
<stop offset=".5859" stop-color="#bababa"/>
<stop offset=".5859" stop-color="#bdbdbd"/>
<stop offset=".5906" stop-color="#bdbdbd"/>
<stop offset=".5906" stop-color="#d6d6d6"/>
<stop offset=".6047" stop-color="#d6d6d6"/>
<stop offset=".6047" stop-color="#f0f0f0"/>
<stop offset=".6187" stop-color="#f0f0f0"/>
<stop offset=".6188" stop-color="#b2b2b2"/>
<stop offset=".675" stop-color="#b2b2b2"/>
<stop offset=".675" stop-color="#b0b0b0"/>
<stop offset=".6929" stop-color="#b0b0b0"/>
<stop offset=".693" stop-color="#b5b5b5"/>
<stop offset=".7187" stop-color="#b5b5b5"/>
<stop offset=".7188" stop-color="#9c9c9c"/>
<stop offset=".7531" stop-color="#9c9c9c"/>
<stop offset=".7531" stop-color="#b0b0b0"/>
<stop offset=".7656" stop-color="#b0b0b0"/>
<stop offset=".7656" stop-color="#9c9c9c"/>
<stop offset=".7867" stop-color="#9c9c9c"/>
<stop offset=".7867" stop-color="#9e9e9e"/>
<stop offset=".8125" stop-color="#9e9e9e"/>
<stop offset=".8125" stop-color="#b2b2b2"/>
<stop offset=".8359" stop-color="#b2b2b2"/>
<stop offset=".8359" stop-color="#9c9c9c"/>
<stop offset=".8703" stop-color="#9c9c9c"/>
<stop offset=".8703" stop-color="#a1a1a1"/>
<stop offset=".9297" stop-color="#a1a1a1"/>
<stop offset=".9297" stop-color="#b0b0b0"/>
<stop offset=".9679" stop-color="#b0b0b0"/>
<stop offset=".968" stop-color="#9e9e9e"/>
<stop offset=".9969" stop-color="#9e9e9e"/>
</linearGradient>
<linearGradient id="p3c3" gradientUnits="userSpaceOnUse" x1="0" y1="80" x2="0" y2="720">
<stop offset="0" stop-color="#bababa"/>
<stop offset=".0525" stop-color="#bababa"/>
<stop offset=".0525" stop-color="#ababab"/>
<stop offset=".0992" stop-color="#ababab"/>
<stop offset=".0992" stop-color="#adadad"/>
<stop offset=".1322" stop-color="#adadad"/>
<stop offset=".1322" stop-color="#b2b2b2"/>
<stop offset=".164" stop-color="#b2b2b2"/>
<stop offset=".1641" stop-color="#bdbdbd"/>
<stop offset=".1875" stop-color="#bdbdbd"/>
<stop offset=".1875" stop-color="#bfbfbf"/>
<stop offset=".214" stop-color="#bfbfbf"/>
<stop offset=".2141" stop-color="#bdbdbd"/>
<stop offset=".2187" stop-color="#bdbdbd"/>
<stop offset=".2188" stop-color="#b5b5b5"/>
<stop offset=".2203" stop-color="#b5b5b5"/>
<stop offset=".2203" stop-color="#bdbdbd"/>
<stop offset=".2297" stop-color="#bdbdbd"/>
<stop offset=".2297" stop-color="#b8b8b8"/>
<stop offset=".2312" stop-color="#b8b8b8"/>
<stop offset=".2313" stop-color="#8f8f8f"/>
<stop offset=".2328" stop-color="#8f8f8f"/>
<stop offset=".2328" stop-color="#949494"/>
<stop offset=".2343" stop-color="#949494"/>
<stop offset=".2344" stop-color="#858585"/>
<stop offset=".2437" stop-color="#858585"/>
<stop offset=".2437" stop-color="#999999"/>
<stop offset=".2515" stop-color="#999999"/>
<stop offset=".2516" stop-color="#9e9e9e"/>
<stop offset=".2562" stop-color="#9e9e9e"/>
<stop offset=".2562" stop-color="#a1a1a1"/>
<stop offset=".2625" stop-color="#a1a1a1"/>
<stop offset=".2625" stop-color="#9e9e9e"/>
<stop offset=".2672" stop-color="#9e9e9e"/>
<stop offset=".2672" stop-color="#b2b2b2"/>
<stop offset=".3093" stop-color="#b2b2b2"/>
<stop offset=".3094" stop-color="#b5b5b5"/>
<stop offset=".3547" stop-color="#b5b5b5"/>
<stop offset=".3547" stop-color="#b2b2b2"/>
<stop offset=".412" stop-color="#b2b2b2"/>
<stop offset=".412" stop-color="#bababa"/>
<stop offset=".5453" stop-color="#bababa"/>
<stop offset=".5453" stop-color="#bdbdbd"/>
<stop offset=".5906" stop-color="#bdbdbd"/>
<stop offset=".5906" stop-color="#dedede"/>
<stop offset=".6047" stop-color="#dedede"/>
<stop offset=".6047" stop-color="#f2f2f2"/>
<stop offset=".6187" stop-color="#f2f2f2"/>
<stop offset=".6188" stop-color="#b2b2b2"/>
<stop offset=".6929" stop-color="#b2b2b2"/>
<stop offset=".693" stop-color="#bababa"/>
<stop offset=".7187" stop-color="#bababa"/>
<stop offset=".7188" stop-color="#adadad"/>
<stop offset=".739" stop-color="#adadad"/>
<stop offset=".7391" stop-color="#b8b8b8"/>
<stop offset=".7656" stop-color="#b8b8b8"/>
<stop offset=".7656" stop-color="#a1a1a1"/>
<stop offset=".7867" stop-color="#a1a1a1"/>
<stop offset=".7867" stop-color="#a3a3a3"/>
<stop offset=".8125" stop-color="#a3a3a3"/>
<stop offset=".8125" stop-color="#b8b8b8"/>
<stop offset=".8359" stop-color="#b8b8b8"/>
<stop offset=".8359" stop-color="#a3a3a3"/>
<stop offset=".9297" stop-color="#a3a3a3"/>
<stop offset=".9297" stop-color="#b8b8b8"/>
<stop offset=".9679" stop-color="#b8b8b8"/>
<stop offset=".968" stop-color="#a1a1a1"/>
<stop offset=".9969" stop-color="#a1a1a1"/>
</linearGradient>
<linearGradient id="p3c4" gradientUnits="userSpaceOnUse" x1="0" y1="80" x2="0" y2="720">
<stop offset="0" stop-color="#a3a3a3"/>
<stop offset=".0525" stop-color="#a3a3a3"/>
<stop offset=".0525" stop-color="#a1a1a1"/>
<stop offset=".0992" stop-color="#a1a1a1"/>
<stop offset=".0992" stop-color="#b0b0b0"/>
<stop offset=".164" stop-color="#b0b0b0"/>
<stop offset=".1641" stop-color="#b5b5b5"/>
<stop offset=".214" stop-color="#b5b5b5"/>
<stop offset=".2141" stop-color="#b2b2b2"/>
<stop offset=".2187" stop-color="#b2b2b2"/>
<stop offset=".2188" stop-color="#ababab"/>
<stop offset=".2203" stop-color="#ababab"/>
<stop offset=".2203" stop-color="#b2b2b2"/>
<stop offset=".2297" stop-color="#b2b2b2"/>
<stop offset=".2297" stop-color="#adadad"/>
<stop offset=".2312" stop-color="#adadad"/>
<stop offset=".2313" stop-color="#8a8a8a"/>
<stop offset=".2328" stop-color="#8a8a8a"/>
<stop offset=".2328" stop-color="#8f8f8f"/>
<stop offset=".2343" stop-color="#8f8f8f"/>
<stop offset=".2344" stop-color="#808080"/>
<stop offset=".2437" stop-color="#808080"/>
<stop offset=".2437" stop-color="#8f8f8f"/>
<stop offset=".2515" stop-color="#8f8f8f"/>
<stop offset=".2516" stop-color="#949494"/>
<stop offset=".2562" stop-color="#949494"/>
<stop offset=".2562" stop-color="#969696"/>
<stop offset=".2625" stop-color="#969696"/>
<stop offset=".2625" stop-color="#949494"/>
<stop offset=".2672" stop-color="#949494"/>
<stop offset=".2672" stop-color="#a3a3a3"/>
<stop offset=".3093" stop-color="#a3a3a3"/>
<stop offset=".3094" stop-color="#a6a6a6"/>
<stop offset=".3547" stop-color="#a6a6a6"/>
<stop offset=".3547" stop-color="#a3a3a3"/>
<stop offset=".412" stop-color="#a3a3a3"/>
<stop offset=".412" stop-color="#a8a8a8"/>
<stop offset=".5281" stop-color="#a8a8a8"/>
<stop offset=".5281" stop-color="#b0b0b0"/>
<stop offset=".5453" stop-color="#b0b0b0"/>
<stop offset=".5453" stop-color="#b2b2b2"/>
<stop offset=".5859" stop-color="#b2b2b2"/>
<stop offset=".5859" stop-color="#b8b8b8"/>
<stop offset=".5906" stop-color="#b8b8b8"/>
<stop offset=".5906" stop-color="#d9d9d9"/>
<stop offset=".6047" stop-color="#d9d9d9"/>
<stop offset=".6047" stop-color="#dedede"/>
<stop offset=".6187" stop-color="#dedede"/>
<stop offset=".6188" stop-color="#a8a8a8"/>
<stop offset=".6312" stop-color="#a8a8a8"/>
<stop offset=".6312" stop-color="#a6a6a6"/>
<stop offset=".675" stop-color="#a6a6a6"/>
<stop offset=".675" stop-color="#adadad"/>
<stop offset=".7187" stop-color="#adadad"/>
<stop offset=".7188" stop-color="#9c9c9c"/>
<stop offset=".7867" stop-color="#9c9c9c"/>
<stop offset=".7867" stop-color="#9e9e9e"/>
<stop offset=".8125" stop-color="#9e9e9e"/>
<stop offset=".8125" stop-color="#999999"/>
<stop offset=".8703" stop-color="#999999"/>
<stop offset=".8703" stop-color="#a3a3a3"/>
<stop offset=".9679" stop-color="#a3a3a3"/>
<stop offset=".968" stop-color="#a1a1a1"/>
<stop offset=".9969" stop-color="#a1a1a1"/>
</linearGradient>
<linearGradient id="p3c5" gradientUnits="userSpaceOnUse" x1="0" y1="80" x2="0" y2="720">
<stop offset="0" stop-color="#969696"/>
<stop offset=".0525" stop-color="#969696"/>
<stop offset=".0525" stop-color="#9c9c9c"/>
<stop offset=".0992" stop-color="#9c9c9c"/>
<stop offset=".0992" stop-color="#a1a1a1"/>
<stop offset=".1322" stop-color="#a1a1a1"/>
<stop offset=".1322" stop-color="#a3a3a3"/>
<stop offset=".164" stop-color="#a3a3a3"/>
<stop offset=".1641" stop-color="#adadad"/>
<stop offset=".1875" stop-color="#adadad"/>
<stop offset=".1875" stop-color="#b0b0b0"/>
<stop offset=".2187" stop-color="#b0b0b0"/>
<stop offset=".2188" stop-color="#a8a8a8"/>
<stop offset=".2203" stop-color="#a8a8a8"/>
<stop offset=".2203" stop-color="#b0b0b0"/>
<stop offset=".2297" stop-color="#b0b0b0"/>
<stop offset=".2297" stop-color="#ababab"/>
<stop offset=".2312" stop-color="#ababab"/>
<stop offset=".2313" stop-color="#8a8a8a"/>
<stop offset=".2328" stop-color="#8a8a8a"/>
<stop offset=".2328" stop-color="#8f8f8f"/>
<stop offset=".2343" stop-color="#8f8f8f"/>
<stop offset=".2344" stop-color="#808080"/>
<stop offset=".2437" stop-color="#808080"/>
<stop offset=".2437" stop-color="#8f8f8f"/>
<stop offset=".2515" stop-color="#8f8f8f"/>
<stop offset=".2516" stop-color="#949494"/>
<stop offset=".2562" stop-color="#949494"/>
<stop offset=".2562" stop-color="#969696"/>
<stop offset=".2625" stop-color="#969696"/>
<stop offset=".2625" stop-color="#949494"/>
<stop offset=".2672" stop-color="#949494"/>
<stop offset=".2672" stop-color="#999999"/>
<stop offset=".3093" stop-color="#999999"/>
<stop offset=".3094" stop-color="#adadad"/>
<stop offset=".3547" stop-color="#adadad"/>
<stop offset=".3547" stop-color="#a1a1a1"/>
<stop offset=".412" stop-color="#a1a1a1"/>
<stop offset=".412" stop-color="#9e9e9e"/>
<stop offset=".5281" stop-color="#9e9e9e"/>
<stop offset=".5281" stop-color="#adadad"/>
<stop offset=".5453" stop-color="#adadad"/>
<stop offset=".5453" stop-color="#b0b0b0"/>
<stop offset=".5859" stop-color="#b0b0b0"/>
<stop offset=".5859" stop-color="#b2b2b2"/>
<stop offset=".5906" stop-color="#b2b2b2"/>
<stop offset=".5906" stop-color="#d4d4d4"/>
<stop offset=".6047" stop-color="#d4d4d4"/>
<stop offset=".6047" stop-color="#d9d9d9"/>
<stop offset=".6187" stop-color="#d9d9d9"/>
<stop offset=".6188" stop-color="#a8a8a8"/>
<stop offset=".6312" stop-color="#a8a8a8"/>
<stop offset=".6312" stop-color="#a3a3a3"/>
<stop offset=".675" stop-color="#a3a3a3"/>
<stop offset=".675" stop-color="#adadad"/>
<stop offset=".6929" stop-color="#adadad"/>
<stop offset=".693" stop-color="#a8a8a8"/>
<stop offset=".7187" stop-color="#a8a8a8"/>
<stop offset=".7188" stop-color="#9e9e9e"/>
<stop offset=".739" stop-color="#9e9e9e"/>
<stop offset=".7391" stop-color="#949494"/>
<stop offset=".7531" stop-color="#949494"/>
<stop offset=".7531" stop-color="#8a8a8a"/>
<stop offset=".7867" stop-color="#8a8a8a"/>
<stop offset=".7867" stop-color="#949494"/>
<stop offset=".8125" stop-color="#949494"/>
<stop offset=".8125" stop-color="#8a8a8a"/>
<stop offset=".8703" stop-color="#8a8a8a"/>
<stop offset=".8703" stop-color="#999999"/>
<stop offset=".9679" stop-color="#999999"/>
<stop offset=".968" stop-color="#9c9c9c"/>
<stop offset=".9969" stop-color="#9c9c9c"/>
</linearGradient>
<linearGradient id="p3c6" gradientUnits="userSpaceOnUse" x1="0" y1="80" x2="0" y2="720">
<stop offset="0" stop-color="#363636"/>
<stop offset=".0525" stop-color="#363636"/>
<stop offset=".0525" stop-color="#3b3b3b"/>
<stop offset=".0645" stop-color="#3b3b3b"/>
<stop offset=".0645" stop-color="#303030"/>
<stop offset=".0992" stop-color="#303030"/>
<stop offset=".0992" stop-color="#2e2e2e"/>
<stop offset=".164" stop-color="#2e2e2e"/>
<stop offset=".1641" stop-color="#3b3b3b"/>
<stop offset=".214" stop-color="#3b3b3b"/>
<stop offset=".2141" stop-color="#4c4c4c"/>
<stop offset=".2172" stop-color="#4c4c4c"/>
<stop offset=".2172" stop-color="#3b3b3b"/>
<stop offset=".2187" stop-color="#3b3b3b"/>
<stop offset=".2188" stop-color="#5c5c5c"/>
<stop offset=".2203" stop-color="#5c5c5c"/>
<stop offset=".2203" stop-color="#4c4c4c"/>
<stop offset=".2297" stop-color="#4c4c4c"/>
<stop offset=".2297" stop-color="#575757"/>
<stop offset=".2312" stop-color="#575757"/>
<stop offset=".2313" stop-color="#707070"/>
<stop offset=".2328" stop-color="#707070"/>
<stop offset=".2328" stop-color="#7d7d7d"/>
<stop offset=".2343" stop-color="#7d7d7d"/>
<stop offset=".2344" stop-color="#707070"/>
<stop offset=".2437" stop-color="#707070"/>
<stop offset=".2437" stop-color="#616161"/>
<stop offset=".2515" stop-color="#616161"/>
<stop offset=".2516" stop-color="#666666"/>
<stop offset=".2562" stop-color="#666666"/>
<stop offset=".2562" stop-color="#3b3b3b"/>
<stop offset=".2625" stop-color="#3b3b3b"/>
<stop offset=".2625" stop-color="#616161"/>
<stop offset=".2672" stop-color="#616161"/>
<stop offset=".2672" stop-color="#303030"/>
<stop offset=".3547" stop-color="#303030"/>
<stop offset=".3547" stop-color="#2b2b2b"/>
<stop offset=".5281" stop-color="#2b2b2b"/>
<stop offset=".5281" stop-color="#2e2e2e"/>
<stop offset=".5453" stop-color="#2e2e2e"/>
<stop offset=".5453" stop-color="#303030"/>
<stop offset=".5906" stop-color="#303030"/>
<stop offset=".5906" stop-color="#4c4c4c"/>
<stop offset=".6047" stop-color="#4c4c4c"/>
<stop offset=".6047" stop-color="#525252"/>
<stop offset=".6187" stop-color="#525252"/>
<stop offset=".6188" stop-color="#363636"/>
<stop offset=".675" stop-color="#363636"/>
<stop offset=".675" stop-color="#303030"/>
<stop offset=".6929" stop-color="#303030"/>
<stop offset=".693" stop-color="#2b2b2b"/>
<stop offset=".7867" stop-color="#2b2b2b"/>
<stop offset=".7867" stop-color="#303030"/>
<stop offset=".8703" stop-color="#303030"/>
<stop offset=".8703" stop-color="#2b2b2b"/>
<stop offset=".9687" stop-color="#2b2b2b"/>
<stop offset=".9688" stop-color="#303030"/>
<stop offset=".9703" stop-color="#303030"/>
<stop offset=".9703" stop-color="#363636"/>
<stop offset=".9765" stop-color="#363636"/>
<stop offset=".9766" stop-color="#303030"/>
<stop offset=".9781" stop-color="#303030"/>
<stop offset=".9781" stop-color="#212121"/>
<stop offset=".9797" stop-color="#212121"/>
<stop offset=".9797" stop-color="#303030"/>
<stop offset=".9812" stop-color="#303030"/>
<stop offset=".9812" stop-color="#363636"/>
<stop offset=".9859" stop-color="#363636"/>
<stop offset=".9859" stop-color="#4c4c4c"/>
<stop offset=".989" stop-color="#4c4c4c"/>
<stop offset=".9891" stop-color="#212121"/>
<stop offset=".9906" stop-color="#212121"/>
<stop offset=".9906" stop-color="#4c4c4c"/>
<stop offset=".9922" stop-color="#4c4c4c"/>
<stop offset=".9922" stop-color="#262626"/>
<stop offset=".9953" stop-color="#262626"/>
<stop offset=".9953" stop-color="#575757"/>
<stop offset=".9968" stop-color="#575757"/>
<stop offset=".9969" stop-color="#262626"/>
</linearGradient>
<linearGradient id="p3c7" gradientUnits="userSpaceOnUse" x1="0" y1="80" x2="0" y2="720">
<stop offset="0" stop-color="#535353"/>
<stop offset=".0525" stop-color="#535353"/>
<stop offset=".0525" stop-color="#525252"/>
<stop offset=".0992" stop-color="#525252"/>
<stop offset=".0992" stop-color="#545454"/>
<stop offset=".1322" stop-color="#545454"/>
<stop offset=".1322" stop-color="#545454"/>
<stop offset=".164" stop-color="#545454"/>
<stop offset=".1641" stop-color="#575757"/>
<stop offset=".1875" stop-color="#575757"/>
<stop offset=".1875" stop-color="#575757"/>
<stop offset=".214" stop-color="#575757"/>
<stop offset=".2141" stop-color="#575757"/>
<stop offset=".2187" stop-color="#575757"/>
<stop offset=".2188" stop-color="#616161"/>
<stop offset=".2203" stop-color="#616161"/>
<stop offset=".2203" stop-color="#575757"/>
<stop offset=".2312" stop-color="#575757"/>
<stop offset=".2313" stop-color="#7a7a7a"/>
<stop offset=".2328" stop-color="#7a7a7a"/>
<stop offset=".2328" stop-color="#858585"/>
<stop offset=".2343" stop-color="#858585"/>
<stop offset=".2344" stop-color="#757575"/>
<stop offset=".2437" stop-color="#757575"/>
<stop offset=".2437" stop-color="#666666"/>
<stop offset=".2562" stop-color="#666666"/>
<stop offset=".2562" stop-color="#505050"/>
<stop offset=".2625" stop-color="#505050"/>
<stop offset=".2625" stop-color="#666666"/>
<stop offset=".2672" stop-color="#666666"/>
<stop offset=".2672" stop-color="#535353"/>
<stop offset=".3093" stop-color="#535353"/>
<stop offset=".3094" stop-color="#545454"/>
<stop offset=".3547" stop-color="#545454"/>
<stop offset=".3547" stop-color="#535353"/>
<stop offset=".412" stop-color="#535353"/>
<stop offset=".412" stop-color="#545454"/>
<stop offset=".5281" stop-color="#545454"/>
<stop offset=".5281" stop-color="#565656"/>
<stop offset=".5453" stop-color="#565656"/>
<stop offset=".5453" stop-color="#565656"/>
<stop offset=".5859" stop-color="#565656"/>
<stop offset=".5859" stop-color="#575757"/>
<stop offset=".5906" stop-color="#575757"/>
<stop offset=".5906" stop-color="#575757"/>
<stop offset=".6047" stop-color="#575757"/>
<stop offset=".6047" stop-color="#5c5c5c"/>
<stop offset=".6187" stop-color="#5c5c5c"/>
<stop offset=".6188" stop-color="#545454"/>
<stop offset=".6312" stop-color="#545454"/>
<stop offset=".6312" stop-color="#545454"/>
<stop offset=".675" stop-color="#545454"/>
<stop offset=".675" stop-color="#555555"/>
<stop offset=".6929" stop-color="#555555"/>
<stop offset=".693" stop-color="#555555"/>
<stop offset=".7187" stop-color="#555555"/>
<stop offset=".7188" stop-color="#515151"/>
<stop offset=".7531" stop-color="#515151"/>
<stop offset=".7531" stop-color="#525252"/>
<stop offset=".7656" stop-color="#525252"/>
<stop offset=".7656" stop-color="#4f4f4f"/>
<stop offset=".7867" stop-color="#4f4f4f"/>
<stop offset=".7867" stop-color="#505050"/>
<stop offset=".8125" stop-color="#505050"/>
<stop offset=".8125" stop-color="#525252"/>
<stop offset=".8359" stop-color="#525252"/>
<stop offset=".8359" stop-color="#4f4f4f"/>
<stop offset=".8703" stop-color="#4f4f4f"/>
<stop offset=".8703" stop-color="#515151"/>
<stop offset=".9297" stop-color="#515151"/>
<stop offset=".9297" stop-color="#535353"/>
<stop offset=".9679" stop-color="#535353"/>
<stop offset=".968" stop-color="#505050"/>
<stop offset=".9969" stop-color="#505050"/>
</linearGradient>
<linearGradient id="p3c8" gradientUnits="userSpaceOnUse" x1="0" y1="80" x2="0" y2="720">
<stop offset="0" stop-color="#373737"/>
<stop offset=".0525" stop-color="#373737"/>
<stop offset=".0525" stop-color="#363636"/>
<stop offset=".0992" stop-color="#363636"/>
<stop offset=".0992" stop-color="#373737"/>
<stop offset=".1322" stop-color="#373737"/>
<stop offset=".1322" stop-color="#383838"/>
<stop offset=".164" stop-color="#383838"/>
<stop offset=".1641" stop-color="#383838"/>
<stop offset=".2562" stop-color="#383838"/>
<stop offset=".2562" stop-color="#343434"/>
<stop offset=".2625" stop-color="#343434"/>
<stop offset=".2625" stop-color="#383838"/>
<stop offset=".2672" stop-color="#383838"/>
<stop offset=".2672" stop-color="#373737"/>
<stop offset=".3093" stop-color="#373737"/>
<stop offset=".3094" stop-color="#383838"/>
<stop offset=".3547" stop-color="#383838"/>
<stop offset=".3547" stop-color="#373737"/>
<stop offset=".412" stop-color="#373737"/>
<stop offset=".412" stop-color="#383838"/>
<stop offset=".5281" stop-color="#383838"/>
<stop offset=".5281" stop-color="#383838"/>
<stop offset=".6312" stop-color="#383838"/>
<stop offset=".6312" stop-color="#383838"/>
<stop offset=".675" stop-color="#383838"/>
<stop offset=".675" stop-color="#383838"/>
<stop offset=".7187" stop-color="#383838"/>
<stop offset=".7188" stop-color="#353535"/>
<stop offset=".7531" stop-color="#353535"/>
<stop offset=".7531" stop-color="#363636"/>
<stop offset=".7656" stop-color="#363636"/>
<stop offset=".7656" stop-color="#333333"/>
<stop offset=".7867" stop-color="#333333"/>
<stop offset=".7867" stop-color="#343434"/>
<stop offset=".8125" stop-color="#343434"/>
<stop offset=".8125" stop-color="#363636"/>
<stop offset=".8359" stop-color="#363636"/>
<stop offset=".8359" stop-color="#333333"/>
<stop offset=".8703" stop-color="#333333"/>
<stop offset=".8703" stop-color="#353535"/>
<stop offset=".9297" stop-color="#353535"/>
<stop offset=".9297" stop-color="#373737"/>
<stop offset=".9679" stop-color="#373737"/>
<stop offset=".968" stop-color="#343434"/>
<stop offset=".9969" stop-color="#343434"/>
</linearGradient>
</defs>
<g filter="url(#jet0)">
<rect x="131" y="80" width="178" height="641" fill="url(#p0c0)"/>
<rect x="224.25" y="80" width="18.75" height="641" fill="url(#p0c1)" opacity=".2"/>
<rect x="227.25" y="80" width="15.75" height="641" fill="url(#p0c1)" opacity=".3"/>
<rect x="230.25" y="80" width="12.75" height="641" fill="url(#p0c1)" opacity=".4"/>
<rect x="233.25" y="80" width="9.75" height="641" fill="url(#p0c1)" opacity=".45"/>
<rect x="236.25" y="80" width="6.75" height="641" fill="url(#p0c1)" opacity=".55"/>
<rect x="239.25" y="80" width="3.75" height="641" fill="url(#p0c1)" opacity=".5"/>
<rect x="243" y="80" width="1" height="641" fill="url(#p0c2)" opacity=".5"/>
<rect x="255" y="80" width="1" height="641" fill="url(#p0c7)"/>
<rect x="256" y="80" width="1" height="641" fill="url(#p0c8)"/>
<rect x="269" y="80" width="1" height="641" fill="url(#p0c7)"/>
<rect x="270" y="80" width="1" height="641" fill="url(#p0c8)"/>
<rect x="283" y="80" width="1" height="641" fill="url(#p0c7)"/>
<rect x="284" y="80" width="1" height="641" fill="url(#p0c8)"/>
<rect x="297" y="80" width="12" height="641" fill="url(#p0c6)"/>
<rect x="297" y="80" width="1" height="641" fill="url(#p0c5)" opacity=".4"/>
<rect x="229" y="80" width="14" height="640" fill="url(#st3)" opacity=".25"/>
</g>
<g filter="url(#jb0)">
<rect x="244" y="80" width="11" height="641" fill="url(#p0c2)"/>
<rect x="257" y="80" width="12" height="641" fill="url(#p0c3)"/>
<rect x="271" y="80" width="12" height="641" fill="url(#p0c4)"/>
<rect x="285" y="80" width="12" height="641" fill="url(#p0c5)"/>
<rect x="244" y="80" width="11" height="640" fill="url(#st1)"/>
<rect x="258" y="80" width="11" height="640" fill="url(#st2)"/>
<rect x="272" y="80" width="11" height="640" fill="url(#st3)"/>
<rect x="286" y="80" width="11" height="640" fill="url(#st4)"/>
</g>
<g filter="url(#jet0)">
<polygon points="153.75,229.5 183.75,228 213.75,229.5 213.75,232.5 183.75,234.5 153.75,232.5" fill="#8f8f8f"/>
<polygon points="181.55,233 183.75,213.5 185.95,233 183.75,257.5" fill="#7a7a7a"/>
<polygon points="182.25,233 183.75,218 185.25,233 183.75,253" fill="#b8b8b8"/>
<polygon points="171.75,232.4 183.75,230.8 195.75,232.4 195.75,233.6 183.75,234.8 171.75,233.6" fill="#adadad"/>
<polygon points="177.25,233 183.75,229.6 190.25,233 183.75,235.6" fill="#ebebeb"/>
<polygon points="182.15,233 183.75,224.5 185.35,233 183.75,244" fill="#fafafa"/>
<rect x="179.25" y="229.6" width="9" height=".8" fill="#dbdbdb"/>
<rect x="181.95" y="241" width="3.6" height="1.9" fill="#ebebeb"/>
<rect x="182.25" y="237.5" width="3" height="2.3" fill="#e0e0e0"/>
<polygon points="176.75,248.9 183.75,248 190.75,248.9 183.75,249.8" fill="#b8b8b8"/>
<rect x="182.75" y="247.9" width="2" height="1.9" fill="#e0e0e0"/>
<rect x="143.3" y="228.6" width="1.7" height="7.4" fill="#fafafa"/>
<polygon points="139.65,233 144.15,232.2 148.65,233 144.15,233.8" fill="#f2f2f2"/>
<rect x="143.55" y="237.5" width="1.2" height="2.3" fill="#d6d6d6"/>
<rect x="143.55" y="241.5" width="1.2" height="1.1" fill="#d6d6d6"/>
<rect x="222.5" y="228.6" width="1.7" height="7.4" fill="#fafafa"/>
<polygon points="218.85,233 223.35,232.2 227.85,233 223.35,233.8" fill="#f2f2f2"/>
<rect x="222.75" y="237.5" width="1.2" height="2.3" fill="#d6d6d6"/>
<rect x="222.75" y="241.5" width="1.2" height="1.1" fill="#d6d6d6"/>
<rect x="248.7" y="228.6" width="1.7" height="7.4" fill="#fafafa"/>
<polygon points="245.05,233 249.55,232.2 254.05,233 249.55,233.8" fill="#f2f2f2"/>
<rect x="248.95" y="237.5" width="1.2" height="2.3" fill="#d6d6d6"/>
<rect x="248.95" y="241.5" width="1.2" height="1.1" fill="#d6d6d6"/>
<rect x="262.5" y="228.6" width="1.7" height="7.4" fill="#fafafa"/>
<polygon points="258.85,233 263.35,232.2 267.85,233 263.35,233.8" fill="#f2f2f2"/>
<rect x="262.75" y="237.5" width="1.2" height="2.3" fill="#d6d6d6"/>
<rect x="262.75" y="241.5" width="1.2" height="1.1" fill="#d6d6d6"/>
<rect x="288.2" y="228.6" width="1.7" height="7.4" fill="#fafafa"/>
<polygon points="284.55,233 289.05,232.2 293.55,233 289.05,233.8" fill="#f2f2f2"/>
<rect x="288.45" y="237.5" width="1.2" height="2.3" fill="#d6d6d6"/>
<rect x="288.45" y="241.5" width="1.2" height="1.1" fill="#d6d6d6"/>
<rect x="157.35" y="229.5" width="1.2" height="6.3" fill="#e8e8e8"/>
<rect x="157.45" y="237.8" width="1" height="1.8" fill="#d1d1d1"/>
<rect x="169.25" y="229.5" width="1.2" height="6.3" fill="#e8e8e8"/>
<rect x="169.35" y="237.8" width="1" height="1.8" fill="#d1d1d1"/>
<rect x="196.95" y="229.5" width="1.2" height="6.3" fill="#e8e8e8"/>
<rect x="197.05" y="237.8" width="1" height="1.8" fill="#d1d1d1"/>
<rect x="208.85" y="229.5" width="1.2" height="6.3" fill="#e8e8e8"/>
<rect x="208.95" y="237.8" width="1" height="1.8" fill="#d1d1d1"/>
<rect x="275.15" y="229.5" width="1.2" height="6.3" fill="#e8e8e8"/>
<rect x="275.25" y="237.8" width="1" height="1.8" fill="#d1d1d1"/>
<rect x="303.25" y="229.5" width="1.2" height="6.3" fill="#e8e8e8"/>
<rect x="303.35" y="237.8" width="1" height="1.8" fill="#d1d1d1"/>
<rect x="230.9" y="213.5" width="1.1" height="1.6" fill="#d6d6d6"/>
<rect x="230.9" y="215.8" width="1.1" height="1.6" fill="#b8b8b8"/>
<rect x="230.9" y="218.1" width="1.1" height="1.6" fill="#d6d6d6"/>
<rect x="230.9" y="220.4" width="1.1" height="1.6" fill="#b8b8b8"/>
<rect x="230.9" y="222.7" width="1.1" height="1.6" fill="#d6d6d6"/>
<rect x="230.9" y="225" width="1.1" height="1.6" fill="#b8b8b8"/>
<rect x="230.9" y="227.3" width="1.1" height="1.6" fill="#d6d6d6"/>
<rect x="230.9" y="229.6" width="1.1" height="1.6" fill="#b8b8b8"/>
<rect x="230.9" y="231.9" width="1.1" height="1.6" fill="#d6d6d6"/>
<rect x="230.9" y="234.2" width="1.1" height="1.6" fill="#b8b8b8"/>
<rect x="230.9" y="236.5" width="1.1" height="1.6" fill="#d6d6d6"/>
<rect x="230.9" y="238.8" width="1.1" height="1.6" fill="#b8b8b8"/>
<rect x="230.9" y="241.1" width="1.1" height="1.6" fill="#d6d6d6"/>
<rect x="230.9" y="243.4" width="1.1" height="1.6" fill="#b8b8b8"/>
<rect x="230.9" y="245.7" width="1.1" height="1.6" fill="#d6d6d6"/>
<rect x="230.9" y="248" width="1.1" height="1.6" fill="#b8b8b8"/>
<rect x="139.25" y="299" width="39" height="1" fill="#545454"/>
<rect x="155.85" y="299" width="1" height="1" fill="#c2c2c2"/>
<rect x="140.25" y="299" width="3" height="1" fill="#8f8f8f"/>
<rect x="202.25" y="657" width="9" height="1" fill="#8a8a8a"/>
</g>
<path d="M131 119h178v2h-178zM131 133h178v1h-178zM131 139h178v1h-178zM131 218h178v1h-178zM131 221h178v1h-178zM131 224h178v1h-178zM131 237h178v1h-178zM131 240h178v1h-178zM131 243h178v1h-178zM131 245h178v2h-178zM131 250h178v1h-178zM131 252h178v1h-178zM131 279h178v9h-178zM131 289h178v1h-178zM131 302h178v4h-178zM131 307h178v1h-178zM131 323h178v2h-178zM131 357h178v1h-178zM131 363h178v1h-178zM131 398h178v1h-178zM131 407h178v2h-178zM131 416h178v1h-178zM131 423h178v3h-178zM131 449h178v4h-178zM131 466h178v2h-178zM131 476h178v5h-178zM131 485h178v1h-178zM131 492h178v1h-178zM131 503h178v1h-178zM131 509h178v2h-178zM131 517h178v1h-178zM131 522h178v1h-178zM131 590h178v1h-178zM131 598h178v1h-178zM131 603h178v1h-178zM131 625h178v1h-178zM131 630h178v1h-178zM131 639h178v1h-178zM131 642h178v1h-178zM131 644h178v1h-178zM131 649h178v1h-178zM131 656h178v1h-178zM131 663h178v1h-178zM131 687h178v1h-178zM131 703h178v1h-178zM131 710h178v1h-178z" fill="#fff"/>
<path d="M131 83h178v1h-178zM131 113h178v1h-178zM131 121h178v1h-178zM131 131h178v1h-178zM131 135h178v1h-178zM131 143h178v1h-178zM131 164h178v1h-178zM131 189h178v1h-178zM131 191h178v1h-178zM131 201h178v1h-178zM131 235h178v1h-178zM131 247h178v1h-178zM131 259h178v1h-178zM131 269h178v1h-178zM131 315h178v1h-178zM131 343h178v1h-178zM131 370h178v1h-178zM131 418h178v1h-178zM131 420h178v1h-178zM131 428h178v1h-178zM131 448h178v1h-178zM131 454h178v1h-178zM131 458h178v2h-178zM131 484h178v1h-178zM131 500h178v1h-178zM131 504h178v1h-178zM131 512h178v1h-178zM131 514h178v1h-178zM131 523h178v1h-178zM131 583h178v1h-178zM131 594h178v3h-178zM131 637h178v2h-178zM131 640h178v2h-178zM131 699h178v1h-178z" fill="#000" shape-rendering="crispEdges"/>
<rect x="131.5" y="80.5" width="177" height="640" fill="none" stroke="#000" stroke-width="1"/>
<path d="M131.5 720.5v-5.5M131.5 80.5v5.5M173.5 720.5v-5.5M173.5 80.5v5.5M214.5 720.5v-5.5M214.5 80.5v5.5M256.5 720.5v-5.5M256.5 80.5v5.5M297.5 720.5v-5.5M297.5 80.5v5.5M131.5 720.5h5.5M308.5 720.5h-5.5M131.5 587.5h5.5M308.5 587.5h-5.5M131.5 453.5h5.5M308.5 453.5h-5.5M131.5 320.5h5.5M308.5 320.5h-5.5M131.5 187.5h5.5M308.5 187.5h-5.5" stroke="#000" stroke-width="0.8" fill="none"/>
<text x="131.75" y="735.9" font-size="12.5" text-anchor="middle" letter-spacing="-.45">320</text>
<text x="173.21" y="735.9" font-size="12.5" text-anchor="middle" letter-spacing="-.45">335</text>
<text x="214.67" y="735.9" font-size="12.5" text-anchor="middle" letter-spacing="-.45">350</text>
<text x="256.13" y="735.9" font-size="12.5" text-anchor="middle" letter-spacing="-.45">365</text>
<text x="297.6" y="735.9" font-size="12.5" text-anchor="middle" letter-spacing="-.45">380</text>
<text x="125.35" y="723.4" font-size="12.5" text-anchor="end" letter-spacing="-.45">0</text>
<text x="125.35" y="590.07" font-size="12.5" text-anchor="end" letter-spacing="-.45">5</text>
<text x="125.35" y="456.73" font-size="12.5" text-anchor="end" letter-spacing="-.45">10</text>
<text x="125.35" y="323.4" font-size="12.5" text-anchor="end" letter-spacing="-.45">15</text>
<text x="125.35" y="190.07" font-size="12.5" text-anchor="end" letter-spacing="-.45">20</text>
<text x="220.1" y="72.6" font-size="15" text-anchor="middle">XX, V0*V4=EA23*EA05</text>
<g filter="url(#jet1)">
<rect x="344" y="80" width="177" height="641" fill="url(#p1c0)"/>
<rect x="436.25" y="80" width="18.75" height="641" fill="url(#p1c1)" opacity=".2"/>
<rect x="439.25" y="80" width="15.75" height="641" fill="url(#p1c1)" opacity=".3"/>
<rect x="442.25" y="80" width="12.75" height="641" fill="url(#p1c1)" opacity=".4"/>
<rect x="445.25" y="80" width="9.75" height="641" fill="url(#p1c1)" opacity=".45"/>
<rect x="448.25" y="80" width="6.75" height="641" fill="url(#p1c1)" opacity=".55"/>
<rect x="451.25" y="80" width="3.75" height="641" fill="url(#p1c1)" opacity=".5"/>
<rect x="455" y="80" width="1" height="641" fill="url(#p1c2)" opacity=".5"/>
<rect x="468" y="80" width="1" height="641" fill="url(#p1c7)"/>
<rect x="469" y="80" width="1" height="641" fill="url(#p1c8)"/>
<rect x="482" y="80" width="1" height="641" fill="url(#p1c7)"/>
<rect x="483" y="80" width="1" height="641" fill="url(#p1c8)"/>
<rect x="496" y="80" width="1" height="641" fill="url(#p1c7)"/>
<rect x="497" y="80" width="1" height="641" fill="url(#p1c8)"/>
<rect x="510" y="80" width="11" height="641" fill="url(#p1c6)"/>
<rect x="510" y="80" width="1" height="641" fill="url(#p1c5)" opacity=".4"/>
<rect x="441" y="80" width="14" height="640" fill="url(#st4)" opacity=".25"/>
</g>
<g filter="url(#jb1)">
<rect x="456" y="80" width="12" height="641" fill="url(#p1c2)"/>
<rect x="470" y="80" width="12" height="641" fill="url(#p1c3)"/>
<rect x="484" y="80" width="12" height="641" fill="url(#p1c4)"/>
<rect x="498" y="80" width="12" height="641" fill="url(#p1c5)"/>
<rect x="456" y="80" width="12" height="640" fill="url(#st2)"/>
<rect x="471" y="80" width="11" height="640" fill="url(#st3)"/>
<rect x="485" y="80" width="11" height="640" fill="url(#st4)"/>
<rect x="499" y="80" width="11" height="640" fill="url(#st5)"/>
</g>
<g filter="url(#jet1)">
<polygon points="365.75,229.5 395.75,228 425.75,229.5 425.75,232.5 395.75,234.5 365.75,232.5" fill="#8f8f8f"/>
<polygon points="393.55,233 395.75,213.5 397.95,233 395.75,257.5" fill="#7a7a7a"/>
<polygon points="394.25,233 395.75,218 397.25,233 395.75,253" fill="#b8b8b8"/>
<polygon points="383.75,232.4 395.75,230.8 407.75,232.4 407.75,233.6 395.75,234.8 383.75,233.6" fill="#adadad"/>
<polygon points="389.25,233 395.75,229.6 402.25,233 395.75,235.6" fill="#ebebeb"/>
<polygon points="394.15,233 395.75,224.5 397.35,233 395.75,244" fill="#fafafa"/>
<rect x="391.25" y="229.6" width="9" height=".8" fill="#dbdbdb"/>
<rect x="393.95" y="241" width="3.6" height="1.9" fill="#ebebeb"/>
<rect x="394.25" y="237.5" width="3" height="2.3" fill="#e0e0e0"/>
<polygon points="388.75,248.9 395.75,248 402.75,248.9 395.75,249.8" fill="#b8b8b8"/>
<rect x="394.75" y="247.9" width="2" height="1.9" fill="#e0e0e0"/>
<rect x="355.3" y="228.6" width="1.7" height="7.4" fill="#fafafa"/>
<polygon points="351.65,233 356.15,232.2 360.65,233 356.15,233.8" fill="#f2f2f2"/>
<rect x="355.55" y="237.5" width="1.2" height="2.3" fill="#d6d6d6"/>
<rect x="355.55" y="241.5" width="1.2" height="1.1" fill="#d6d6d6"/>
<rect x="434.5" y="228.6" width="1.7" height="7.4" fill="#fafafa"/>
<polygon points="430.85,233 435.35,232.2 439.85,233 435.35,233.8" fill="#f2f2f2"/>
<rect x="434.75" y="237.5" width="1.2" height="2.3" fill="#d6d6d6"/>
<rect x="434.75" y="241.5" width="1.2" height="1.1" fill="#d6d6d6"/>
<rect x="460.7" y="228.6" width="1.7" height="7.4" fill="#fafafa"/>
<polygon points="457.05,233 461.55,232.2 466.05,233 461.55,233.8" fill="#f2f2f2"/>
<rect x="460.95" y="237.5" width="1.2" height="2.3" fill="#d6d6d6"/>
<rect x="460.95" y="241.5" width="1.2" height="1.1" fill="#d6d6d6"/>
<rect x="474.5" y="228.6" width="1.7" height="7.4" fill="#fafafa"/>
<polygon points="470.85,233 475.35,232.2 479.85,233 475.35,233.8" fill="#f2f2f2"/>
<rect x="474.75" y="237.5" width="1.2" height="2.3" fill="#d6d6d6"/>
<rect x="474.75" y="241.5" width="1.2" height="1.1" fill="#d6d6d6"/>
<rect x="500.2" y="228.6" width="1.7" height="7.4" fill="#fafafa"/>
<polygon points="496.55,233 501.05,232.2 505.55,233 501.05,233.8" fill="#f2f2f2"/>
<rect x="500.45" y="237.5" width="1.2" height="2.3" fill="#d6d6d6"/>
<rect x="500.45" y="241.5" width="1.2" height="1.1" fill="#d6d6d6"/>
<rect x="369.35" y="229.5" width="1.2" height="6.3" fill="#e8e8e8"/>
<rect x="369.45" y="237.8" width="1" height="1.8" fill="#d1d1d1"/>
<rect x="381.25" y="229.5" width="1.2" height="6.3" fill="#e8e8e8"/>
<rect x="381.35" y="237.8" width="1" height="1.8" fill="#d1d1d1"/>
<rect x="408.95" y="229.5" width="1.2" height="6.3" fill="#e8e8e8"/>
<rect x="409.05" y="237.8" width="1" height="1.8" fill="#d1d1d1"/>
<rect x="420.85" y="229.5" width="1.2" height="6.3" fill="#e8e8e8"/>
<rect x="420.95" y="237.8" width="1" height="1.8" fill="#d1d1d1"/>
<rect x="487.15" y="229.5" width="1.2" height="6.3" fill="#e8e8e8"/>
<rect x="487.25" y="237.8" width="1" height="1.8" fill="#d1d1d1"/>
<rect x="515.25" y="229.5" width="1.2" height="6.3" fill="#e8e8e8"/>
<rect x="515.35" y="237.8" width="1" height="1.8" fill="#d1d1d1"/>
<rect x="442.9" y="213.5" width="1.1" height="1.6" fill="#d6d6d6"/>
<rect x="442.9" y="215.8" width="1.1" height="1.6" fill="#b8b8b8"/>
<rect x="442.9" y="218.1" width="1.1" height="1.6" fill="#d6d6d6"/>
<rect x="442.9" y="220.4" width="1.1" height="1.6" fill="#b8b8b8"/>
<rect x="442.9" y="222.7" width="1.1" height="1.6" fill="#d6d6d6"/>
<rect x="442.9" y="225" width="1.1" height="1.6" fill="#b8b8b8"/>
<rect x="442.9" y="227.3" width="1.1" height="1.6" fill="#d6d6d6"/>
<rect x="442.9" y="229.6" width="1.1" height="1.6" fill="#b8b8b8"/>
<rect x="442.9" y="231.9" width="1.1" height="1.6" fill="#d6d6d6"/>
<rect x="442.9" y="234.2" width="1.1" height="1.6" fill="#b8b8b8"/>
<rect x="442.9" y="236.5" width="1.1" height="1.6" fill="#d6d6d6"/>
<rect x="442.9" y="238.8" width="1.1" height="1.6" fill="#b8b8b8"/>
<rect x="442.9" y="241.1" width="1.1" height="1.6" fill="#d6d6d6"/>
<rect x="442.9" y="243.4" width="1.1" height="1.6" fill="#b8b8b8"/>
<rect x="442.9" y="245.7" width="1.1" height="1.6" fill="#d6d6d6"/>
<rect x="442.9" y="248" width="1.1" height="1.6" fill="#b8b8b8"/>
<rect x="399" y="80" width="1" height="640" fill="#5c5c5c"/>
</g>
<path d="M344 119h177v2h-177zM344 133h177v1h-177zM344 139h177v1h-177zM344 218h177v1h-177zM344 221h177v1h-177zM344 224h177v1h-177zM344 237h177v1h-177zM344 240h177v1h-177zM344 243h177v1h-177zM344 245h177v2h-177zM344 250h177v1h-177zM344 252h177v1h-177zM344 279h177v9h-177zM344 289h177v1h-177zM344 302h177v4h-177zM344 307h177v1h-177zM344 323h177v2h-177zM344 357h177v1h-177zM344 363h177v1h-177zM344 398h177v1h-177zM344 407h177v2h-177zM344 416h177v1h-177zM344 423h177v3h-177zM344 449h177v4h-177zM344 466h177v2h-177zM344 476h177v5h-177zM344 485h177v1h-177zM344 492h177v1h-177zM344 503h177v1h-177zM344 509h177v2h-177zM344 517h177v1h-177zM344 522h177v1h-177zM344 590h177v1h-177zM344 598h177v1h-177zM344 603h177v1h-177zM344 625h177v1h-177zM344 630h177v1h-177zM344 639h177v1h-177zM344 642h177v1h-177zM344 644h177v1h-177zM344 649h177v1h-177zM344 656h177v1h-177zM344 663h177v1h-177zM344 687h177v1h-177zM344 703h177v1h-177zM344 710h177v1h-177z" fill="#fff"/>
<path d="M344 83h177v1h-177zM344 113h177v1h-177zM344 121h177v1h-177zM344 131h177v1h-177zM344 135h177v1h-177zM344 143h177v1h-177zM344 164h177v1h-177zM344 189h177v1h-177zM344 191h177v1h-177zM344 201h177v1h-177zM344 235h177v1h-177zM344 247h177v1h-177zM344 259h177v1h-177zM344 269h177v1h-177zM344 315h177v1h-177zM344 343h177v1h-177zM344 370h177v1h-177zM344 418h177v1h-177zM344 420h177v1h-177zM344 428h177v1h-177zM344 448h177v1h-177zM344 454h177v1h-177zM344 458h177v2h-177zM344 484h177v1h-177zM344 500h177v1h-177zM344 504h177v1h-177zM344 512h177v1h-177zM344 514h177v1h-177zM344 523h177v1h-177zM344 583h177v1h-177zM344 594h177v3h-177zM344 637h177v2h-177zM344 640h177v2h-177zM344 699h177v1h-177z" fill="#000" shape-rendering="crispEdges"/>
<rect x="344.5" y="80.5" width="176" height="640" fill="none" stroke="#000" stroke-width="1"/>
<path d="M344.5 720.5v-5.5M344.5 80.5v5.5M385.5 720.5v-5.5M385.5 80.5v5.5M426.5 720.5v-5.5M426.5 80.5v5.5M468.5 720.5v-5.5M468.5 80.5v5.5M509.5 720.5v-5.5M509.5 80.5v5.5M344.5 720.5h5.5M520.5 720.5h-5.5M344.5 587.5h5.5M520.5 587.5h-5.5M344.5 453.5h5.5M520.5 453.5h-5.5M344.5 320.5h5.5M520.5 320.5h-5.5M344.5 187.5h5.5M520.5 187.5h-5.5" stroke="#000" stroke-width="0.8" fill="none"/>
<text x="344.03" y="735.9" font-size="12.5" text-anchor="middle" letter-spacing="-.45">320</text>
<text x="385.49" y="735.9" font-size="12.5" text-anchor="middle" letter-spacing="-.45">335</text>
<text x="426.96" y="735.9" font-size="12.5" text-anchor="middle" letter-spacing="-.45">350</text>
<text x="468.42" y="735.9" font-size="12.5" text-anchor="middle" letter-spacing="-.45">365</text>
<text x="509.88" y="735.9" font-size="12.5" text-anchor="middle" letter-spacing="-.45">380</text>
<text x="337.63" y="723.4" font-size="12.5" text-anchor="end" letter-spacing="-.45">0</text>
<text x="337.63" y="590.07" font-size="12.5" text-anchor="end" letter-spacing="-.45">5</text>
<text x="337.63" y="456.73" font-size="12.5" text-anchor="end" letter-spacing="-.45">10</text>
<text x="337.63" y="323.4" font-size="12.5" text-anchor="end" letter-spacing="-.45">15</text>
<text x="337.63" y="190.07" font-size="12.5" text-anchor="end" letter-spacing="-.45">20</text>
<text x="432.38" y="72.6" font-size="15" text-anchor="middle">YY, V0*V4=EA23*EA05</text>
<g filter="url(#jet2)">
<rect x="556" y="80" width="178" height="641" fill="url(#p2c0)"/>
<rect x="648.25" y="80" width="18.75" height="641" fill="url(#p2c1)" opacity=".2"/>
<rect x="651.25" y="80" width="15.75" height="641" fill="url(#p2c1)" opacity=".3"/>
<rect x="654.25" y="80" width="12.75" height="641" fill="url(#p2c1)" opacity=".4"/>
<rect x="657.25" y="80" width="9.75" height="641" fill="url(#p2c1)" opacity=".45"/>
<rect x="660.25" y="80" width="6.75" height="641" fill="url(#p2c1)" opacity=".55"/>
<rect x="663.25" y="80" width="3.75" height="641" fill="url(#p2c1)" opacity=".5"/>
<rect x="667" y="80" width="1" height="641" fill="url(#p2c2)" opacity=".5"/>
<rect x="680" y="80" width="1" height="641" fill="url(#p2c7)"/>
<rect x="681" y="80" width="1" height="641" fill="url(#p2c8)"/>
<rect x="694" y="80" width="1" height="641" fill="url(#p2c7)"/>
<rect x="695" y="80" width="1" height="641" fill="url(#p2c8)"/>
<rect x="708" y="80" width="1" height="641" fill="url(#p2c7)"/>
<rect x="709" y="80" width="1" height="641" fill="url(#p2c8)"/>
<rect x="722" y="80" width="12" height="641" fill="url(#p2c6)"/>
<rect x="722" y="80" width="1" height="641" fill="url(#p2c5)" opacity=".4"/>
<rect x="653" y="80" width="14" height="640" fill="url(#st5)" opacity=".25"/>
</g>
<g filter="url(#jb2)">
<rect x="668" y="80" width="12" height="641" fill="url(#p2c2)"/>
<rect x="682" y="80" width="12" height="641" fill="url(#p2c3)"/>
<rect x="696" y="80" width="12" height="641" fill="url(#p2c4)"/>
<rect x="710" y="80" width="12" height="641" fill="url(#p2c5)"/>
<rect x="668" y="80" width="12" height="640" fill="url(#st3)"/>
<rect x="683" y="80" width="11" height="640" fill="url(#st4)"/>
<rect x="697" y="80" width="11" height="640" fill="url(#st5)"/>
<rect x="711" y="80" width="11" height="640" fill="url(#st1)"/>
</g>
<g filter="url(#jet2)">
<polygon points="577.75,229.5 607.75,228 637.75,229.5 637.75,232.5 607.75,234.5 577.75,232.5" fill="#8f8f8f"/>
<polygon points="605.55,233 607.75,213.5 609.95,233 607.75,257.5" fill="#7a7a7a"/>
<polygon points="606.25,233 607.75,218 609.25,233 607.75,253" fill="#b8b8b8"/>
<polygon points="595.75,232.4 607.75,230.8 619.75,232.4 619.75,233.6 607.75,234.8 595.75,233.6" fill="#adadad"/>
<polygon points="601.25,233 607.75,229.6 614.25,233 607.75,235.6" fill="#ebebeb"/>
<polygon points="606.15,233 607.75,224.5 609.35,233 607.75,244" fill="#fafafa"/>
<rect x="603.25" y="229.6" width="9" height=".8" fill="#dbdbdb"/>
<rect x="605.95" y="241" width="3.6" height="1.9" fill="#ebebeb"/>
<rect x="606.25" y="237.5" width="3" height="2.3" fill="#e0e0e0"/>
<polygon points="600.75,248.9 607.75,248 614.75,248.9 607.75,249.8" fill="#b8b8b8"/>
<rect x="606.75" y="247.9" width="2" height="1.9" fill="#e0e0e0"/>
<rect x="567.3" y="228.6" width="1.7" height="7.4" fill="#fafafa"/>
<polygon points="563.65,233 568.15,232.2 572.65,233 568.15,233.8" fill="#f2f2f2"/>
<rect x="567.55" y="237.5" width="1.2" height="2.3" fill="#d6d6d6"/>
<rect x="567.55" y="241.5" width="1.2" height="1.1" fill="#d6d6d6"/>
<rect x="646.5" y="228.6" width="1.7" height="7.4" fill="#fafafa"/>
<polygon points="642.85,233 647.35,232.2 651.85,233 647.35,233.8" fill="#f2f2f2"/>
<rect x="646.75" y="237.5" width="1.2" height="2.3" fill="#d6d6d6"/>
<rect x="646.75" y="241.5" width="1.2" height="1.1" fill="#d6d6d6"/>
<rect x="672.7" y="228.6" width="1.7" height="7.4" fill="#fafafa"/>
<polygon points="669.05,233 673.55,232.2 678.05,233 673.55,233.8" fill="#f2f2f2"/>
<rect x="672.95" y="237.5" width="1.2" height="2.3" fill="#d6d6d6"/>
<rect x="672.95" y="241.5" width="1.2" height="1.1" fill="#d6d6d6"/>
<rect x="686.5" y="228.6" width="1.7" height="7.4" fill="#fafafa"/>
<polygon points="682.85,233 687.35,232.2 691.85,233 687.35,233.8" fill="#f2f2f2"/>
<rect x="686.75" y="237.5" width="1.2" height="2.3" fill="#d6d6d6"/>
<rect x="686.75" y="241.5" width="1.2" height="1.1" fill="#d6d6d6"/>
<rect x="712.2" y="228.6" width="1.7" height="7.4" fill="#fafafa"/>
<polygon points="708.55,233 713.05,232.2 717.55,233 713.05,233.8" fill="#f2f2f2"/>
<rect x="712.45" y="237.5" width="1.2" height="2.3" fill="#d6d6d6"/>
<rect x="712.45" y="241.5" width="1.2" height="1.1" fill="#d6d6d6"/>
<rect x="581.35" y="229.5" width="1.2" height="6.3" fill="#e8e8e8"/>
<rect x="581.45" y="237.8" width="1" height="1.8" fill="#d1d1d1"/>
<rect x="593.25" y="229.5" width="1.2" height="6.3" fill="#e8e8e8"/>
<rect x="593.35" y="237.8" width="1" height="1.8" fill="#d1d1d1"/>
<rect x="620.95" y="229.5" width="1.2" height="6.3" fill="#e8e8e8"/>
<rect x="621.05" y="237.8" width="1" height="1.8" fill="#d1d1d1"/>
<rect x="632.85" y="229.5" width="1.2" height="6.3" fill="#e8e8e8"/>
<rect x="632.95" y="237.8" width="1" height="1.8" fill="#d1d1d1"/>
<rect x="699.15" y="229.5" width="1.2" height="6.3" fill="#e8e8e8"/>
<rect x="699.25" y="237.8" width="1" height="1.8" fill="#d1d1d1"/>
<rect x="727.25" y="229.5" width="1.2" height="6.3" fill="#e8e8e8"/>
<rect x="727.35" y="237.8" width="1" height="1.8" fill="#d1d1d1"/>
<rect x="654.9" y="213.5" width="1.1" height="1.6" fill="#d6d6d6"/>
<rect x="654.9" y="215.8" width="1.1" height="1.6" fill="#b8b8b8"/>
<rect x="654.9" y="218.1" width="1.1" height="1.6" fill="#d6d6d6"/>
<rect x="654.9" y="220.4" width="1.1" height="1.6" fill="#b8b8b8"/>
<rect x="654.9" y="222.7" width="1.1" height="1.6" fill="#d6d6d6"/>
<rect x="654.9" y="225" width="1.1" height="1.6" fill="#b8b8b8"/>
<rect x="654.9" y="227.3" width="1.1" height="1.6" fill="#d6d6d6"/>
<rect x="654.9" y="229.6" width="1.1" height="1.6" fill="#b8b8b8"/>
<rect x="654.9" y="231.9" width="1.1" height="1.6" fill="#d6d6d6"/>
<rect x="654.9" y="234.2" width="1.1" height="1.6" fill="#b8b8b8"/>
<rect x="654.9" y="236.5" width="1.1" height="1.6" fill="#d6d6d6"/>
<rect x="654.9" y="238.8" width="1.1" height="1.6" fill="#b8b8b8"/>
<rect x="654.9" y="241.1" width="1.1" height="1.6" fill="#d6d6d6"/>
<rect x="654.9" y="243.4" width="1.1" height="1.6" fill="#b8b8b8"/>
<rect x="654.9" y="245.7" width="1.1" height="1.6" fill="#d6d6d6"/>
<rect x="654.9" y="248" width="1.1" height="1.6" fill="#b8b8b8"/>
<rect x="555.25" y="657" width="110" height="1" fill="#999999"/>
<rect x="562.25" y="657" width="1" height="1" fill="#d6d6d6"/>
<rect x="606.25" y="657" width="1" height="1" fill="#d6d6d6"/>
</g>
<path d="M556 119h178v2h-178zM556 133h178v1h-178zM556 139h178v1h-178zM556 218h178v1h-178zM556 221h178v1h-178zM556 224h178v1h-178zM556 237h178v1h-178zM556 240h178v1h-178zM556 243h178v1h-178zM556 245h178v2h-178zM556 250h178v1h-178zM556 252h178v1h-178zM556 279h178v9h-178zM556 289h178v1h-178zM556 302h178v4h-178zM556 307h178v1h-178zM556 323h178v2h-178zM556 357h178v1h-178zM556 363h178v1h-178zM556 398h178v1h-178zM556 407h178v2h-178zM556 416h178v1h-178zM556 423h178v3h-178zM556 449h178v4h-178zM556 466h178v2h-178zM556 476h178v5h-178zM556 485h178v1h-178zM556 492h178v1h-178zM556 503h178v1h-178zM556 509h178v2h-178zM556 517h178v1h-178zM556 522h178v1h-178zM556 590h178v1h-178zM556 598h178v1h-178zM556 603h178v1h-178zM556 625h178v1h-178zM556 630h178v1h-178zM556 639h178v1h-178zM556 642h178v1h-178zM556 644h178v1h-178zM556 649h178v1h-178zM556 656h178v1h-178zM556 663h178v1h-178zM556 687h178v1h-178zM556 703h178v1h-178zM556 710h178v1h-178z" fill="#fff"/>
<path d="M556 83h178v1h-178zM556 113h178v1h-178zM556 121h178v1h-178zM556 131h178v1h-178zM556 135h178v1h-178zM556 143h178v1h-178zM556 164h178v1h-178zM556 189h178v1h-178zM556 191h178v1h-178zM556 201h178v1h-178zM556 235h178v1h-178zM556 247h178v1h-178zM556 259h178v1h-178zM556 269h178v1h-178zM556 315h178v1h-178zM556 343h178v1h-178zM556 370h178v1h-178zM556 418h178v1h-178zM556 420h178v1h-178zM556 428h178v1h-178zM556 448h178v1h-178zM556 454h178v1h-178zM556 458h178v2h-178zM556 484h178v1h-178zM556 500h178v1h-178zM556 504h178v1h-178zM556 512h178v1h-178zM556 514h178v1h-178zM556 523h178v1h-178zM556 583h178v1h-178zM556 594h178v3h-178zM556 637h178v2h-178zM556 640h178v2h-178zM556 699h178v1h-178z" fill="#000" shape-rendering="crispEdges"/>
<rect x="556.5" y="80.5" width="177" height="640" fill="none" stroke="#000" stroke-width="1"/>
<path d="M556.5 720.5v-5.5M556.5 80.5v5.5M597.5 720.5v-5.5M597.5 80.5v5.5M639.5 720.5v-5.5M639.5 80.5v5.5M680.5 720.5v-5.5M680.5 80.5v5.5M722.5 720.5v-5.5M722.5 80.5v5.5M556.5 720.5h5.5M733.5 720.5h-5.5M556.5 587.5h5.5M733.5 587.5h-5.5M556.5 453.5h5.5M733.5 453.5h-5.5M556.5 320.5h5.5M733.5 320.5h-5.5M556.5 187.5h5.5M733.5 187.5h-5.5" stroke="#000" stroke-width="0.8" fill="none"/>
<text x="556.32" y="735.9" font-size="12.5" text-anchor="middle" letter-spacing="-.45">320</text>
<text x="597.78" y="735.9" font-size="12.5" text-anchor="middle" letter-spacing="-.45">335</text>
<text x="639.24" y="735.9" font-size="12.5" text-anchor="middle" letter-spacing="-.45">350</text>
<text x="680.7" y="735.9" font-size="12.5" text-anchor="middle" letter-spacing="-.45">365</text>
<text x="722.16" y="735.9" font-size="12.5" text-anchor="middle" letter-spacing="-.45">380</text>
<text x="549.92" y="723.4" font-size="12.5" text-anchor="end" letter-spacing="-.45">0</text>
<text x="549.92" y="590.07" font-size="12.5" text-anchor="end" letter-spacing="-.45">5</text>
<text x="549.92" y="456.73" font-size="12.5" text-anchor="end" letter-spacing="-.45">10</text>
<text x="549.92" y="323.4" font-size="12.5" text-anchor="end" letter-spacing="-.45">15</text>
<text x="549.92" y="190.07" font-size="12.5" text-anchor="end" letter-spacing="-.45">20</text>
<text x="644.67" y="72.6" font-size="15" text-anchor="middle">XY, V0*V4=EA23*EA05</text>
<g filter="url(#jet3)">
<rect x="768" y="80" width="178" height="641" fill="url(#p3c0)"/>
<rect x="860.25" y="80" width="18.75" height="641" fill="url(#p3c1)" opacity=".2"/>
<rect x="863.25" y="80" width="15.75" height="641" fill="url(#p3c1)" opacity=".3"/>
<rect x="866.25" y="80" width="12.75" height="641" fill="url(#p3c1)" opacity=".4"/>
<rect x="869.25" y="80" width="9.75" height="641" fill="url(#p3c1)" opacity=".45"/>
<rect x="872.25" y="80" width="6.75" height="641" fill="url(#p3c1)" opacity=".55"/>
<rect x="875.25" y="80" width="3.75" height="641" fill="url(#p3c1)" opacity=".5"/>
<rect x="879" y="80" width="1" height="641" fill="url(#p3c2)" opacity=".5"/>
<rect x="892" y="80" width="1" height="641" fill="url(#p3c7)"/>
<rect x="893" y="80" width="1" height="641" fill="url(#p3c8)"/>
<rect x="906" y="80" width="1" height="641" fill="url(#p3c7)"/>
<rect x="907" y="80" width="1" height="641" fill="url(#p3c8)"/>
<rect x="920" y="80" width="1" height="641" fill="url(#p3c7)"/>
<rect x="921" y="80" width="1" height="641" fill="url(#p3c8)"/>
<rect x="934" y="80" width="12" height="641" fill="url(#p3c6)"/>
<rect x="934" y="80" width="1" height="641" fill="url(#p3c5)" opacity=".4"/>
<rect x="865" y="80" width="14" height="640" fill="url(#st1)" opacity=".25"/>
</g>
<g filter="url(#jb3)">
<rect x="880" y="80" width="12" height="641" fill="url(#p3c2)"/>
<rect x="894" y="80" width="12" height="641" fill="url(#p3c3)"/>
<rect x="908" y="80" width="12" height="641" fill="url(#p3c4)"/>
<rect x="922" y="80" width="12" height="641" fill="url(#p3c5)"/>
<rect x="880" y="80" width="12" height="640" fill="url(#st4)"/>
<rect x="895" y="80" width="11" height="640" fill="url(#st5)"/>
<rect x="909" y="80" width="11" height="640" fill="url(#st1)"/>
<rect x="923" y="80" width="11" height="640" fill="url(#st2)"/>
</g>
<g filter="url(#jet3)">
<polygon points="789.75,229.5 819.75,228 849.75,229.5 849.75,232.5 819.75,234.5 789.75,232.5" fill="#8f8f8f"/>
<polygon points="817.55,233 819.75,213.5 821.95,233 819.75,257.5" fill="#7a7a7a"/>
<polygon points="818.25,233 819.75,218 821.25,233 819.75,253" fill="#b8b8b8"/>
<polygon points="807.75,232.4 819.75,230.8 831.75,232.4 831.75,233.6 819.75,234.8 807.75,233.6" fill="#adadad"/>
<polygon points="813.25,233 819.75,229.6 826.25,233 819.75,235.6" fill="#ebebeb"/>
<polygon points="818.15,233 819.75,224.5 821.35,233 819.75,244" fill="#fafafa"/>
<rect x="815.25" y="229.6" width="9" height=".8" fill="#dbdbdb"/>
<rect x="817.95" y="241" width="3.6" height="1.9" fill="#ebebeb"/>
<rect x="818.25" y="237.5" width="3" height="2.3" fill="#e0e0e0"/>
<polygon points="812.75,248.9 819.75,248 826.75,248.9 819.75,249.8" fill="#b8b8b8"/>
<rect x="818.75" y="247.9" width="2" height="1.9" fill="#e0e0e0"/>
<rect x="779.3" y="228.6" width="1.7" height="7.4" fill="#fafafa"/>
<polygon points="775.65,233 780.15,232.2 784.65,233 780.15,233.8" fill="#f2f2f2"/>
<rect x="779.55" y="237.5" width="1.2" height="2.3" fill="#d6d6d6"/>
<rect x="779.55" y="241.5" width="1.2" height="1.1" fill="#d6d6d6"/>
<rect x="858.5" y="228.6" width="1.7" height="7.4" fill="#fafafa"/>
<polygon points="854.85,233 859.35,232.2 863.85,233 859.35,233.8" fill="#f2f2f2"/>
<rect x="858.75" y="237.5" width="1.2" height="2.3" fill="#d6d6d6"/>
<rect x="858.75" y="241.5" width="1.2" height="1.1" fill="#d6d6d6"/>
<rect x="884.7" y="228.6" width="1.7" height="7.4" fill="#fafafa"/>
<polygon points="881.05,233 885.55,232.2 890.05,233 885.55,233.8" fill="#f2f2f2"/>
<rect x="884.95" y="237.5" width="1.2" height="2.3" fill="#d6d6d6"/>
<rect x="884.95" y="241.5" width="1.2" height="1.1" fill="#d6d6d6"/>
<rect x="898.5" y="228.6" width="1.7" height="7.4" fill="#fafafa"/>
<polygon points="894.85,233 899.35,232.2 903.85,233 899.35,233.8" fill="#f2f2f2"/>
<rect x="898.75" y="237.5" width="1.2" height="2.3" fill="#d6d6d6"/>
<rect x="898.75" y="241.5" width="1.2" height="1.1" fill="#d6d6d6"/>
<rect x="924.2" y="228.6" width="1.7" height="7.4" fill="#fafafa"/>
<polygon points="920.55,233 925.05,232.2 929.55,233 925.05,233.8" fill="#f2f2f2"/>
<rect x="924.45" y="237.5" width="1.2" height="2.3" fill="#d6d6d6"/>
<rect x="924.45" y="241.5" width="1.2" height="1.1" fill="#d6d6d6"/>
<rect x="793.35" y="229.5" width="1.2" height="6.3" fill="#e8e8e8"/>
<rect x="793.45" y="237.8" width="1" height="1.8" fill="#d1d1d1"/>
<rect x="805.25" y="229.5" width="1.2" height="6.3" fill="#e8e8e8"/>
<rect x="805.35" y="237.8" width="1" height="1.8" fill="#d1d1d1"/>
<rect x="832.95" y="229.5" width="1.2" height="6.3" fill="#e8e8e8"/>
<rect x="833.05" y="237.8" width="1" height="1.8" fill="#d1d1d1"/>
<rect x="844.85" y="229.5" width="1.2" height="6.3" fill="#e8e8e8"/>
<rect x="844.95" y="237.8" width="1" height="1.8" fill="#d1d1d1"/>
<rect x="911.15" y="229.5" width="1.2" height="6.3" fill="#e8e8e8"/>
<rect x="911.25" y="237.8" width="1" height="1.8" fill="#d1d1d1"/>
<rect x="939.25" y="229.5" width="1.2" height="6.3" fill="#e8e8e8"/>
<rect x="939.35" y="237.8" width="1" height="1.8" fill="#d1d1d1"/>
<rect x="866.9" y="213.5" width="1.1" height="1.6" fill="#d6d6d6"/>
<rect x="866.9" y="215.8" width="1.1" height="1.6" fill="#b8b8b8"/>
<rect x="866.9" y="218.1" width="1.1" height="1.6" fill="#d6d6d6"/>
<rect x="866.9" y="220.4" width="1.1" height="1.6" fill="#b8b8b8"/>
<rect x="866.9" y="222.7" width="1.1" height="1.6" fill="#d6d6d6"/>
<rect x="866.9" y="225" width="1.1" height="1.6" fill="#b8b8b8"/>
<rect x="866.9" y="227.3" width="1.1" height="1.6" fill="#d6d6d6"/>
<rect x="866.9" y="229.6" width="1.1" height="1.6" fill="#b8b8b8"/>
<rect x="866.9" y="231.9" width="1.1" height="1.6" fill="#d6d6d6"/>
<rect x="866.9" y="234.2" width="1.1" height="1.6" fill="#b8b8b8"/>
<rect x="866.9" y="236.5" width="1.1" height="1.6" fill="#d6d6d6"/>
<rect x="866.9" y="238.8" width="1.1" height="1.6" fill="#b8b8b8"/>
<rect x="866.9" y="241.1" width="1.1" height="1.6" fill="#d6d6d6"/>
<rect x="866.9" y="243.4" width="1.1" height="1.6" fill="#b8b8b8"/>
<rect x="866.9" y="245.7" width="1.1" height="1.6" fill="#d6d6d6"/>
<rect x="866.9" y="248" width="1.1" height="1.6" fill="#b8b8b8"/>
</g>
<path d="M768 119h178v2h-178zM768 133h178v1h-178zM768 139h178v1h-178zM768 218h178v1h-178zM768 221h178v1h-178zM768 224h178v1h-178zM768 237h178v1h-178zM768 240h178v1h-178zM768 243h178v1h-178zM768 245h178v2h-178zM768 250h178v1h-178zM768 252h178v1h-178zM768 279h178v9h-178zM768 289h178v1h-178zM768 302h178v4h-178zM768 307h178v1h-178zM768 323h178v2h-178zM768 357h178v1h-178zM768 363h178v1h-178zM768 398h178v1h-178zM768 407h178v2h-178zM768 416h178v1h-178zM768 423h178v3h-178zM768 449h178v4h-178zM768 466h178v2h-178zM768 476h178v5h-178zM768 485h178v1h-178zM768 492h178v1h-178zM768 503h178v1h-178zM768 509h178v2h-178zM768 517h178v1h-178zM768 522h178v1h-178zM768 590h178v1h-178zM768 598h178v1h-178zM768 603h178v1h-178zM768 625h178v1h-178zM768 630h178v1h-178zM768 639h178v1h-178zM768 642h178v1h-178zM768 644h178v1h-178zM768 649h178v1h-178zM768 656h178v1h-178zM768 663h178v1h-178zM768 687h178v1h-178zM768 703h178v1h-178zM768 710h178v1h-178z" fill="#fff"/>
<path d="M768 83h178v1h-178zM768 113h178v1h-178zM768 121h178v1h-178zM768 131h178v1h-178zM768 135h178v1h-178zM768 143h178v1h-178zM768 164h178v1h-178zM768 189h178v1h-178zM768 191h178v1h-178zM768 201h178v1h-178zM768 235h178v1h-178zM768 247h178v1h-178zM768 259h178v1h-178zM768 269h178v1h-178zM768 315h178v1h-178zM768 343h178v1h-178zM768 370h178v1h-178zM768 418h178v1h-178zM768 420h178v1h-178zM768 428h178v1h-178zM768 448h178v1h-178zM768 454h178v1h-178zM768 458h178v2h-178zM768 484h178v1h-178zM768 500h178v1h-178zM768 504h178v1h-178zM768 512h178v1h-178zM768 514h178v1h-178zM768 523h178v1h-178zM768 583h178v1h-178zM768 594h178v3h-178zM768 637h178v2h-178zM768 640h178v2h-178zM768 699h178v1h-178z" fill="#000" shape-rendering="crispEdges"/>
<rect x="768.5" y="80.5" width="177" height="640" fill="none" stroke="#000" stroke-width="1"/>
<path d="M768.5 720.5v-5.5M768.5 80.5v5.5M810.5 720.5v-5.5M810.5 80.5v5.5M851.5 720.5v-5.5M851.5 80.5v5.5M892.5 720.5v-5.5M892.5 80.5v5.5M934.5 720.5v-5.5M934.5 80.5v5.5M768.5 720.5h5.5M945.5 720.5h-5.5M768.5 587.5h5.5M945.5 587.5h-5.5M768.5 453.5h5.5M945.5 453.5h-5.5M768.5 320.5h5.5M945.5 320.5h-5.5M768.5 187.5h5.5M945.5 187.5h-5.5" stroke="#000" stroke-width="0.8" fill="none"/>
<text x="768.6" y="735.9" font-size="12.5" text-anchor="middle" letter-spacing="-.45">320</text>
<text x="810.06" y="735.9" font-size="12.5" text-anchor="middle" letter-spacing="-.45">335</text>
<text x="851.52" y="735.9" font-size="12.5" text-anchor="middle" letter-spacing="-.45">350</text>
<text x="892.98" y="735.9" font-size="12.5" text-anchor="middle" letter-spacing="-.45">365</text>
<text x="934.44" y="735.9" font-size="12.5" text-anchor="middle" letter-spacing="-.45">380</text>
<text x="762.2" y="723.4" font-size="12.5" text-anchor="end" letter-spacing="-.45">0</text>
<text x="762.2" y="590.07" font-size="12.5" text-anchor="end" letter-spacing="-.45">5</text>
<text x="762.2" y="456.73" font-size="12.5" text-anchor="end" letter-spacing="-.45">10</text>
<text x="762.2" y="323.4" font-size="12.5" text-anchor="end" letter-spacing="-.45">15</text>
<text x="762.2" y="190.07" font-size="12.5" text-anchor="end" letter-spacing="-.45">20</text>
<text x="856.95" y="72.6" font-size="15" text-anchor="middle">YX, V0*V4=EA23*EA05</text>
<text x="525" y="26.3" font-size="12.5">2017-09-23 0.0-24.0</text>
<text x="432.2" y="754.9" font-size="12.5">frequency (MHz)</text>
<text transform="translate(101.3 400) rotate(-90)" font-size="12.5" text-anchor="middle">UT (hours)</text>
<rect x="1019" y="160" width="16" height="481" fill="url(#cb)"/>
<rect x="1019.5" y="160.5" width="15" height="480" fill="none" stroke="#000" stroke-width="1"/>
<path d="M1019.5 160.5h5.5M1034.5 160.5h-5.5M1019.5 256.5h5.5M1034.5 256.5h-5.5M1019.5 352.5h5.5M1034.5 352.5h-5.5M1019.5 448.5h5.5M1034.5 448.5h-5.5M1019.5 544.5h5.5M1034.5 544.5h-5.5M1019.5 640.5h5.5M1034.5 640.5h-5.5M1022.5 160.5v5.5M1022.5 640.5v-5.5M1024.5 160.5v5.5M1024.5 640.5v-5.5M1027.5 160.5v5.5M1027.5 640.5v-5.5M1029.5 160.5v5.5M1029.5 640.5v-5.5M1032.5 160.5v5.5M1032.5 640.5v-5.5" stroke="#000" stroke-width="0.8" fill="none"/>
<text x="1013.8" y="163.4" font-size="12.5" text-anchor="end">1</text>
<text x="1013.8" y="259.4" font-size="12.5" text-anchor="end">0</text>
<text x="1013.8" y="355.4" font-size="12.5" text-anchor="end"><tspan font-size="8.6" dy="-1.2">−</tspan><tspan dy="1.2">1</tspan></text>
<text x="1013.8" y="451.4" font-size="12.5" text-anchor="end"><tspan font-size="8.6" dy="-1.2">−</tspan><tspan dy="1.2">2</tspan></text>
<text x="1013.8" y="547.4" font-size="12.5" text-anchor="end"><tspan font-size="8.6" dy="-1.2">−</tspan><tspan dy="1.2">3</tspan></text>
<text x="1013.8" y="643.4" font-size="12.5" text-anchor="end"><tspan font-size="8.6" dy="-1.2">−</tspan><tspan dy="1.2">4</tspan></text>
<text x="1017" y="646.9" font-size="3.2" textLength="17" style="fill:#666">. . . . . .</text>
<text transform="translate(985 400.3) rotate(-90)" font-size="12.5" text-anchor="middle">log<tspan font-size="8.75" dy="3.3">10</tspan><tspan dy="-3.3"> amplitude</tspan></text>
</svg></body></html>
